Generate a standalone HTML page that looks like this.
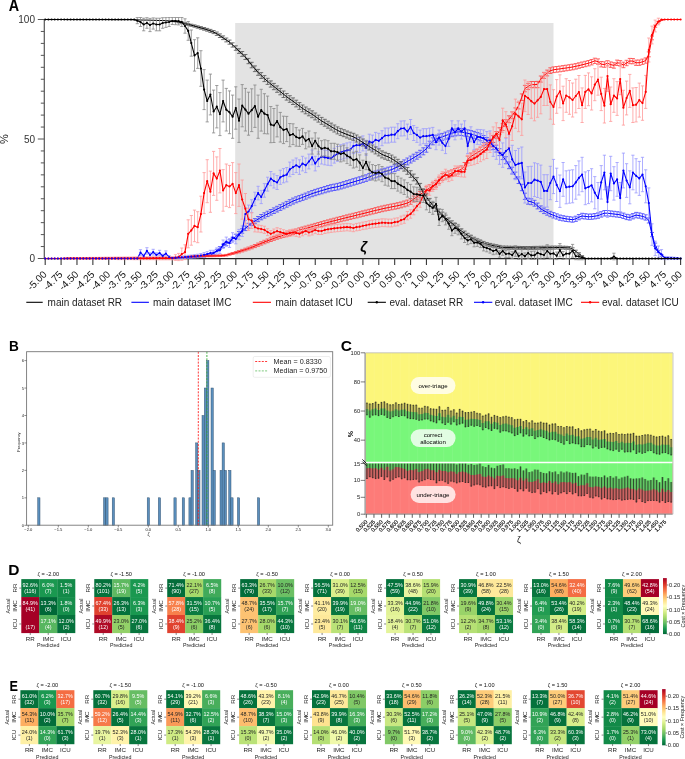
<!DOCTYPE html>
<html><head><meta charset="utf-8"><style>
html,body{margin:0;padding:0;background:#fff;}
svg{display:block;will-change:transform;}
text{font-family:"Liberation Sans",sans-serif;}
</style></head><body>
<svg width="685" height="759" viewBox="0 0 685 759">
<rect width="685" height="759" fill="#fff"/>
<rect x="235.2" y="23" width="318.3" height="235.5" fill="#e3e3e3"/>
<path d="M44.3 19.5V258.5" stroke="#555" stroke-width="1.2" fill="none"/><path d="M44.3 258.6H681" stroke="#222" stroke-width="1.3" fill="none"/>
<path d="M37.8 258.50H44.3M40.8 246.55H44.3M40.8 234.60H44.3M40.8 222.65H44.3M40.8 210.70H44.3M40.8 198.75H44.3M40.8 186.80H44.3M40.8 174.85H44.3M40.8 162.90H44.3M40.8 150.95H44.3M37.8 139.00H44.3M40.8 127.05H44.3M40.8 115.10H44.3M40.8 103.15H44.3M40.8 91.20H44.3M40.8 79.25H44.3M40.8 67.30H44.3M40.8 55.35H44.3M40.8 43.40H44.3M40.8 31.45H44.3M37.8 19.50H44.3" stroke="#555" stroke-width="1" fill="none"/>
<path d="M45.20 258.5V265M61.09 258.5V265M76.97 258.5V265M92.86 258.5V265M108.74 258.5V265M124.62 258.5V265M140.51 258.5V265M156.39 258.5V265M172.28 258.5V265M188.17 258.5V265M204.05 258.5V265M219.94 258.5V265M235.82 258.5V265M251.70 258.5V265M267.59 258.5V265M283.48 258.5V265M299.36 258.5V265M315.25 258.5V265M331.13 258.5V265M347.01 258.5V265M362.90 258.5V265M378.78 258.5V265M394.67 258.5V265M410.56 258.5V265M426.44 258.5V265M442.32 258.5V265M458.21 258.5V265M474.09 258.5V265M489.98 258.5V265M505.87 258.5V265M521.75 258.5V265M537.63 258.5V265M553.52 258.5V265M569.41 258.5V265M585.29 258.5V265M601.18 258.5V265M617.06 258.5V265M632.95 258.5V265M648.83 258.5V265M664.72 258.5V265M680.60 258.5V265" stroke="#3a3a3a" stroke-width="1.1" fill="none"/>
<g font-size="10" fill="#333" text-anchor="end">
<text x="35" y="262.0">0</text>
<text x="35" y="142.5">50</text>
<text x="35" y="23.0">100</text>
</g>
<text transform="translate(7.5 139) rotate(-90)" font-size="11" fill="#222" text-anchor="middle">%</text>
<g font-size="10" fill="#111" text-anchor="end">
<text transform="translate(47.4 275) rotate(-45)">-5.00</text>
<text transform="translate(63.3 275) rotate(-45)">-4.75</text>
<text transform="translate(79.2 275) rotate(-45)">-4.50</text>
<text transform="translate(95.1 275) rotate(-45)">-4.25</text>
<text transform="translate(110.9 275) rotate(-45)">-4.00</text>
<text transform="translate(126.8 275) rotate(-45)">-3.75</text>
<text transform="translate(142.7 275) rotate(-45)">-3.50</text>
<text transform="translate(158.6 275) rotate(-45)">-3.25</text>
<text transform="translate(174.5 275) rotate(-45)">-3.00</text>
<text transform="translate(190.4 275) rotate(-45)">-2.75</text>
<text transform="translate(206.2 275) rotate(-45)">-2.50</text>
<text transform="translate(222.1 275) rotate(-45)">-2.25</text>
<text transform="translate(238.0 275) rotate(-45)">-2.00</text>
<text transform="translate(253.9 275) rotate(-45)">-1.75</text>
<text transform="translate(269.8 275) rotate(-45)">-1.50</text>
<text transform="translate(285.7 275) rotate(-45)">-1.25</text>
<text transform="translate(301.6 275) rotate(-45)">-1.00</text>
<text transform="translate(317.4 275) rotate(-45)">-0.75</text>
<text transform="translate(333.3 275) rotate(-45)">-0.50</text>
<text transform="translate(349.2 275) rotate(-45)">-0.25</text>
<text transform="translate(365.1 275) rotate(-45)">0.00</text>
<text transform="translate(381.0 275) rotate(-45)">0.25</text>
<text transform="translate(396.9 275) rotate(-45)">0.50</text>
<text transform="translate(412.8 275) rotate(-45)">0.75</text>
<text transform="translate(428.6 275) rotate(-45)">1.00</text>
<text transform="translate(444.5 275) rotate(-45)">1.25</text>
<text transform="translate(460.4 275) rotate(-45)">1.50</text>
<text transform="translate(476.3 275) rotate(-45)">1.75</text>
<text transform="translate(492.2 275) rotate(-45)">2.00</text>
<text transform="translate(508.1 275) rotate(-45)">2.25</text>
<text transform="translate(524.0 275) rotate(-45)">2.50</text>
<text transform="translate(539.8 275) rotate(-45)">2.75</text>
<text transform="translate(555.7 275) rotate(-45)">3.00</text>
<text transform="translate(571.6 275) rotate(-45)">3.25</text>
<text transform="translate(587.5 275) rotate(-45)">3.50</text>
<text transform="translate(603.4 275) rotate(-45)">3.75</text>
<text transform="translate(619.3 275) rotate(-45)">4.00</text>
<text transform="translate(635.1 275) rotate(-45)">4.25</text>
<text transform="translate(651.0 275) rotate(-45)">4.50</text>
<text transform="translate(666.9 275) rotate(-45)">4.75</text>
<text transform="translate(682.8 275) rotate(-45)">5.00</text>
</g>
<path d="M204.1 255.6V257M202.1 255.6H206.1M202.1 257H206.1M207.2 254.8V256.4M205.2 254.8H209.2M205.2 256.4H209.2M210.4 254V255.7M208.4 254H212.4M208.4 255.7H212.4M213.6 252.2V254.2M211.6 252.2H215.6M211.6 254.2H215.6M216.8 249.3V251.8M214.8 249.3H218.8M214.8 251.8H218.8M219.9 246.5V249.4M217.9 246.5H221.9M217.9 249.4H221.9M223.1 244.2V247.4M221.1 244.2H225.1M221.1 247.4H225.1M226.3 242V245.4M224.3 242H228.3M224.3 245.4H228.3M229.5 239.8V243.4M227.5 239.8H231.5M227.5 243.4H231.5M232.6 237.2V241M230.6 237.2H234.6M230.6 241H234.6M235.8 234.3V238.4M233.8 234.3H237.8M233.8 238.4H237.8M239 231.5V235.8M237 231.5H241M237 235.8H241M242.2 228.7V233.2M240.2 228.7H244.2M240.2 233.2H244.2M245.4 226V230.6M243.4 226H247.4M243.4 230.6H247.4M248.5 223.3V228.1M246.5 223.3H250.5M246.5 228.1H250.5M251.7 220.6V225.6M249.7 220.6H253.7M249.7 225.6H253.7M254.9 218.6V223.7M252.9 218.6H256.9M252.9 223.7H256.9M258.1 216.5V221.7M256.1 216.5H260.1M256.1 221.7H260.1M261.2 214.5V219.8M259.2 214.5H263.2M259.2 219.8H263.2M264.4 212.8V218.1M262.4 212.8H266.4M262.4 218.1H266.4M267.6 211.2V216.6M265.6 211.2H269.6M265.6 216.6H269.6M270.8 209.5V215.1M268.8 209.5H272.8M268.8 215.1H272.8M273.9 207.9V213.5M271.9 207.9H275.9M271.9 213.5H275.9M277.1 206.3V212M275.1 206.3H279.1M275.1 212H279.1M280.3 204.6V210.4M278.3 204.6H282.3M278.3 210.4H282.3M283.5 203V208.8M281.5 203H285.5M281.5 208.8H285.5M286.7 201.4V207.2M284.7 201.4H288.7M284.7 207.2H288.7M289.8 199.7V205.7M287.8 199.7H291.8M287.8 205.7H291.8M293 198.1V204.1M291 198.1H295M291 204.1H295M296.2 196.8V202.8M294.2 196.8H298.2M294.2 202.8H298.2M299.4 195.6V201.6M297.4 195.6H301.4M297.4 201.6H301.4M302.5 194.3V200.4M300.5 194.3H304.5M300.5 200.4H304.5M305.7 193.1V199.2M303.7 193.1H307.7M303.7 199.2H307.7M308.9 191.8V197.9M306.9 191.8H310.9M306.9 197.9H310.9M312.1 190.5V196.7M310.1 190.5H314.1M310.1 196.7H314.1M315.2 189.4V195.7M313.2 189.4H317.2M313.2 195.7H317.2M318.4 188.4V194.7M316.4 188.4H320.4M316.4 194.7H320.4M321.6 187.5V193.8M319.6 187.5H323.6M319.6 193.8H323.6M324.8 186.5V192.8M322.8 186.5H326.8M322.8 192.8H326.8M328 185.5V191.9M326 185.5H330M326 191.9H330M331.1 184.7V191.1M329.1 184.7H333.1M329.1 191.1H333.1M334.3 184.1V190.5M332.3 184.1H336.3M332.3 190.5H336.3M337.5 183.4V189.9M335.5 183.4H339.5M335.5 189.9H339.5M340.7 182.6V189M338.7 182.6H342.7M338.7 189H342.7M343.8 181.6V188.1M341.8 181.6H345.8M341.8 188.1H345.8M347 180.6V187.1M345 180.6H349M345 187.1H349M350.2 179.7V186.2M348.2 179.7H352.2M348.2 186.2H352.2M353.4 178.7V185.2M351.4 178.7H355.4M351.4 185.2H355.4M356.5 177.8V184.3M354.5 177.8H358.5M354.5 184.3H358.5M359.7 176.8V183.4M357.7 176.8H361.7M357.7 183.4H361.7M362.9 175.9V182.4M360.9 175.9H364.9M360.9 182.4H364.9M366.1 174.8V181.4M364.1 174.8H368.1M364.1 181.4H368.1M369.3 173.5V180.1M367.3 173.5H371.3M367.3 180.1H371.3M372.4 172.2V178.9M370.4 172.2H374.4M370.4 178.9H374.4M375.6 171.1V177.8M373.6 171.1H377.6M373.6 177.8H377.6M378.8 170.1V176.8M376.8 170.1H380.8M376.8 176.8H380.8M382 169.1V175.9M380 169.1H384M380 175.9H384M385.1 168.2V174.9M383.1 168.2H387.1M383.1 174.9H387.1M388.3 167.2V174M386.3 167.2H390.3M386.3 174H390.3M391.5 166.3V173M389.5 166.3H393.5M389.5 173H393.5M394.7 164.8V171.6M392.7 164.8H396.7M392.7 171.6H396.7M397.8 163.4V170.2M395.8 163.4H399.8M395.8 170.2H399.8M401 161.8V168.7M399 161.8H403M399 168.7H403M404.2 159.9V166.8M402.2 159.9H406.2M402.2 166.8H406.2M407.4 158V164.9M405.4 158H409.4M405.4 164.9H409.4M410.6 156.1V163M408.6 156.1H412.6M408.6 163H412.6M413.7 154.2V161.1M411.7 154.2H415.7M411.7 161.1H415.7M416.9 152.3V159.2M414.9 152.3H418.9M414.9 159.2H418.9M420.1 150.3V157.2M418.1 150.3H422.1M418.1 157.2H422.1M423.3 147.8V154.8M421.3 147.8H425.3M421.3 154.8H425.3M426.4 145.3V152.2M424.4 145.3H428.4M424.4 152.2H428.4M429.6 141.2V148.2M427.6 141.2H431.6M427.6 148.2H431.6M432.8 137.8V144.8M430.8 137.8H434.8M430.8 144.8H434.8M436 135.4V142.4M434 135.4H438M434 142.4H438M439.1 134.1V141.1M437.1 134.1H441.1M437.1 141.1H441.1M442.3 133.4V140.4M440.3 133.4H444.3M440.3 140.4H444.3M445.5 132.1V139.1M443.5 132.1H447.5M443.5 139.1H447.5M448.7 130.9V137.9M446.7 130.9H450.7M446.7 137.9H450.7M451.9 129.7V136.7M449.9 129.7H453.9M449.9 136.7H453.9M455 128.9V135.9M453 128.9H457M453 135.9H457M458.2 128.3V135.3M456.2 128.3H460.2M456.2 135.3H460.2M461.4 128.5V135.5M459.4 128.5H463.4M459.4 135.5H463.4M464.6 129.1V136.1M462.6 129.1H466.6M462.6 136.1H466.6M467.7 129.8V136.8M465.7 129.8H469.7M465.7 136.8H469.7M470.9 130.5V137.5M468.9 130.5H472.9M468.9 137.5H472.9M474.1 131.4V138.4M472.1 131.4H476.1M472.1 138.4H476.1M477.3 132.5V139.5M475.3 132.5H479.3M475.3 139.5H479.3M480.4 133.8V140.8M478.4 133.8H482.4M478.4 140.8H482.4M483.6 135.5V142.5M481.6 135.5H485.6M481.6 142.5H485.6M486.8 137.5V144.5M484.8 137.5H488.8M484.8 144.5H488.8M490 140V147M488 140H492M488 147H492M493.2 142.6V149.6M491.2 142.6H495.2M491.2 149.6H495.2M496.3 145.2V152.1M494.3 145.2H498.3M494.3 152.1H498.3M499.5 148.7V155.6M497.5 148.7H501.5M497.5 155.6H501.5M502.7 152.7V159.6M500.7 152.7H504.7M500.7 159.6H504.7M505.9 156.7V163.6M503.9 156.7H507.9M503.9 163.6H507.9M509 161.9V168.7M507 161.9H511M507 168.7H511M512.2 167.2V174M510.2 167.2H514.2M510.2 174H514.2M515.4 172.1V178.8M513.4 172.1H517.4M513.4 178.8H517.4M518.6 176.9V183.5M516.6 176.9H520.6M516.6 183.5H520.6M521.8 184.3V190.7M519.8 184.3H523.8M519.8 190.7H523.8M524.9 193.2V199.4M522.9 193.2H526.9M522.9 199.4H526.9M528.1 198.2V204.2M526.1 198.2H530.1M526.1 204.2H530.1M531.3 198.8V204.7M529.3 198.8H533.3M529.3 204.7H533.3M534.5 200.3V206.2M532.5 200.3H536.5M532.5 206.2H536.5M537.6 203.1V208.9M535.6 203.1H539.6M535.6 208.9H539.6M540.8 205.9V211.6M538.8 205.9H542.8M538.8 211.6H542.8M544 208V213.6M542 208H546M542 213.6H546M547.2 209.7V215.2M545.2 209.7H549.2M545.2 215.2H549.2M550.3 211.3V216.7M548.3 211.3H552.3M548.3 216.7H552.3M553.5 212.6V218M551.5 212.6H555.5M551.5 218H555.5M556.7 213.8V219.1M554.7 213.8H558.7M554.7 219.1H558.7M559.9 215V220.3M557.9 215H561.9M557.9 220.3H561.9M563.1 215.7V220.9M561.1 215.7H565.1M561.1 220.9H565.1M566.2 216.3V221.5M564.2 216.3H568.2M564.2 221.5H568.2M569.4 216.7V221.8M567.4 216.7H571.4M567.4 221.8H571.4M572.6 217.1V222.2M570.6 217.1H574.6M570.6 222.2H574.6M575.8 216.2V221.4M573.8 216.2H577.8M573.8 221.4H577.8M578.9 214.5V219.8M576.9 214.5H580.9M576.9 219.8H580.9M582.1 213.3V218.7M580.1 213.3H584.1M580.1 218.7H584.1M585.3 213.7V219M583.3 213.7H587.3M583.3 219H587.3M588.5 214.1V219.4M586.5 214.1H590.5M586.5 219.4H590.5M591.6 214V219.3M589.6 214H593.6M589.6 219.3H593.6M594.8 213.5V218.9M592.8 213.5H596.8M592.8 218.9H596.8M598 212.9V218.3M596 212.9H600M596 218.3H600M601.2 211.7V217.1M599.2 211.7H603.2M599.2 217.1H603.2M604.4 210.5V216M602.4 210.5H606.4M602.4 216H606.4M607.5 210.5V215.9M605.5 210.5H609.5M605.5 215.9H609.5M610.7 210.9V216.3M608.7 210.9H612.7M608.7 216.3H612.7M613.9 211.3V216.7M611.9 211.3H615.9M611.9 216.7H615.9M617.1 211.7V217.1M615.1 211.7H619.1M615.1 217.1H619.1M620.2 212.1V217.5M618.2 212.1H622.2M618.2 217.5H622.2M623.4 213.1V218.5M621.4 213.1H625.4M621.4 218.5H625.4M626.6 214.3V219.6M624.6 214.3H628.6M624.6 219.6H628.6M629.8 214.8V220.1M627.8 214.8H631.8M627.8 220.1H631.8M632.9 213.6V218.9M630.9 213.6H634.9M630.9 218.9H634.9M636.1 212.4V217.8M634.1 212.4H638.1M634.1 217.8H638.1M639.3 212.9V218.2M637.3 212.9H641.3M637.3 218.2H641.3M642.5 213.7V219M640.5 213.7H644.5M640.5 219H644.5M645.7 214.8V220.1M643.7 214.8H647.7M643.7 220.1H647.7M648.8 217.9V223M646.8 217.9H650.8M646.8 223H650.8M652 232.5V236.7M650 232.5H654M650 236.7H654M655.2 243.1V246.4M653.2 243.1H657.2M653.2 246.4H657.2M658.4 250.4V252.7M656.4 250.4H660.4M656.4 252.7H660.4M661.5 254.6V256.2M659.5 254.6H663.5M659.5 256.2H663.5" stroke="#44f" stroke-width="0.8" fill="none"/>
<path d="M45.2 258.5 48.4 258.5 51.6 258.5 54.7 258.5 57.9 258.5 61.1 258.4 64.3 258.4 67.4 258.4 70.6 258.4 73.8 258.4 77 258.4 80.1 258.4 83.3 258.4 86.5 258.4 89.7 258.3 92.9 258.3 96 258.3 99.2 258.3 102.4 258.3 105.6 258.3 108.7 258.3 111.9 258.3 115.1 258.3 118.3 258.2 121.4 258.2 124.6 258.2 127.8 258.2 131 258.2 134.2 258.2 137.3 258.2 140.5 258.2 143.7 258.1 146.9 258.1 150 258.1 153.2 258.1 156.4 258.1 159.6 258.1 162.7 258.1 165.9 258.1 169.1 258.1 172.3 258 175.5 258 178.6 258 181.8 258 185 258 188.2 257.9 191.3 257.8 194.5 257.7 197.7 257.5 200.9 257 204.1 256.3 207.2 255.6 210.4 254.9 213.6 253.2 216.8 250.5 219.9 247.9 223.1 245.8 226.3 243.7 229.5 241.6 232.6 239.1 235.8 236.4 239 233.6 242.2 230.9 245.4 228.3 248.5 225.7 251.7 223.1 254.9 221.1 258.1 219.1 261.2 217.1 264.4 215.5 267.6 213.9 270.8 212.3 273.9 210.7 277.1 209.1 280.3 207.5 283.5 205.9 286.7 204.3 289.8 202.7 293 201.1 296.2 199.8 299.4 198.6 302.5 197.4 305.7 196.1 308.9 194.9 312.1 193.6 315.2 192.6 318.4 191.6 321.6 190.6 324.8 189.7 328 188.7 331.1 187.9 334.3 187.3 337.5 186.7 340.7 185.8 343.8 184.9 347 183.9 350.2 182.9 353.4 182 356.5 181 359.7 180.1 362.9 179.2 366.1 178.1 369.3 176.8 372.4 175.6 375.6 174.4 378.8 173.5 382 172.5 385.1 171.5 388.3 170.6 391.5 169.7 394.7 168.2 397.8 166.8 401 165.2 404.2 163.3 407.4 161.4 410.6 159.6 413.7 157.7 416.9 155.8 420.1 153.8 423.3 151.3 426.4 148.7 429.6 144.7 432.8 141.3 436 138.9 439.1 137.6 442.3 136.9 445.5 135.6 448.7 134.4 451.9 133.2 455 132.4 458.2 131.8 461.4 132 464.6 132.6 467.7 133.3 470.9 134 474.1 134.9 477.3 136 480.4 137.3 483.6 139 486.8 141 490 143.5 493.2 146.1 496.3 148.6 499.5 152.2 502.7 156.2 505.9 160.2 509 165.3 512.2 170.6 515.4 175.5 518.6 180.2 521.8 187.5 524.9 196.3 528.1 201.2 531.3 201.8 534.5 203.2 537.6 206 540.8 208.8 544 210.8 547.2 212.4 550.3 214 553.5 215.3 556.7 216.5 559.9 217.7 563.1 218.3 566.2 218.9 569.4 219.3 572.6 219.7 575.8 218.8 578.9 217.2 582.1 216 585.3 216.4 588.5 216.8 591.6 216.6 594.8 216.2 598 215.6 601.2 214.4 604.4 213.2 607.5 213.2 610.7 213.6 613.9 214 617.1 214.4 620.2 214.8 623.4 215.8 626.6 217 629.8 217.4 632.9 216.3 636.1 215.1 639.3 215.6 642.5 216.4 645.7 217.4 648.8 220.4 652 234.6 655.2 244.8 658.4 251.6 661.5 255.4 664.7 257.2 667.9 258.4 671.1 258.5 674.2 258.5 677.4 258.5 680.6 258.5" stroke="#00f" stroke-width="1" fill="none" stroke-linejoin="round"/>
<path d="M140.5 249.7V255.3M138.9 249.7H142.1M138.9 255.3H142.1M143.7 254.2V257.8M142.1 254.2H145.3M142.1 257.8H145.3M146.9 247.7V254.1M145.3 247.7H148.5M145.3 254.1H148.5M150 252.8V257.2M148.4 252.8H151.6M148.4 257.2H151.6M153.2 249.3V255.1M151.6 249.3H154.8M151.6 255.1H154.8M156.4 252.8V257.2M154.8 252.8H158M154.8 257.2H158M159.6 250.3V255.7M158 250.3H161.2M158 255.7H161.2M162.7 254.2V257.8M161.1 254.2H164.3M161.1 257.8H164.3M165.9 250.9V256.1M164.3 250.9H167.5M164.3 256.1H167.5M169.1 255.6V258.4M167.5 255.6H170.7M167.5 258.4H170.7M172.3 257.2V258.8M170.7 257.2H173.9M170.7 258.8H173.9M175.5 256.8V258.8M173.9 256.8H177.1M173.9 258.8H177.1M178.6 256.4V258.7M177 256.4H180.2M177 258.7H180.2M181.8 256V258.6M180.2 256H183.4M180.2 258.6H183.4M185 255.7V258.4M183.4 255.7H186.6M183.4 258.4H186.6M188.2 255.3V258.3M186.6 255.3H189.8M186.6 258.3H189.8M191.3 255V258.2M189.7 255H192.9M189.7 258.2H192.9M194.5 254.6V258M192.9 254.6H196.1M192.9 258H196.1M197.7 254.2V257.8M196.1 254.2H199.3M196.1 257.8H199.3M200.9 253.5V257.5M199.3 253.5H202.5M199.3 257.5H202.5M204.1 252.6V257M202.5 252.6H205.7M202.5 257H205.7M207.2 251.7V256.5M205.6 251.7H208.8M205.6 256.5H208.8M210.4 250.3V255.7M208.8 250.3H212M208.8 255.7H212M213.6 250.3V255.7M212 250.3H215.2M212 255.7H215.2M216.8 247.9V254.2M215.2 247.9H218.4M215.2 254.2H218.4M219.9 247V253.6M218.3 247H221.5M218.3 253.6H221.5M223.1 240V248.5M221.5 240H224.7M221.5 248.5H224.7M226.3 237.1V246.3M224.7 237.1H227.9M224.7 246.3H227.9M229.5 238.6V247.4M227.9 238.6H231.1M227.9 247.4H231.1M232.6 232.7V242.7M231 232.7H234.2M231 242.7H234.2M235.8 234.2V243.8M234.2 234.2H237.4M234.2 243.8H237.4M239 229.4V239.7M237.4 229.4H240.6M237.4 239.7H240.6M242.2 225.9V236.5M240.6 225.9H243.8M240.6 236.5H243.8M245.4 207.7V220.5M243.8 207.7H247M243.8 220.5H247M248.5 205.1V217.9M246.9 205.1H250.1M246.9 217.9H250.1M251.7 199.7V212.7M250.1 199.7H253.3M250.1 212.7H253.3M254.9 192.2V205.6M253.3 192.2H256.5M253.3 205.6H256.5M258.1 186.3V199.9M256.5 186.3H259.7M256.5 199.9H259.7M261.2 190.4V203.6M259.6 190.4H262.8M259.6 203.6H262.8M264.4 183.6V197.2M262.8 183.6H266M262.8 197.2H266M267.6 177.2V191.1M266 177.2H269.2M266 191.1H269.2M270.8 171.5V185.7M269.2 171.5H272.4M269.2 185.7H272.4M273.9 173.9V188M272.3 173.9H275.5M272.3 188H275.5M277.1 175.5V189.5M275.5 175.5H278.7M275.5 189.5H278.7M280.3 170.2V184.4M278.7 170.2H281.9M278.7 184.4H281.9M283.5 168.6V182.8M281.9 168.6H285.1M281.9 182.8H285.1M286.7 167.5V181.9M285.1 167.5H288.3M285.1 181.9H288.3M289.8 162.1V176.7M288.2 162.1H291.4M288.2 176.7H291.4M293 160V174.5M291.4 160H294.6M291.4 174.5H294.6M296.2 158V172.6M294.6 158H297.8M294.6 172.6H297.8M299.4 159.8V174.4M297.8 159.8H301M297.8 174.4H301M302.5 156.3V170.9M300.9 156.3H304.1M300.9 170.9H304.1M305.7 158V172.6M304.1 158H307.3M304.1 172.6H307.3M308.9 154.1V168.9M307.3 154.1H310.5M307.3 168.9H310.5M312.1 150V164.8M310.5 150H313.7M310.5 164.8H313.7M315.2 156.3V170.9M313.6 156.3H316.8M313.6 170.9H316.8M318.4 151.8V166.6M316.8 151.8H320M316.8 166.6H320M321.6 149.2V164M320 149.2H323.2M320 164H323.2M324.8 150V164.8M323.2 150H326.4M323.2 164.8H326.4M328 150.5V165.3M326.4 150.5H329.6M326.4 165.3H329.6M331.1 150.9V165.7M329.5 150.9H332.7M329.5 165.7H332.7M334.3 148.3V163.1M332.7 148.3H335.9M332.7 163.1H335.9M337.5 146.5V161.3M335.9 146.5H339.1M335.9 161.3H339.1M340.7 144.7V159.7M339.1 144.7H342.3M339.1 159.7H342.3M343.8 143.8V158.8M342.2 143.8H345.4M342.2 158.8H345.4M347 142.9V157.9M345.4 142.9H348.6M345.4 157.9H348.6M350.2 142.1V157.1M348.6 142.1H351.8M348.6 157.1H351.8M353.4 138.6V153.6M351.8 138.6H355M351.8 153.6H355M356.5 137.7V152.7M354.9 137.7H358.1M354.9 152.7H358.1M359.7 137.7V152.7M358.1 137.7H361.3M358.1 152.7H361.3M362.9 135.9V150.9M361.3 135.9H364.5M361.3 150.9H364.5M366.1 140.3V155.3M364.5 140.3H367.7M364.5 155.3H367.7M369.3 134.2V149.2M367.7 134.2H370.9M367.7 149.2H370.9M372.4 135.1V150.1M370.8 135.1H374M370.8 150.1H374M375.6 132.4V147.4M374 132.4H377.2M374 147.4H377.2M378.8 133.3V148.3M377.2 133.3H380.4M377.2 148.3H380.4M382 130.7V145.7M380.4 130.7H383.6M380.4 145.7H383.6M385.1 128V143M383.5 128H386.7M383.5 143H386.7M388.3 128V143M386.7 128H389.9M386.7 143H389.9M391.5 127.2V142.2M389.9 127.2H393.1M389.9 142.2H393.1M394.7 127.2V142.2M393.1 127.2H396.3M393.1 142.2H396.3M397.8 123.7V138.7M396.2 123.7H399.4M396.2 138.7H399.4M401 121V136M399.4 121H402.6M399.4 136H402.6M404.2 120.8V135.8M402.6 120.8H405.8M402.6 135.8H405.8M407.4 124.1V139.1M405.8 124.1H409M405.8 139.1H409M410.6 119.5V134.5M409 119.5H412.2M409 134.5H412.2M413.7 125.5V140.5M412.1 125.5H415.3M412.1 140.5H415.3M416.9 127.4V142.4M415.3 127.4H418.5M415.3 142.4H418.5M420.1 130.1V145.1M418.5 130.1H421.7M418.5 145.1H421.7M423.3 128.7V143.7M421.7 128.7H424.9M421.7 143.7H424.9M426.4 128.7V143.7M424.8 128.7H428M424.8 143.7H428M429.6 128.1V143.1M428 128.1H431.2M428 143.1H431.2M432.8 127.4V142.4M431.2 127.4H434.4M431.2 142.4H434.4M436 134.7V149.7M434.4 134.7H437.6M434.4 149.7H437.6M439.1 130.1V145.1M437.5 130.1H440.7M437.5 145.1H440.7M442.3 135.3V150.3M440.7 135.3H443.9M440.7 150.3H443.9M445.5 138.6V153.6M443.9 138.6H447.1M443.9 153.6H447.1M448.7 131.4V146.4M447.1 131.4H450.3M447.1 146.4H450.3M451.9 120.8V135.8M450.3 120.8H453.5M450.3 135.8H453.5M455 124.8V139.8M453.4 124.8H456.6M453.4 139.8H456.6M458.2 120.8V135.8M456.6 120.8H459.8M456.6 135.8H459.8M461.4 124.1V139.1M459.8 124.1H463M459.8 139.1H463M464.6 120.8V135.8M463 120.8H466.2M463 135.8H466.2M467.7 138.6V153.6M466.1 138.6H469.3M466.1 153.6H469.3M470.9 126.8V141.8M469.3 126.8H472.5M469.3 141.8H472.5M474.1 134.7V149.7M472.5 134.7H475.7M472.5 149.7H475.7M477.3 129.4V144.4M475.7 129.4H478.9M475.7 144.4H478.9M480.4 129.6V144.8M478.8 129.6H482M478.8 144.8H482M483.6 129.9V146.4M482 129.9H485.2M482 146.4H485.2M486.8 131.6V149.4M485.2 131.6H488.4M485.2 149.4H488.4M490 130.9V150.1M488.4 130.9H491.6M488.4 150.1H491.6M493.2 135.9V156.4M491.6 135.9H494.8M491.6 156.4H494.8M496.3 137.5V159.3M494.7 137.5H497.9M494.7 159.3H497.9M499.5 141.3V164.3M497.9 141.3H501.1M497.9 164.3H501.1M502.7 142.9V167.3M501.1 142.9H504.3M501.1 167.3H504.3M505.9 138.2V164M504.3 138.2H507.5M504.3 164H507.5M509 134.8V162M507.4 134.8H510.6M507.4 162H510.6M512.2 145.3V173.4M510.6 145.3H513.8M510.6 173.4H513.8M515.4 150.5V179.7M513.8 150.5H517M513.8 179.7H517M518.6 148.4V178.9M517 148.4H520.2M517 178.9H520.2M521.8 147V178.8M520.1 147H523.4M520.1 178.8H523.4M524.9 172V203M523.3 172H526.5M523.3 203H526.5M528.1 166.6V199.4M526.5 166.6H529.7M526.5 199.4H529.7M531.3 166.3V199.7M529.7 166.3H532.9M529.7 199.7H532.9M534.5 162.8V196.6M532.9 162.8H536.1M532.9 196.6H536.1M537.6 163.7V197.5M536 163.7H539.2M536 197.5H539.2M540.8 165.1V198.7M539.2 165.1H542.4M539.2 198.7H542.4M544 174.7V207.1M542.4 174.7H545.6M542.4 207.1H545.6M547.2 174.7V207.1M545.6 174.7H548.8M545.6 207.1H548.8M550.3 166.3V199.7M548.7 166.3H551.9M548.7 199.7H551.9M553.5 159.4V193.6M551.9 159.4H555.1M551.9 193.6H555.1M556.7 168.2V201.5M555.1 168.2H558.3M555.1 201.5H558.3M559.9 175V207.4M558.3 175H561.5M558.3 207.4H561.5M563.1 162.5V196.3M561.5 162.5H564.7M561.5 196.3H564.7M566.2 170.8V203.8M564.6 170.8H567.8M564.6 203.8H567.8M569.4 170.2V203.2M567.8 170.2H571M567.8 203.2H571M572.6 169.8V202.8M571 169.8H574.2M571 202.8H574.2M575.8 165.6V199.2M574.2 165.6H577.4M574.2 199.2H577.4M578.9 160.9V195M577.3 160.9H580.5M577.3 195H580.5M582.1 157.3V191.7M580.5 157.3H583.7M580.5 191.7H583.7M585.3 171.9V204.7M583.7 171.9H586.9M583.7 204.7H586.9M588.5 170.6V203.6M586.9 170.6H590.1M586.9 203.6H590.1M591.6 168.7V201.9M590 168.7H593.2M590 201.9H593.2M594.8 176.6V208.8M593.2 176.6H596.4M593.2 208.8H596.4M598 182.5V213.7M596.4 182.5H599.6M596.4 213.7H599.6M601.2 165.6V199.1M599.6 165.6H602.8M599.6 199.1H602.8M604.4 155.2V189.8M602.8 155.2H606M602.8 189.8H606M607.5 186.8V217.4M605.9 186.8H609.1M605.9 217.4H609.1M610.7 156.3V190.7M609.1 156.3H612.3M609.1 190.7H612.3M613.9 166.7V200.1M612.3 166.7H615.5M612.3 200.1H615.5M617.1 162.5V196.3M615.5 162.5H618.7M615.5 196.3H618.7M620.2 182.5V213.7M618.6 182.5H621.8M618.6 213.7H621.8M623.4 153.1V187.9M621.8 153.1H625M621.8 187.9H625M626.6 163.7V197.4M625 163.7H628.2M625 197.4H628.2M629.8 170.8V203.8M628.2 170.8H631.4M628.2 203.8H631.4M632.9 155.2V189.8M631.3 155.2H634.5M631.3 189.8H634.5M636.1 158.7V192.9M634.5 158.7H637.7M634.5 192.9H637.7M639.3 161.4V195.4M637.7 161.4H640.9M637.7 195.4H640.9M642.5 157.3V191.7M640.9 157.3H644.1M640.9 191.7H644.1M645.7 169.8V202.8M644.1 169.8H647.3M644.1 202.8H647.3M648.8 187.9V218.3M647.2 187.9H650.4M647.2 218.3H650.4M652 223.8V245.4M650.4 223.8H653.6M650.4 245.4H653.6M655.2 241.2V255.6M653.6 241.2H656.8M653.6 255.6H656.8M658.4 246V257.8M656.8 246H660M656.8 257.8H660M661.5 249.6V259M659.9 249.6H663.1M659.9 259H663.1M664.7 256.4V259.6M663.1 256.4H666.3M663.1 259.6H666.3M667.9 256.6V259.6M666.3 256.6H669.5M666.3 259.6H669.5M671.1 256.9V259.5M669.5 256.9H672.7M669.5 259.5H672.7M674.2 257.2V259.4M672.6 257.2H675.8M672.6 259.4H675.8M677.4 257.6V259.2M675.8 257.6H679M675.8 259.2H679" stroke="#99f" stroke-width="0.8" fill="none"/>
<path d="M45.2 258.5 48.4 258.5 51.6 258.5 54.7 258.5 57.9 258.5 61.1 258.5 64.3 258.5 67.4 258.5 70.6 258.5 73.8 258.5 77 258.5 80.1 258.5 83.3 258.5 86.5 258.5 89.7 258.5 92.9 258.5 96 258.5 99.2 258.5 102.4 258.5 105.6 258.5 108.7 258.5 111.9 258.5 115.1 258.5 118.3 258.5 121.4 258.5 124.6 258.5 127.8 258.5 131 258.5 134.2 258.5 137.3 258.5 140.5 252.5 143.7 256 146.9 250.9 150 255 153.2 252.2 156.4 255 159.6 253 162.7 256 165.9 253.5 169.1 257 172.3 258 175.5 257.8 178.6 257.5 181.8 257.3 185 257.1 188.2 256.8 191.3 256.6 194.5 256.3 197.7 256 200.9 255.5 204.1 254.8 207.2 254.1 210.4 253 213.6 253 216.8 251 219.9 250.3 223.1 244.3 226.3 241.7 229.5 243 232.6 237.7 235.8 239 239 234.6 242.2 231.2 245.4 214.1 248.5 211.5 251.7 206.2 254.9 198.9 258.1 193.1 261.2 197 264.4 190.4 267.6 184.1 270.8 178.6 273.9 181 277.1 182.5 280.3 177.3 283.5 175.7 286.7 174.7 289.8 169.4 293 167.2 296.2 165.3 299.4 167.1 302.5 163.6 305.7 165.3 308.9 161.5 312.1 157.4 315.2 163.6 318.4 159.2 321.6 156.6 324.8 157.4 328 157.9 331.1 158.3 334.3 155.7 337.5 153.9 340.7 152.2 343.8 151.3 347 150.4 350.2 149.6 353.4 146.1 356.5 145.2 359.7 145.2 362.9 143.4 366.1 147.8 369.3 141.7 372.4 142.6 375.6 139.9 378.8 140.8 382 138.2 385.1 135.5 388.3 135.5 391.5 134.7 394.7 134.7 397.8 131.2 401 128.5 404.2 128.3 407.4 131.6 410.6 127 413.7 133 416.9 134.9 420.1 137.6 423.3 136.2 426.4 136.2 429.6 135.6 432.8 134.9 436 142.2 439.1 137.6 442.3 142.8 445.5 146.1 448.7 138.9 451.9 128.3 455 132.3 458.2 128.3 461.4 131.6 464.6 128.3 467.7 146.1 470.9 134.3 474.1 142.2 477.3 136.9 480.4 137.2 483.6 138.1 486.8 140.5 490 140.5 493.2 146.1 496.3 148.4 499.5 152.8 502.7 155.1 505.9 151.1 509 148.4 512.2 159.4 515.4 165.1 518.6 163.7 521.8 162.9 524.9 187.5 528.1 183 531.3 183 534.5 179.7 537.6 180.6 540.8 181.9 544 190.9 547.2 190.9 550.3 183 553.5 176.5 556.7 184.9 559.9 191.2 563.1 179.4 566.2 187.3 569.4 186.7 572.6 186.3 575.8 182.4 578.9 177.9 582.1 174.5 585.3 188.3 588.5 187.1 591.6 185.3 594.8 192.7 598 198.1 601.2 182.4 604.4 172.5 607.5 202.1 610.7 173.5 613.9 183.4 617.1 179.4 620.2 198.1 623.4 170.5 626.6 180.6 629.8 187.3 632.9 172.5 636.1 175.8 639.3 178.4 642.5 174.5 645.7 186.3 648.8 203.1 652 234.6 655.2 248.4 658.4 251.9 661.5 254.3 664.7 258 667.9 258.1 671.1 258.2 674.2 258.3 677.4 258.4 680.6 258.5" stroke="#00f" stroke-width="1.1" fill="none" stroke-linejoin="round"/>
<path d="M191.3 255.9V257.2M189.3 255.9H193.3M189.3 257.2H193.3M194.5 255.7V257M192.5 255.7H196.5M192.5 257H196.5M197.7 255.4V256.8M195.7 255.4H199.7M195.7 256.8H199.7M200.9 255.3V256.7M198.9 255.3H202.9M198.9 256.7H202.9M204.1 255.3V256.7M202.1 255.3H206.1M202.1 256.7H206.1M207.2 255.3V256.7M205.2 255.3H209.2M205.2 256.7H209.2M210.4 255.3V256.7M208.4 255.3H212.4M208.4 256.7H212.4M213.6 255.2V256.7M211.6 255.2H215.6M211.6 256.7H215.6M216.8 255.1V256.6M214.8 255.1H218.8M214.8 256.6H218.8M219.9 254.9V256.5M217.9 254.9H221.9M217.9 256.5H221.9M223.1 254.8V256.3M221.1 254.8H225.1M221.1 256.3H225.1M226.3 254.4V256M224.3 254.4H228.3M224.3 256H228.3M229.5 253.4V255.2M227.5 253.4H231.5M227.5 255.2H231.5M232.6 252.5V254.5M230.6 252.5H234.6M230.6 254.5H234.6M235.8 251.6V253.7M233.8 251.6H237.8M233.8 253.7H237.8M239 250.6V252.9M237 250.6H241M237 252.9H241M242.2 249.4V251.9M240.2 249.4H244.2M240.2 251.9H244.2M245.4 248.2V250.9M243.4 248.2H247.4M243.4 250.9H247.4M248.5 247.1V249.9M246.5 247.1H250.5M246.5 249.9H250.5M251.7 245.9V248.8M249.7 245.9H253.7M249.7 248.8H253.7M254.9 244.5V247.6M252.9 244.5H256.9M252.9 247.6H256.9M258.1 243.1V246.3M256.1 243.1H260.1M256.1 246.3H260.1M261.2 241.7V245.1M259.2 241.7H263.2M259.2 245.1H263.2M264.4 240.3V243.8M262.4 240.3H266.4M262.4 243.8H266.4M267.6 239V242.7M265.6 239H269.6M265.6 242.7H269.6M270.8 237.7V241.5M268.8 237.7H272.8M268.8 241.5H272.8M273.9 236.5V240.3M271.9 236.5H275.9M271.9 240.3H275.9M277.1 235.2V239.2M275.1 235.2H279.1M275.1 239.2H279.1M280.3 234.1V238.2M278.3 234.1H282.3M278.3 238.2H282.3M283.5 233.1V237.3M281.5 233.1H285.5M281.5 237.3H285.5M286.7 232.1V236.4M284.7 232.1H288.7M284.7 236.4H288.7M289.8 231.1V235.4M287.8 231.1H291.8M287.8 235.4H291.8M293 230.1V234.5M291 230.1H295M291 234.5H295M296.2 229V233.5M294.2 229H298.2M294.2 233.5H298.2M299.4 227.9V232.5M297.4 227.9H301.4M297.4 232.5H301.4M302.5 227V231.6M300.5 227H304.5M300.5 231.6H304.5M305.7 226.1V230.8M303.7 226.1H307.7M303.7 230.8H307.7M308.9 225.2V229.9M306.9 225.2H310.9M306.9 229.9H310.9M312.1 224.3V229.1M310.1 224.3H314.1M310.1 229.1H314.1M315.2 223.4V228.2M313.2 223.4H317.2M313.2 228.2H317.2M318.4 222.5V227.4M316.4 222.5H320.4M316.4 227.4H320.4M321.6 221.6V226.6M319.6 221.6H323.6M319.6 226.6H323.6M324.8 220.7V225.7M322.8 220.7H326.8M322.8 225.7H326.8M328 219.9V224.9M326 219.9H330M326 224.9H330M331.1 219V224M329.1 219H333.1M329.1 224H333.1M334.3 218.2V223.3M332.3 218.2H336.3M332.3 223.3H336.3M337.5 217.3V222.5M335.5 217.3H339.5M335.5 222.5H339.5M340.7 216.5V221.7M338.7 216.5H342.7M338.7 221.7H342.7M343.8 215.7V220.9M341.8 215.7H345.8M341.8 220.9H345.8M347 214.9V220.2M345 214.9H349M345 220.2H349M350.2 214.1V219.4M348.2 214.1H352.2M348.2 219.4H352.2M353.4 213.3V218.6M351.4 213.3H355.4M351.4 218.6H355.4M356.5 212.5V217.9M354.5 212.5H358.5M354.5 217.9H358.5M359.7 211.7V217.1M357.7 211.7H361.7M357.7 217.1H361.7M362.9 210.9V216.3M360.9 210.9H364.9M360.9 216.3H364.9M366.1 210.1V215.6M364.1 210.1H368.1M364.1 215.6H368.1M369.3 209.3V214.8M367.3 209.3H371.3M367.3 214.8H371.3M372.4 208.5V214M370.4 208.5H374.4M370.4 214H374.4M375.6 207.6V213.3M373.6 207.6H377.6M373.6 213.3H377.6M378.8 206.8V212.5M376.8 206.8H380.8M376.8 212.5H380.8M382 206V211.7M380 206H384M380 211.7H384M385.1 205.3V211M383.1 205.3H387.1M383.1 211H387.1M388.3 204.7V210.4M386.3 204.7H390.3M386.3 210.4H390.3M391.5 204V209.8M389.5 204H393.5M389.5 209.8H393.5M394.7 203.4V209.2M392.7 203.4H396.7M392.7 209.2H396.7M397.8 202.7V208.6M395.8 202.7H399.8M395.8 208.6H399.8M401 202V207.8M399 202H403M399 207.8H403M404.2 201V206.9M402.2 201H406.2M402.2 206.9H406.2M407.4 200.1V206M405.4 200.1H409.4M405.4 206H409.4M410.6 198.4V204.3M408.6 198.4H412.6M408.6 204.3H412.6M413.7 196.1V202.1M411.7 196.1H415.7M411.7 202.1H415.7M416.9 193.8V199.9M414.9 193.8H418.9M414.9 199.9H418.9M420.1 191.5V197.7M418.1 191.5H422.1M418.1 197.7H422.1M423.3 189.1V195.4M421.3 189.1H425.3M421.3 195.4H425.3M426.4 186.8V193.1M424.4 186.8H428.4M424.4 193.1H428.4M429.6 184.8V191.2M427.6 184.8H431.6M427.6 191.2H431.6M432.8 182.8V189.3M430.8 182.8H434.8M430.8 189.3H434.8M436 180.6V187.1M434 180.6H438M434 187.1H438M439.1 177.1V183.7M437.1 177.1H441.1M437.1 183.7H441.1M442.3 173.6V180.3M440.3 173.6H444.3M440.3 180.3H444.3M445.5 172.3V179M443.5 172.3H447.5M443.5 179H447.5M448.7 171V177.7M446.7 171H450.7M446.7 177.7H450.7M451.9 169.8V176.5M449.9 169.8H453.9M449.9 176.5H453.9M455 168.5V175.2M453 168.5H457M453 175.2H457M458.2 167.2V174M456.2 167.2H460.2M456.2 174H460.2M461.4 165.9V172.7M459.4 165.9H463.4M459.4 172.7H463.4M464.6 162.5V169.4M462.6 162.5H466.6M462.6 169.4H466.6M467.7 156.1V163M465.7 156.1H469.7M465.7 163H469.7M470.9 153V160M468.9 153H472.9M468.9 160H472.9M474.1 151.1V158M472.1 151.1H476.1M472.1 158H476.1M477.3 149.1V156.1M475.3 149.1H479.3M475.3 156.1H479.3M480.4 147.2V154.2M478.4 147.2H482.4M478.4 154.2H482.4M483.6 145.3V152.3M481.6 145.3H485.6M481.6 152.3H485.6M486.8 143V150M484.8 143H488.8M484.8 150H488.8M490 139.2V146.2M488 139.2H492M488 146.2H492M493.2 135.4V142.4M491.2 135.4H495.2M491.2 142.4H495.2M496.3 131.6V138.6M494.3 131.6H498.3M494.3 138.6H498.3M499.5 127.7V134.6M497.5 127.7H501.5M497.5 134.6H501.5M502.7 123.7V130.6M500.7 123.7H504.7M500.7 130.6H504.7M505.9 119.7V126.6M503.9 119.7H507.9M503.9 126.6H507.9M509 115.8V122.7M507 115.8H511M507 122.7H511M512.2 111.9V118.7M510.2 111.9H514.2M510.2 118.7H514.2M515.4 107.9V114.7M513.4 107.9H517.4M513.4 114.7H517.4M518.6 102.2V108.9M516.6 102.2H520.6M516.6 108.9H520.6M521.8 93.9V100.5M519.8 93.9H523.8M519.8 100.5H523.8M524.9 85.4V91.8M522.9 85.4H526.9M522.9 91.8H526.9M528.1 83.3V89.6M526.1 83.3H530.1M526.1 89.6H530.1M531.3 81.5V87.7M529.3 81.5H533.3M529.3 87.7H533.3M534.5 81.5V87.7M532.5 81.5H536.5M532.5 87.7H536.5M537.6 81.4V87.7M535.6 81.4H539.6M535.6 87.7H539.6M540.8 76V82.1M538.8 76H542.8M538.8 82.1H542.8M544 72.4V78.4M542 72.4H546M542 78.4H546M547.2 70.1V75.9M545.2 70.1H549.2M545.2 75.9H549.2M550.3 67.8V73.5M548.3 67.8H552.3M548.3 73.5H552.3M553.5 66.9V72.6M551.5 66.9H555.5M551.5 72.6H555.5M556.7 66.5V72.2M554.7 66.5H558.7M554.7 72.2H558.7M559.9 66.1V71.8M557.9 66.1H561.9M557.9 71.8H561.9M563.1 65.6V71.3M561.1 65.6H565.1M561.1 71.3H565.1M566.2 65.2V70.8M564.2 65.2H568.2M564.2 70.8H568.2M569.4 64.7V70.3M567.4 64.7H571.4M567.4 70.3H571.4M572.6 64.2V69.8M570.6 64.2H574.6M570.6 69.8H574.6M575.8 63.6V69.1M573.8 63.6H577.8M573.8 69.1H577.8M578.9 62.8V68.3M576.9 62.8H580.9M576.9 68.3H580.9M582.1 62V67.5M580.1 62H584.1M580.1 67.5H584.1M585.3 61.3V66.7M583.3 61.3H587.3M583.3 66.7H587.3M588.5 60.5V65.9M586.5 60.5H590.5M586.5 65.9H590.5M591.6 59.5V64.9M589.6 59.5H593.6M589.6 64.9H593.6M594.8 58.2V63.5M592.8 58.2H596.8M592.8 63.5H596.8M598 58.9V64.3M596 58.9H600M596 64.3H600M601.2 61.5V66.9M599.2 61.5H603.2M599.2 66.9H603.2M604.4 61.8V67.3M602.4 61.8H606.4M602.4 67.3H606.4M607.5 60.5V65.9M605.5 60.5H609.5M605.5 65.9H609.5M610.7 61.9V67.4M608.7 61.9H612.7M608.7 67.4H612.7M613.9 62.7V68.2M611.9 62.7H615.9M611.9 68.2H615.9M617.1 60.1V65.5M615.1 60.1H619.1M615.1 65.5H619.1M620.2 60.6V66M618.2 60.6H622.2M618.2 66H622.2M623.4 62.2V67.7M621.4 62.2H625.4M621.4 67.7H625.4M626.6 60.3V65.7M624.6 60.3H628.6M624.6 65.7H628.6M629.8 58.4V63.7M627.8 58.4H631.8M627.8 63.7H631.8M632.9 58.5V63.8M630.9 58.5H634.9M630.9 63.8H634.9M636.1 60.1V65.4M634.1 60.1H638.1M634.1 65.4H638.1M639.3 60V65.4M637.3 60H641.3M637.3 65.4H641.3M642.5 59.1V64.4M640.5 59.1H644.5M640.5 64.4H644.5M645.7 57.9V63.2M643.7 57.9H647.7M643.7 63.2H647.7M648.8 51.9V56.8M646.8 51.9H650.8M646.8 56.8H650.8M652 36.1V39.8M650 36.1H654M650 39.8H654M655.2 25V27.3M653.2 25H657.2M653.2 27.3H657.2M658.4 21.5V23M656.4 21.5H660.4M656.4 23H660.4" stroke="#f44" stroke-width="0.8" fill="none"/>
<path d="M45.2 258.5 48.4 258.5 51.6 258.5 54.7 258.5 57.9 258.5 61.1 258.5 64.3 258.5 67.4 258.4 70.6 258.4 73.8 258.4 77 258.4 80.1 258.4 83.3 258.4 86.5 258.4 89.7 258.4 92.9 258.4 96 258.4 99.2 258.4 102.4 258.4 105.6 258.4 108.7 258.4 111.9 258.3 115.1 258.3 118.3 258.3 121.4 258.3 124.6 258.3 127.8 258.3 131 258.3 134.2 258.3 137.3 258.3 140.5 258.3 143.7 258.3 146.9 258.3 150 258.3 153.2 258.2 156.4 258.2 159.6 258.2 162.7 258.2 165.9 258.2 169.1 258.2 172.3 258.2 175.5 257.9 178.6 257.6 181.8 257.4 185 257.1 188.2 256.8 191.3 256.6 194.5 256.3 197.7 256.1 200.9 256 204.1 256 207.2 256 210.4 256 213.6 255.9 216.8 255.8 219.9 255.7 223.1 255.6 226.3 255.2 229.5 254.3 232.6 253.5 235.8 252.6 239 251.7 242.2 250.6 245.4 249.6 248.5 248.5 251.7 247.4 254.9 246 258.1 244.7 261.2 243.4 264.4 242 267.6 240.8 270.8 239.6 273.9 238.4 277.1 237.2 280.3 236.2 283.5 235.2 286.7 234.3 289.8 233.3 293 232.3 296.2 231.2 299.4 230.2 302.5 229.3 305.7 228.4 308.9 227.6 312.1 226.7 315.2 225.8 318.4 225 321.6 224.1 324.8 223.2 328 222.4 331.1 221.5 334.3 220.7 337.5 219.9 340.7 219.1 343.8 218.3 347 217.5 350.2 216.7 353.4 216 356.5 215.2 359.7 214.4 362.9 213.6 366.1 212.8 369.3 212 372.4 211.2 375.6 210.4 378.8 209.7 382 208.9 385.1 208.2 388.3 207.6 391.5 206.9 394.7 206.3 397.8 205.7 401 204.9 404.2 204 407.4 203 410.6 201.4 413.7 199.1 416.9 196.9 420.1 194.6 423.3 192.3 426.4 190 429.6 188 432.8 186 436 183.9 439.1 180.4 442.3 176.9 445.5 175.7 448.7 174.4 451.9 173.1 455 171.9 458.2 170.6 461.4 169.3 464.6 165.9 467.7 159.5 470.9 156.5 474.1 154.6 477.3 152.6 480.4 150.7 483.6 148.8 486.8 146.5 490 142.7 493.2 138.9 496.3 135.1 499.5 131.1 502.7 127.1 505.9 123.1 509 119.2 512.2 115.3 515.4 111.3 518.6 105.6 521.8 97.2 524.9 88.6 528.1 86.5 531.3 84.6 534.5 84.6 537.6 84.5 540.8 79 544 75.4 547.2 73 550.3 70.7 553.5 69.8 556.7 69.3 559.9 68.9 563.1 68.4 566.2 68 569.4 67.5 572.6 67 575.8 66.3 578.9 65.6 582.1 64.8 585.3 64 588.5 63.2 591.6 62.2 594.8 60.8 598 61.6 601.2 64.2 604.4 64.5 607.5 63.2 610.7 64.6 613.9 65.4 617.1 62.8 620.2 63.3 623.4 65 626.6 63 629.8 61 632.9 61.1 636.1 62.8 639.3 62.7 642.5 61.8 645.7 60.6 648.8 54.4 652 38 655.2 26.1 658.4 22.3 661.5 20.6 664.7 19.5 667.9 19.5 671.1 19.5 674.2 19.5 677.4 19.5 680.6 19.5" stroke="#f00" stroke-width="1" fill="none" stroke-linejoin="round"/>
<path d="M64.3 257.8V259.1M62.7 257.8H65.9M62.7 259.1H65.9M67.4 257.8V259.1M65.8 257.8H69M65.8 259.1H69M70.6 257.7V259.2M69 257.7H72.2M69 259.2H72.2M73.8 257.7V259.2M72.2 257.7H75.4M72.2 259.2H75.4M77 257.6V259.2M75.4 257.6H78.6M75.4 259.2H78.6M80.1 257.6V259.3M78.5 257.6H81.7M78.5 259.3H81.7M83.3 257.5V259.3M81.7 257.5H84.9M81.7 259.3H84.9M86.5 257.5V259.3M84.9 257.5H88.1M84.9 259.3H88.1M89.7 257.4V259.4M88.1 257.4H91.3M88.1 259.4H91.3M92.9 257.4V259.4M91.3 257.4H94.5M91.3 259.4H94.5M96 257.4V259.4M94.4 257.4H97.6M94.4 259.4H97.6M99.2 257.3V259.4M97.6 257.3H100.8M97.6 259.4H100.8M102.4 257.3V259.5M100.8 257.3H104M100.8 259.5H104M105.6 257.2V259.5M104 257.2H107.2M104 259.5H107.2M108.7 257.2V259.5M107.1 257.2H110.3M107.1 259.5H110.3M111.9 257.2V259.5M110.3 257.2H113.5M110.3 259.5H113.5M115.1 257.1V259.5M113.5 257.1H116.7M113.5 259.5H116.7M118.3 257.1V259.6M116.7 257.1H119.9M116.7 259.6H119.9M121.4 257.1V259.6M119.8 257.1H123M119.8 259.6H123M124.6 257V259.6M123 257H126.2M123 259.6H126.2M127.8 257V259.6M126.2 257H129.4M126.2 259.6H129.4M131 257V259.6M129.4 257H132.6M129.4 259.6H132.6M134.2 256.9V259.7M132.6 256.9H135.8M132.6 259.7H135.8M137.3 256.9V259.7M135.7 256.9H138.9M135.7 259.7H138.9M140.5 256.9V259.7M138.9 256.9H142.1M138.9 259.7H142.1M143.7 256.8V259.7M142.1 256.8H145.3M142.1 259.7H145.3M146.9 256.8V259.7M145.3 256.8H148.5M145.3 259.7H148.5M150 256.8V259.7M148.4 256.8H151.6M148.4 259.7H151.6M153.2 256.7V259.7M151.6 256.7H154.8M151.6 259.7H154.8M156.4 256.7V259.8M154.8 256.7H158M154.8 259.8H158M159.6 256.7V259.8M158 256.7H161.2M158 259.8H161.2M162.7 256.7V259.8M161.1 256.7H164.3M161.1 259.8H164.3M165.9 256.6V259.8M164.3 256.6H167.5M164.3 259.8H167.5M169.1 256.6V259.8M167.5 256.6H170.7M167.5 259.8H170.7M172.3 256.6V259.8M170.7 256.6H173.9M170.7 259.8H173.9M175.5 254.7V260.4M173.9 254.7H177.1M173.9 260.4H177.1M178.6 253.4V260.6M177 253.4H180.2M177 260.6H180.2M181.8 248V260.3M180.2 248H183.4M180.2 260.3H183.4M185 244.8V259.6M183.4 244.8H186.6M183.4 259.6H186.6M188.2 219.8V247.8M186.6 219.8H189.8M186.6 247.8H189.8M191.3 215.5V245.2M189.7 215.5H192.9M189.7 245.2H192.9M194.5 210.1V241.7M192.9 210.1H196.1M192.9 241.7H196.1M197.7 211.7V242.7M196.1 211.7H199.3M196.1 242.7H199.3M200.9 196.2V232M199.3 196.2H202.5M199.3 232H202.5M204.1 172.6V213.6M202.5 172.6H205.7M202.5 213.6H205.7M207.2 159.7V202.7M205.6 159.7H208.8M205.6 202.7H208.8M210.4 171.1V212.3M208.8 171.1H212M208.8 212.3H212M213.6 151.4V195.4M212 151.4H215.2M212 195.4H215.2M216.8 156.9V200.3M215.2 156.9H218.4M215.2 200.3H218.4M219.9 148.5V192.9M218.3 148.5H221.5M218.3 192.9H221.5M223.1 169.6V211.2M221.5 169.6H224.7M221.5 211.2H224.7M226.3 164V206.4M224.7 164H227.9M224.7 206.4H227.9M229.5 165.4V207.6M227.9 165.4H231.1M227.9 207.6H231.1M232.6 162.6V205.2M231 162.6H234.2M231 205.2H234.2M235.8 172.6V213.6M234.2 172.6H237.4M234.2 213.6H237.4M239 164V206.4M237.4 164H240.6M237.4 206.4H240.6M242.2 180V219.2M240.6 180H243.8M240.6 219.2H243.8M245.4 193.5V224.1M243.8 193.5H247M243.8 224.1H247M248.5 208.3V230.3M246.9 208.3H250.1M246.9 230.3H250.1M251.7 212.7V228.5M250.1 212.7H253.3M250.1 228.5H253.3M254.9 222.5V231.9M253.3 222.5H256.5M253.3 231.9H256.5M258.1 224.9V232.1M256.5 224.9H259.7M256.5 232.1H259.7M261.2 225.4V232.6M259.6 225.4H262.8M259.6 232.6H262.8M264.4 226.2V233.4M262.8 226.2H266M262.8 233.4H266M267.6 228.7V235.6M266 228.7H269.2M266 235.6H269.2M270.8 230.5V237.1M269.2 230.5H272.4M269.2 237.1H272.4M273.9 229V235.8M272.3 229H275.5M272.3 235.8H275.5M277.1 227.7V234.7M275.5 227.7H278.7M275.5 234.7H278.7M280.3 228.6V235.5M278.7 228.6H281.9M278.7 235.5H281.9M283.5 229.7V236.5M281.9 229.7H285.1M281.9 236.5H285.1M286.7 230.5V237.1M285.1 230.5H288.3M285.1 237.1H288.3M289.8 229.7V236.5M288.2 229.7H291.4M288.2 236.5H291.4M293 229.1V235.9M291.4 229.1H294.6M291.4 235.9H294.6M296.2 229.7V236.4M294.6 229.7H297.8M294.6 236.4H297.8M299.4 230.5V237.1M297.8 230.5H301M297.8 237.1H301M302.5 228.9V235.8M300.9 228.9H304.1M300.9 235.8H304.1M305.7 227.5V234.5M304.1 227.5H307.3M304.1 234.5H307.3M308.9 229.1V235.9M307.3 229.1H310.5M307.3 235.9H310.5M312.1 228V235M310.5 228H313.7M310.5 235H313.7M315.2 226.4V233.6M313.6 226.4H316.8M313.6 233.6H316.8M318.4 227.5V234.5M316.8 227.5H320M316.8 234.5H320M321.6 227.5V234.5M320 227.5H323.2M320 234.5H323.2M324.8 226.4V233.5M323.2 226.4H326.4M323.2 233.5H326.4M328 225.6V232.9M326.4 225.6H329.6M326.4 232.9H329.6M331.1 225.2V232.4M329.5 225.2H332.7M329.5 232.4H332.7M334.3 224.7V232M332.7 224.7H335.9M332.7 232H335.9M337.5 224.3V231.7M335.9 224.3H339.1M335.9 231.7H339.1M340.7 224.1V231.4M339.1 224.1H342.3M339.1 231.4H342.3M343.8 223.7V231.1M342.2 223.7H345.4M342.2 231.1H345.4M347 223.4V230.8M345.4 223.4H348.6M345.4 230.8H348.6M350.2 223.7V231.1M348.6 223.7H351.8M348.6 231.1H351.8M353.4 224.3V231.7M351.8 224.3H355M351.8 231.7H355M356.5 223.4V230.8M354.9 223.4H358.1M354.9 230.8H358.1M359.7 222.9V230.4M358.1 222.9H361.3M358.1 230.4H361.3M362.9 222.1V229.6M361.3 222.1H364.5M361.3 229.6H364.5M366.1 221.5V229.1M364.5 221.5H367.7M364.5 229.1H367.7M369.3 220.7V228.4M367.7 220.7H370.9M367.7 228.4H370.9M372.4 220.1V227.9M370.8 220.1H374M370.8 227.9H374M375.6 219.7V227.4M374 219.7H377.2M374 227.4H377.2M378.8 219.3V227.1M377.2 219.3H380.4M377.2 227.1H380.4M382 218.8V226.6M380.4 218.8H383.6M380.4 226.6H383.6M385.1 218.9V226.7M383.5 218.9H386.7M383.5 226.7H386.7M388.3 219.1V226.9M386.7 219.1H389.9M386.7 226.9H389.9M391.5 219.1V226.9M389.9 219.1H393.1M389.9 226.9H393.1M394.7 218.2V226.1M393.1 218.2H396.3M393.1 226.1H396.3M397.8 217.8V225.8M396.2 217.8H399.4M396.2 225.8H399.4M401 216.1V224.2M399.4 216.1H402.6M399.4 224.2H402.6M404.2 215.1V223.3M402.6 215.1H405.8M402.6 223.3H405.8M407.4 211.5V219.9M405.8 211.5H409M405.8 219.9H409M410.6 209.7V218.2M409 209.7H412.2M409 218.2H412.2M413.7 206V214.8M412.1 206H415.3M412.1 214.8H415.3M416.9 201.6V210.7M415.3 201.6H418.5M415.3 210.7H418.5M420.1 197.9V207.3M418.5 197.9H421.7M418.5 207.3H421.7M423.3 190.7V200.3M421.7 190.7H424.9M421.7 200.3H424.9M426.4 185.3V195.3M424.8 185.3H428M424.8 195.3H428M429.6 185.3V195.3M428 185.3H431.2M428 195.3H431.2M432.8 181.2V191.3M431.2 181.2H434.4M431.2 191.3H434.4M436 179.1V189.3M434.4 179.1H437.6M434.4 189.3H437.6M439.1 175V185.3M437.5 175H440.7M437.5 185.3H440.7M442.3 171.8V182.2M440.7 171.8H443.9M440.7 182.2H443.9M445.5 169.2V179.8M443.9 169.2H447.1M443.9 179.8H447.1M448.7 171.2V181.6M447.1 171.2H450.3M447.1 181.6H450.3M451.9 169.8V180.3M450.3 169.8H453.5M450.3 180.3H453.5M455 165.9V176.5M453.4 165.9H456.6M453.4 176.5H456.6M458.2 165.9V176.5M456.6 165.9H459.8M456.6 176.5H459.8M461.4 166.3V176.9M459.8 166.3H463M459.8 176.9H463M464.6 166.5V177.1M463 166.5H466.2M463 177.1H466.2M467.7 155.2V166M466.1 155.2H469.3M466.1 166H469.3M470.9 154.2V165.4M469.3 154.2H472.5M469.3 165.4H472.5M474.1 152.1V164.7M472.5 152.1H475.7M472.5 164.7H475.7M477.3 149.7V163.5M475.7 149.7H478.9M475.7 163.5H478.9M480.4 146.5V161.7M478.8 146.5H482M478.8 161.7H482M483.6 143.3V159.8M482 143.3H485.2M482 159.8H485.2M486.8 140.5V158.5M485.2 140.5H488.4M485.2 158.5H488.4M490 133.2V152.5M488.4 133.2H491.6M488.4 152.5H491.6M493.2 126.9V147.6M491.6 126.9H494.8M491.6 147.6H494.8M496.3 122.8V144.8M494.7 122.8H497.9M494.7 144.8H497.9M499.5 128.4V151.6M497.9 128.4H501.1M497.9 151.6H501.1M502.7 108.2V132.6M501.1 108.2H504.3M501.1 132.6H504.3M505.9 111.7V137.5M504.3 111.7H507.5M504.3 137.5H507.5M509 120.2V147.4M507.4 120.2H510.6M507.4 147.4H510.6M512.2 112V140.5M510.6 112H513.8M510.6 140.5H513.8M515.4 99.1V128.3M513.8 99.1H517M513.8 128.3H517M518.6 101.1V131.7M517 101.1H520.2M517 131.7H520.2M521.8 103.2V135.4M520.1 103.2H523.4M520.1 135.4H523.4M524.9 80V111.6M523.3 80H526.5M523.3 111.6H526.5M528.1 81.5V114.5M526.5 81.5H529.7M526.5 114.5H529.7M531.3 84.1V118.3M529.7 84.1H532.9M529.7 118.3H532.9M534.5 86.4V120.8M532.9 86.4H536.1M532.9 120.8H536.1M537.6 83.3V117.3M536 83.3H539.2M536 117.3H539.2M540.8 80.1V113.8M539.2 80.1H542.4M539.2 113.8H542.4M544 72.7V105.5M542.4 72.7H545.6M542.4 105.5H545.6M547.2 72.7V105.5M545.6 72.7H548.8M545.6 105.5H548.8M550.3 84.9V119.2M548.7 84.9H551.9M548.7 119.2H551.9M553.5 89.7V124.3M551.9 89.7H555.1M551.9 124.3H555.1M556.7 79.6V113.3M555.1 79.6H558.3M555.1 113.3H558.3M559.9 74.8V107.8M558.3 74.8H561.5M558.3 107.8H561.5M563.1 86.2V120.6M561.5 86.2H564.7M561.5 120.6H564.7M566.2 78.7V112.3M564.6 78.7H567.8M564.6 112.3H567.8M569.4 80.5V114.3M567.8 80.5H571M567.8 114.3H571M572.6 83V117M571 83H574.2M571 117H574.2M575.8 79.2V112.8M574.2 79.2H577.4M574.2 112.8H577.4M578.9 75.5V108.5M577.3 75.5H580.5M577.3 108.5H580.5M582.1 87.9V122.5M580.5 87.9H583.7M580.5 122.5H583.7M585.3 75.4V108.4M583.7 75.4H586.9M583.7 108.4H586.9M588.5 72.9V105.7M586.9 72.9H590.1M586.9 105.7H590.1M591.6 76.8V110M590 76.8H593.2M590 110H593.2M594.8 68.7V100.7M593.2 68.7H596.4M593.2 100.7H596.4M598 64V95.2M596.4 64H599.6M596.4 95.2H599.6M601.2 77.2V110.6M599.6 77.2H602.8M599.6 110.6H602.8M604.4 88.4V123M602.8 88.4H606M602.8 123H606M607.5 60.8V91.4M605.9 60.8H609.1M605.9 91.4H609.1M610.7 87V121.4M609.1 87H612.3M609.1 121.4H612.3M613.9 78.7V112.3M612.3 78.7H615.5M612.3 112.3H615.5M617.1 81.6V115.4M615.5 81.6H618.7M615.5 115.4H618.7M620.2 63.5V94.7M618.6 63.5H621.8M618.6 94.7H621.8M623.4 90.3V125.1M621.8 90.3H625M621.8 125.1H625M626.6 81.1V114.9M625 81.1H628.2M625 114.9H628.2M629.8 74.4V107.4M628.2 74.4H631.4M628.2 107.4H631.4M632.9 87.9V122.5M631.3 87.9H634.5M631.3 122.5H634.5M636.1 87.5V121.9M634.5 87.5H637.7M634.5 121.9H637.7M639.3 83.1V117.1M637.7 83.1H640.9M637.7 117.1H640.9M642.5 85.9V120.3M640.9 85.9H644.1M640.9 120.3H644.1M645.7 75.4V108.4M644.1 75.4H647.3M644.1 108.4H647.3M648.8 38V62M647.2 38H650.4M647.2 62H650.4M652 26.1V43.9M650.4 26.1H653.6M650.4 43.9H653.6M655.2 20.1V31.9M653.6 20.1H656.8M653.6 31.9H656.8M658.4 18.2V24.8M656.8 18.2H660M656.8 24.8H660" stroke="#f99" stroke-width="0.8" fill="none"/>
<path d="M45.2 258.5 48.4 258.5 51.6 258.5 54.7 258.5 57.9 258.5 61.1 258.5 64.3 258.5 67.4 258.4 70.6 258.4 73.8 258.4 77 258.4 80.1 258.4 83.3 258.4 86.5 258.4 89.7 258.4 92.9 258.4 96 258.4 99.2 258.4 102.4 258.4 105.6 258.4 108.7 258.4 111.9 258.3 115.1 258.3 118.3 258.3 121.4 258.3 124.6 258.3 127.8 258.3 131 258.3 134.2 258.3 137.3 258.3 140.5 258.3 143.7 258.3 146.9 258.3 150 258.3 153.2 258.2 156.4 258.2 159.6 258.2 162.7 258.2 165.9 258.2 169.1 258.2 172.3 258.2 175.5 257.6 178.6 257 181.8 254.1 185 252.2 188.2 233.8 191.3 230.4 194.5 225.9 197.7 227.2 200.9 214.1 204.1 193.1 207.2 181.2 210.4 191.7 213.6 173.4 216.8 178.6 219.9 170.7 223.1 190.4 226.3 185.2 229.5 186.5 232.6 183.9 235.8 193.1 239 185.2 242.2 199.6 245.4 208.8 248.5 219.3 251.7 220.6 254.9 227.2 258.1 228.5 261.2 229 264.4 229.8 267.6 232.1 270.8 233.8 273.9 232.4 277.1 231.2 280.3 232.1 283.5 233.1 286.7 233.8 289.8 233.1 293 232.5 296.2 233 299.4 233.8 302.5 232.4 305.7 231 308.9 232.5 312.1 231.5 315.2 230 318.4 231 321.6 231 324.8 229.9 328 229.3 331.1 228.8 334.3 228.4 337.5 228 340.7 227.7 343.8 227.4 347 227.1 350.2 227.4 353.4 228 356.5 227.1 359.7 226.7 362.9 225.8 366.1 225.3 369.3 224.5 372.4 224 375.6 223.6 378.8 223.2 382 222.7 385.1 222.8 388.3 223 391.5 223 394.7 222.2 397.8 221.8 401 220.2 404.2 219.2 407.4 215.7 410.6 213.9 413.7 210.4 416.9 206.2 420.1 202.6 423.3 195.5 426.4 190.3 429.6 190.3 432.8 186.2 436 184.2 439.1 180.2 442.3 177 445.5 174.5 448.7 176.4 451.9 175 455 171.2 458.2 171.2 461.4 171.6 464.6 171.8 467.7 160.6 470.9 159.8 474.1 158.4 477.3 156.6 480.4 154.1 483.6 151.5 486.8 149.5 490 142.8 493.2 137.2 496.3 133.8 499.5 140 502.7 120.4 505.9 124.6 509 133.8 512.2 126.2 515.4 113.7 518.6 116.4 521.8 119.3 524.9 95.8 528.1 98 531.3 101.2 534.5 103.6 537.6 100.3 540.8 96.9 544 89.1 547.2 89.1 550.3 102 553.5 107 556.7 96.5 559.9 91.3 563.1 103.4 566.2 95.5 569.4 97.4 572.6 100 575.8 96 578.9 92 582.1 105.2 585.3 91.9 588.5 89.3 591.6 93.4 594.8 84.7 598 79.6 601.2 93.9 604.4 105.7 607.5 76.1 610.7 104.2 613.9 95.5 617.1 98.5 620.2 79.1 623.4 107.7 626.6 98 629.8 90.9 632.9 105.2 636.1 104.7 639.3 100.1 642.5 103.1 645.7 91.9 648.8 50 652 35 655.2 26 658.4 21.5 661.5 19.5 664.7 19.5 667.9 19.5 671.1 19.5 674.2 19.5 677.4 19.5 680.6 19.5" stroke="#f00" stroke-width="1.1" fill="none" stroke-linejoin="round"/>
<path d="M45.2 258.5h0M48.4 258.5h0M51.6 258.5h0M54.7 258.5h0M57.9 258.5h0M61.1 258.5h0M64.3 258.5h0M67.4 258.4h0M70.6 258.4h0M73.8 258.4h0M77 258.4h0M80.1 258.4h0M83.3 258.4h0M86.5 258.4h0M89.7 258.4h0M92.9 258.4h0M96 258.4h0M99.2 258.4h0M102.4 258.4h0M105.6 258.4h0M108.7 258.4h0M111.9 258.3h0M115.1 258.3h0M118.3 258.3h0M121.4 258.3h0M124.6 258.3h0M127.8 258.3h0M131 258.3h0M134.2 258.3h0M137.3 258.3h0M140.5 258.3h0M143.7 258.3h0M146.9 258.3h0M150 258.3h0M153.2 258.2h0M156.4 258.2h0M159.6 258.2h0M162.7 258.2h0M165.9 258.2h0M169.1 258.2h0M172.3 258.2h0M175.5 257.6h0M178.6 257h0M181.8 254.1h0M185 252.2h0M188.2 233.8h0M191.3 230.4h0M194.5 225.9h0M197.7 227.2h0M200.9 214.1h0M204.1 193.1h0M207.2 181.2h0M210.4 191.7h0M213.6 173.4h0M216.8 178.6h0M219.9 170.7h0M223.1 190.4h0M226.3 185.2h0M229.5 186.5h0M232.6 183.9h0M235.8 193.1h0M239 185.2h0M242.2 199.6h0M245.4 208.8h0M248.5 219.3h0M251.7 220.6h0M254.9 227.2h0M258.1 228.5h0M261.2 229h0M264.4 229.8h0M267.6 232.1h0M270.8 233.8h0M273.9 232.4h0M277.1 231.2h0M280.3 232.1h0M283.5 233.1h0M286.7 233.8h0M289.8 233.1h0M293 232.5h0M296.2 233h0M299.4 233.8h0M302.5 232.4h0M305.7 231h0M308.9 232.5h0M312.1 231.5h0M315.2 230h0M318.4 231h0M321.6 231h0M324.8 229.9h0M328 229.3h0M331.1 228.8h0M334.3 228.4h0M337.5 228h0M340.7 227.7h0M343.8 227.4h0M347 227.1h0M350.2 227.4h0M353.4 228h0M356.5 227.1h0M359.7 226.7h0M362.9 225.8h0M366.1 225.3h0M369.3 224.5h0M372.4 224h0M375.6 223.6h0M378.8 223.2h0M382 222.7h0M385.1 222.8h0M388.3 223h0M391.5 223h0M394.7 222.2h0M397.8 221.8h0M401 220.2h0M404.2 219.2h0M407.4 215.7h0M410.6 213.9h0M413.7 210.4h0M416.9 206.2h0M420.1 202.6h0M423.3 195.5h0M426.4 190.3h0M429.6 190.3h0M432.8 186.2h0M436 184.2h0M439.1 180.2h0M442.3 177h0M445.5 174.5h0M448.7 176.4h0M451.9 175h0M455 171.2h0M458.2 171.2h0M461.4 171.6h0M464.6 171.8h0M467.7 160.6h0M470.9 159.8h0M474.1 158.4h0M477.3 156.6h0M480.4 154.1h0M483.6 151.5h0M486.8 149.5h0M490 142.8h0M493.2 137.2h0M496.3 133.8h0M499.5 140h0M502.7 120.4h0M505.9 124.6h0M509 133.8h0M512.2 126.2h0M515.4 113.7h0M518.6 116.4h0M521.8 119.3h0M524.9 95.8h0M528.1 98h0M531.3 101.2h0M534.5 103.6h0M537.6 100.3h0M540.8 96.9h0M544 89.1h0M547.2 89.1h0M550.3 102h0M553.5 107h0M556.7 96.5h0M559.9 91.3h0M563.1 103.4h0M566.2 95.5h0M569.4 97.4h0M572.6 100h0M575.8 96h0M578.9 92h0M582.1 105.2h0M585.3 91.9h0M588.5 89.3h0M591.6 93.4h0M594.8 84.7h0M598 79.6h0M601.2 93.9h0M604.4 105.7h0M607.5 76.1h0M610.7 104.2h0M613.9 95.5h0M617.1 98.5h0M620.2 79.1h0M623.4 107.7h0M626.6 98h0M629.8 90.9h0M632.9 105.2h0M636.1 104.7h0M639.3 100.1h0M642.5 103.1h0M645.7 91.9h0M648.8 50h0M652 35h0M655.2 26h0M658.4 21.5h0M661.5 19.5h0M664.7 19.5h0M667.9 19.5h0M671.1 19.5h0M674.2 19.5h0M677.4 19.5h0M680.6 19.5h0" stroke="#f00" stroke-width="2.2" stroke-linecap="round" fill="none"/>
<path d="M45.2 258.5h0M48.4 258.5h0M51.6 258.5h0M54.7 258.5h0M57.9 258.5h0M61.1 258.5h0M64.3 258.5h0M67.4 258.5h0M70.6 258.5h0M73.8 258.5h0M77 258.5h0M80.1 258.5h0M83.3 258.5h0M86.5 258.5h0M89.7 258.5h0M92.9 258.5h0M96 258.5h0M99.2 258.5h0M102.4 258.5h0M105.6 258.5h0M108.7 258.5h0M111.9 258.5h0M115.1 258.5h0M118.3 258.5h0M121.4 258.5h0M124.6 258.5h0M127.8 258.5h0M131 258.5h0M134.2 258.5h0M137.3 258.5h0M140.5 252.5h0M143.7 256h0M146.9 250.9h0M150 255h0M153.2 252.2h0M156.4 255h0M159.6 253h0M162.7 256h0M165.9 253.5h0M169.1 257h0M172.3 258h0M175.5 257.8h0M178.6 257.5h0M181.8 257.3h0M185 257.1h0M188.2 256.8h0M191.3 256.6h0M194.5 256.3h0M197.7 256h0M200.9 255.5h0M204.1 254.8h0M207.2 254.1h0M210.4 253h0M213.6 253h0M216.8 251h0M219.9 250.3h0M223.1 244.3h0M226.3 241.7h0M229.5 243h0M232.6 237.7h0M235.8 239h0M239 234.6h0M242.2 231.2h0M245.4 214.1h0M248.5 211.5h0M251.7 206.2h0M254.9 198.9h0M258.1 193.1h0M261.2 197h0M264.4 190.4h0M267.6 184.1h0M270.8 178.6h0M273.9 181h0M277.1 182.5h0M280.3 177.3h0M283.5 175.7h0M286.7 174.7h0M289.8 169.4h0M293 167.2h0M296.2 165.3h0M299.4 167.1h0M302.5 163.6h0M305.7 165.3h0M308.9 161.5h0M312.1 157.4h0M315.2 163.6h0M318.4 159.2h0M321.6 156.6h0M324.8 157.4h0M328 157.9h0M331.1 158.3h0M334.3 155.7h0M337.5 153.9h0M340.7 152.2h0M343.8 151.3h0M347 150.4h0M350.2 149.6h0M353.4 146.1h0M356.5 145.2h0M359.7 145.2h0M362.9 143.4h0M366.1 147.8h0M369.3 141.7h0M372.4 142.6h0M375.6 139.9h0M378.8 140.8h0M382 138.2h0M385.1 135.5h0M388.3 135.5h0M391.5 134.7h0M394.7 134.7h0M397.8 131.2h0M401 128.5h0M404.2 128.3h0M407.4 131.6h0M410.6 127h0M413.7 133h0M416.9 134.9h0M420.1 137.6h0M423.3 136.2h0M426.4 136.2h0M429.6 135.6h0M432.8 134.9h0M436 142.2h0M439.1 137.6h0M442.3 142.8h0M445.5 146.1h0M448.7 138.9h0M451.9 128.3h0M455 132.3h0M458.2 128.3h0M461.4 131.6h0M464.6 128.3h0M467.7 146.1h0M470.9 134.3h0M474.1 142.2h0M477.3 136.9h0M480.4 137.2h0M483.6 138.1h0M486.8 140.5h0M490 140.5h0M493.2 146.1h0M496.3 148.4h0M499.5 152.8h0M502.7 155.1h0M505.9 151.1h0M509 148.4h0M512.2 159.4h0M515.4 165.1h0M518.6 163.7h0M521.8 162.9h0M524.9 187.5h0M528.1 183h0M531.3 183h0M534.5 179.7h0M537.6 180.6h0M540.8 181.9h0M544 190.9h0M547.2 190.9h0M550.3 183h0M553.5 176.5h0M556.7 184.9h0M559.9 191.2h0M563.1 179.4h0M566.2 187.3h0M569.4 186.7h0M572.6 186.3h0M575.8 182.4h0M578.9 177.9h0M582.1 174.5h0M585.3 188.3h0M588.5 187.1h0M591.6 185.3h0M594.8 192.7h0M598 198.1h0M601.2 182.4h0M604.4 172.5h0M607.5 202.1h0M610.7 173.5h0M613.9 183.4h0M617.1 179.4h0M620.2 198.1h0M623.4 170.5h0M626.6 180.6h0M629.8 187.3h0M632.9 172.5h0M636.1 175.8h0M639.3 178.4h0M642.5 174.5h0M645.7 186.3h0M648.8 203.1h0M652 234.6h0M655.2 248.4h0M658.4 251.9h0M661.5 254.3h0M664.7 258h0M667.9 258.1h0M671.1 258.2h0M674.2 258.3h0M677.4 258.4h0M680.6 258.5h0" stroke="#00f" stroke-width="2.2" stroke-linecap="round" fill="none"/>
<path d="M175.5 20.7V21.9M173.5 20.7H177.5M173.5 21.9H177.5M178.6 21.3V22.8M176.6 21.3H180.6M176.6 22.8H180.6M181.8 22V23.7M179.8 22H183.8M179.8 23.7H183.8M185 22.7V24.5M183 22.7H187M183 24.5H187M188.2 23.4V25.4M186.2 23.4H190.2M186.2 25.4H190.2M191.3 24.2V26.3M189.3 24.2H193.3M189.3 26.3H193.3M194.5 24.9V27.2M192.5 24.9H196.5M192.5 27.2H196.5M197.7 25.8V28.2M195.7 25.8H199.7M195.7 28.2H199.7M200.9 26.6V29.2M198.9 26.6H202.9M198.9 29.2H202.9M204.1 27.5V30.2M202.1 27.5H206.1M202.1 30.2H206.1M207.2 28.4V31.2M205.2 28.4H209.2M205.2 31.2H209.2M210.4 29.4V32.4M208.4 29.4H212.4M208.4 32.4H212.4M213.6 30.5V33.6M211.6 30.5H215.6M211.6 33.6H215.6M216.8 32V35.4M214.8 32H218.8M214.8 35.4H218.8M219.9 33.9V37.5M217.9 33.9H221.9M217.9 37.5H221.9M223.1 35.9V39.6M221.1 35.9H225.1M221.1 39.6H225.1M226.3 38V41.9M224.3 38H228.3M224.3 41.9H228.3M229.5 40.1V44.2M227.5 40.1H231.5M227.5 44.2H231.5M232.6 42.8V47.1M230.6 42.8H234.6M230.6 47.1H234.6M235.8 45.8V50.3M233.8 45.8H237.8M233.8 50.3H237.8M239 48.7V53.4M237 48.7H241M237 53.4H241M242.2 51.5V56.4M240.2 51.5H244.2M240.2 56.4H244.2M245.4 54.5V59.5M243.4 54.5H247.4M243.4 59.5H247.4M248.5 58.4V63.7M246.5 58.4H250.5M246.5 63.7H250.5M251.7 62.3V67.8M249.7 62.3H253.7M249.7 67.8H253.7M254.9 65.9V71.6M252.9 65.9H256.9M252.9 71.6H256.9M258.1 69.4V75.3M256.1 69.4H260.1M256.1 75.3H260.1M261.2 72.6V78.5M259.2 72.6H263.2M259.2 78.5H263.2M264.4 75.6V81.6M262.4 75.6H266.4M262.4 81.6H266.4M267.6 78.3V84.4M265.6 78.3H269.6M265.6 84.4H269.6M270.8 80.9V87.1M268.8 80.9H272.8M268.8 87.1H272.8M273.9 83.4V89.7M271.9 83.4H275.9M271.9 89.7H275.9M277.1 85.9V92.3M275.1 85.9H279.1M275.1 92.3H279.1M280.3 88.4V94.8M278.3 88.4H282.3M278.3 94.8H282.3M283.5 91V97.5M281.5 91H285.5M281.5 97.5H285.5M286.7 93.5V100.1M284.7 93.5H288.7M284.7 100.1H288.7M289.8 95.7V102.3M287.8 95.7H291.8M287.8 102.3H291.8M293 97.9V104.5M291 97.9H295M291 104.5H295M296.2 100.2V106.9M294.2 100.2H298.2M294.2 106.9H298.2M299.4 102.6V109.4M297.4 102.6H301.4M297.4 109.4H301.4M302.5 105V111.8M300.5 105H304.5M300.5 111.8H304.5M305.7 107V113.8M303.7 107H307.7M303.7 113.8H307.7M308.9 108.9V115.8M306.9 108.9H310.9M306.9 115.8H310.9M312.1 110.8V117.7M310.1 110.8H314.1M310.1 117.7H314.1M315.2 113V119.9M313.2 113H317.2M313.2 119.9H317.2M318.4 115.2V122.1M316.4 115.2H320.4M316.4 122.1H320.4M321.6 117.4V124.3M319.6 117.4H323.6M319.6 124.3H323.6M324.8 119.3V126.2M322.8 119.3H326.8M322.8 126.2H326.8M328 121.2V128.2M326 121.2H330M326 128.2H330M331.1 123.1V130.1M329.1 123.1H333.1M329.1 130.1H333.1M334.3 125V132M332.3 125H336.3M332.3 132H336.3M337.5 126.9V133.9M335.5 126.9H339.5M335.5 133.9H339.5M340.7 128.4V135.4M338.7 128.4H342.7M338.7 135.4H342.7M343.8 129.7V136.7M341.8 129.7H345.8M341.8 136.7H345.8M347 131V138M345 131H349M345 138H349M350.2 132.2V139.2M348.2 132.2H352.2M348.2 139.2H352.2M353.4 133.3V140.3M351.4 133.3H355.4M351.4 140.3H355.4M356.5 135V142M354.5 135H358.5M354.5 142H358.5M359.7 137V144M357.7 137H361.7M357.7 144H361.7M362.9 139V146M360.9 139H364.9M360.9 146H364.9M366.1 141V148M364.1 141H368.1M364.1 148H368.1M369.3 143V150M367.3 143H371.3M367.3 150H371.3M372.4 145V151.9M370.4 145H374.4M370.4 151.9H374.4M375.6 146.9V153.9M373.6 146.9H377.6M373.6 153.9H377.6M378.8 148.9V155.9M376.8 148.9H380.8M376.8 155.9H380.8M382 150.9V157.9M380 150.9H384M380 157.9H384M385.1 152.3V159.2M383.1 152.3H387.1M383.1 159.2H387.1M388.3 153.5V160.4M386.3 153.5H390.3M386.3 160.4H390.3M391.5 155.1V162M389.5 155.1H393.5M389.5 162H393.5M394.7 157.1V164M392.7 157.1H396.7M392.7 164H396.7M397.8 159.3V166.2M395.8 159.3H399.8M395.8 166.2H399.8M401 161.7V168.6M399 161.7H403M399 168.6H403M404.2 164.3V171.1M402.2 164.3H406.2M402.2 171.1H406.2M407.4 167.5V174.3M405.4 167.5H409.4M405.4 174.3H409.4M410.6 170.7V177.4M408.6 170.7H412.6M408.6 177.4H412.6M413.7 174.1V180.8M411.7 174.1H415.7M411.7 180.8H415.7M416.9 177.6V184.1M414.9 177.6H418.9M414.9 184.1H418.9M420.1 183.4V189.8M418.1 183.4H422.1M418.1 189.8H422.1M423.3 189.5V195.8M421.3 189.5H425.3M421.3 195.8H425.3M426.4 194V200.1M424.4 194H428.4M424.4 200.1H428.4M429.6 198.4V204.4M427.6 198.4H431.6M427.6 204.4H431.6M432.8 202.4V208.2M430.8 202.4H434.8M430.8 208.2H434.8M436 205.7V211.4M434 205.7H438M434 211.4H438M439.1 209V214.6M437.1 209H441.1M437.1 214.6H441.1M442.3 212.1V217.5M440.3 212.1H444.3M440.3 217.5H444.3M445.5 215.1V220.4M443.5 215.1H447.5M443.5 220.4H447.5M448.7 218.1V223.2M446.7 218.1H450.7M446.7 223.2H450.7M451.9 220.8V225.7M449.9 220.8H453.9M449.9 225.7H453.9M455 223.5V228.3M453 223.5H457M453 228.3H457M458.2 226.1V230.8M456.2 226.1H460.2M456.2 230.8H460.2M461.4 228.8V233.3M459.4 228.8H463.4M459.4 233.3H463.4M464.6 231.1V235.4M462.6 231.1H466.6M462.6 235.4H466.6M467.7 233.3V237.5M465.7 233.3H469.7M465.7 237.5H469.7M470.9 235.4V239.4M468.9 235.4H472.9M468.9 239.4H472.9M474.1 237.2V241M472.1 237.2H476.1M472.1 241H476.1M477.3 238.9V242.5M475.3 238.9H479.3M475.3 242.5H479.3M480.4 240.3V243.8M478.4 240.3H482.4M478.4 243.8H482.4M483.6 241.4V244.9M481.6 241.4H485.6M481.6 244.9H485.6M486.8 242.6V245.9M484.8 242.6H488.8M484.8 245.9H488.8M490 243.4V246.6M488 243.4H492M488 246.6H492M493.2 244.1V247.2M491.2 244.1H495.2M491.2 247.2H495.2M496.3 244.7V247.8M494.3 244.7H498.3M494.3 247.8H498.3M499.5 245.4V248.4M497.5 245.4H501.5M497.5 248.4H501.5M502.7 246V249M500.7 246H504.7M500.7 249H504.7M505.9 246.1V249M503.9 246.1H507.9M503.9 249H507.9M509 246.2V249.1M507 246.2H511M507 249.1H511M512.2 246.3V249.2M510.2 246.3H514.2M510.2 249.2H514.2M515.4 246.3V249.2M513.4 246.3H517.4M513.4 249.2H517.4M518.6 246.4V249.3M516.6 246.4H520.6M516.6 249.3H520.6M521.8 246.5V249.4M519.8 246.5H523.8M519.8 249.4H523.8M524.9 246.5V249.4M522.9 246.5H526.9M522.9 249.4H526.9M528.1 246.5V249.4M526.1 246.5H530.1M526.1 249.4H530.1M531.3 246.5V249.4M529.3 246.5H533.3M529.3 249.4H533.3M534.5 246.4V249.3M532.5 246.4H536.5M532.5 249.3H536.5M537.6 246.4V249.3M535.6 246.4H539.6M535.6 249.3H539.6M540.8 246.3V249.2M538.8 246.3H542.8M538.8 249.2H542.8M544 246.3V249.2M542 246.3H546M542 249.2H546M547.2 246.2V249.1M545.2 246.2H549.2M545.2 249.1H549.2M550.3 246.2V249.1M548.3 246.2H552.3M548.3 249.1H552.3M553.5 246.1V249.1M551.5 246.1H555.5M551.5 249.1H555.5M556.7 246.1V249M554.7 246.1H558.7M554.7 249H558.7M559.9 246V249M557.9 246H561.9M557.9 249H561.9M563.1 246.2V249.1M561.1 246.2H565.1M561.1 249.1H565.1M566.2 246.3V249.2M564.2 246.3H568.2M564.2 249.2H568.2M569.4 246.5V249.4M567.4 246.5H571.4M567.4 249.4H571.4M572.6 247.8V250.5M570.6 247.8H574.6M570.6 250.5H574.6M575.8 250.2V252.6M573.8 250.2H577.8M573.8 252.6H577.8M578.9 252.8V254.7M576.9 252.8H580.9M576.9 254.7H580.9M582.1 255.6V256.9M580.1 255.6H584.1M580.1 256.9H584.1" stroke="#555" stroke-width="0.8" fill="none"/>
<path d="M45.2 19.5 48.4 19.5 51.6 19.5 54.7 19.5 57.9 19.5 61.1 19.5 64.3 19.5 67.4 19.6 70.6 19.6 73.8 19.6 77 19.6 80.1 19.6 83.3 19.6 86.5 19.6 89.7 19.6 92.9 19.6 96 19.6 99.2 19.6 102.4 19.6 105.6 19.6 108.7 19.6 111.9 19.7 115.1 19.7 118.3 19.7 121.4 19.7 124.6 19.7 127.8 19.7 131 19.7 134.2 19.8 137.3 19.9 140.5 20 143.7 20.1 146.9 20.1 150 20.2 153.2 20.3 156.4 20.4 159.6 20.5 162.7 20.5 165.9 20.7 169.1 20.8 172.3 21 175.5 21.3 178.6 22.1 181.8 22.8 185 23.6 188.2 24.4 191.3 25.2 194.5 26.1 197.7 27 200.9 27.9 204.1 28.8 207.2 29.8 210.4 30.9 213.6 32.1 216.8 33.7 219.9 35.7 223.1 37.8 226.3 40 229.5 42.2 232.6 44.9 235.8 48 239 51.1 242.2 53.9 245.4 57 248.5 61 251.7 65.1 254.9 68.7 258.1 72.4 261.2 75.5 264.4 78.6 267.6 81.4 270.8 84 273.9 86.5 277.1 89.1 280.3 91.6 283.5 94.2 286.7 96.8 289.8 99 293 101.2 296.2 103.6 299.4 106 302.5 108.4 305.7 110.4 308.9 112.3 312.1 114.2 315.2 116.4 318.4 118.7 321.6 120.9 324.8 122.8 328 124.7 331.1 126.6 334.3 128.5 337.5 130.4 340.7 131.9 343.8 133.2 347 134.5 350.2 135.7 353.4 136.8 356.5 138.5 359.7 140.5 362.9 142.5 366.1 144.5 369.3 146.5 372.4 148.5 375.6 150.4 378.8 152.4 382 154.4 385.1 155.7 388.3 156.9 391.5 158.6 394.7 160.6 397.8 162.7 401 165.1 404.2 167.7 407.4 170.9 410.6 174.1 413.7 177.5 416.9 180.9 420.1 186.6 423.3 192.6 426.4 197 429.6 201.4 432.8 205.3 436 208.6 439.1 211.8 442.3 214.8 445.5 217.7 448.7 220.6 451.9 223.3 455 225.9 458.2 228.5 461.4 231.1 464.6 233.2 467.7 235.4 470.9 237.4 474.1 239.1 477.3 240.7 480.4 242.1 483.6 243.1 486.8 244.2 490 245 493.2 245.6 496.3 246.3 499.5 246.9 502.7 247.5 505.9 247.6 509 247.6 512.2 247.7 515.4 247.8 518.6 247.8 521.8 247.9 524.9 248 528.1 248 531.3 247.9 534.5 247.9 537.6 247.8 540.8 247.8 544 247.7 547.2 247.7 550.3 247.6 553.5 247.6 556.7 247.5 559.9 247.5 563.1 247.6 566.2 247.8 569.4 247.9 572.6 249.1 575.8 251.4 578.9 253.7 582.1 256.2 585.3 258.5 588.5 258.5 591.6 258.5 594.8 258.5 598 258.5 601.2 258.5 604.4 258.5 607.5 258.5 610.7 258.5 613.9 258.5 617.1 258.5 620.2 258.5 623.4 258.5 626.6 258.5 629.8 258.5 632.9 258.5 636.1 258.5 639.3 258.5 642.5 258.5 645.7 258.5 648.8 258.5 652 258.5 655.2 258.5 658.4 258.5 661.5 258.5 664.7 258.5 667.9 258.5 671.1 258.5 674.2 258.5 677.4 258.5 680.6 258.5" stroke="#000" stroke-width="1" fill="none" stroke-linejoin="round"/>
<path d="M137.3 17.6V23.7M135.7 17.6H138.9M135.7 23.7H138.9M140.5 17.5V26.5M138.9 17.5H142.1M138.9 26.5H142.1M143.7 18.2V30.8M142.1 18.2H145.3M142.1 30.8H145.3M146.9 17.7V28.3M145.3 17.7H148.5M145.3 28.3H148.5M150 18.4V31.6M148.4 18.4H151.6M148.4 31.6H151.6M153.2 17.9V29.1M151.6 17.9H154.8M151.6 29.1H154.8M156.4 18.2V30.8M154.8 18.2H158M154.8 30.8H158M159.6 18.2V30.8M158 18.2H161.2M158 30.8H161.2M162.7 17.7V28.3M161.1 17.7H164.3M161.1 28.3H164.3M165.9 17.6V27.4M164.3 17.6H167.5M164.3 27.4H167.5M169.1 17.5V26.5M167.5 17.5H170.7M167.5 26.5H170.7M172.3 17.5V24.5M170.7 17.5H173.9M170.7 24.5H173.9M175.5 17.5V24.7M173.9 17.5H177.1M173.9 24.7H177.1M178.6 17.5V24.9M177 17.5H180.2M177 24.9H180.2M181.8 17.5V26.5M180.2 17.5H183.4M180.2 26.5H183.4M185 18.8V33.2M183.4 18.8H186.6M183.4 33.2H186.6M188.2 21.5V40.3M186.6 21.5H189.8M186.6 40.3H189.8M191.3 30V56.2M189.7 30H192.9M189.7 56.2H192.9M194.5 39.7V71.1M192.9 39.7H196.1M192.9 71.1H196.1M197.7 37.8V68.4M196.1 37.8H199.3M196.1 68.4H199.3M200.9 50.7V86.3M199.3 50.7H202.5M199.3 86.3H202.5M204.1 69.6V109.6M202.5 69.6H205.7M202.5 109.6H205.7M207.2 80.1V121.9M205.6 80.1H208.8M205.6 121.9H208.8M210.4 74.1V114.9M208.8 74.1H212M208.8 114.9H212M213.6 90.1V132.9M212 90.1H215.2M212 132.9H215.2M216.8 85.5V127.9M215.2 85.5H218.4M215.2 127.9H218.4M219.9 92.6V135.6M218.3 92.6H221.5M218.3 135.6H221.5M223.1 80.1V121.9M221.5 80.1H224.7M221.5 121.9H224.7M226.3 88.4V131M224.7 88.4H227.9M224.7 131H227.9M229.5 90.9V133.7M227.9 90.9H231.1M227.9 133.7H231.1M232.6 95.1V138.3M231 95.1H234.2M231 138.3H234.2M235.8 86.8V129.2M234.2 86.8H237.4M234.2 129.2H237.4M239 99V142.4M237.4 99H240.6M237.4 142.4H240.6M242.2 84.6V126.8M240.6 84.6H243.8M240.6 126.8H243.8M245.4 88.4V131M243.8 88.4H247M243.8 131H247M248.5 92.2V135.2M246.9 92.2H250.1M246.9 135.2H250.1M251.7 88.8V131.6M250.1 88.8H253.3M250.1 131.6H253.3M254.9 85V127.4M253.3 85H256.5M253.3 127.4H256.5M258.1 95.1V138.3M256.5 95.1H259.7M256.5 138.3H259.7M261.2 89.3V131.1M259.6 89.3H262.8M259.6 131.1H262.8M264.4 93.7V133.7M262.8 93.7H266M262.8 133.7H266M267.6 96.1V133.9M266 96.1H269.2M266 133.9H269.2M270.8 106.5V142.7M269.2 106.5H272.4M269.2 142.7H272.4M273.9 108.5V142.5M272.3 108.5H275.5M272.3 142.5H275.5M277.1 105.3V136.9M275.5 105.3H278.7M275.5 136.9H278.7M280.3 112.4V142M278.7 112.4H281.9M278.7 142H281.9M283.5 116.2V143.6M281.9 116.2H285.1M281.9 143.6H285.1M286.7 116.4V141.6M285.1 116.4H288.3M285.1 141.6H288.3M289.8 123.5V146.7M288.2 123.5H291.4M288.2 146.7H291.4M293 123.8V144.6M291.4 123.8H294.6M291.4 144.6H294.6M296.2 127.6V146.2M294.6 127.6H297.8M294.6 146.2H297.8M299.4 130V146.4M297.8 130H301M297.8 146.4H301M302.5 128.4V144.4M300.9 128.4H304.1M300.9 144.4H304.1M305.7 132.8V148.8M304.1 132.8H307.3M304.1 148.8H307.3M308.9 131V147M307.3 131H310.5M307.3 147H310.5M312.1 138.1V154.1M310.5 138.1H313.7M310.5 154.1H313.7M315.2 132.8V148.8M313.6 132.8H316.8M313.6 148.8H316.8M318.4 138.1V154.1M316.8 138.1H320M316.8 154.1H320M321.6 140.7V156.7M320 140.7H323.2M320 156.7H323.2M324.8 139.8V155.8M323.2 139.8H326.4M323.2 155.8H326.4M328 140.7V156.7M326.4 140.7H329.6M326.4 156.7H329.6M331.1 143.3V159.3M329.5 143.3H332.7M329.5 159.3H332.7M334.3 143.3V159.3M332.7 143.3H335.9M332.7 159.3H335.9M337.5 144.2V160.2M335.9 144.2H339.1M335.9 160.2H339.1M340.7 146.1V161.9M339.1 146.1H342.3M339.1 161.9H342.3M343.8 145.2V161M342.2 145.2H345.4M342.2 161H345.4M347 147.8V163.6M345.4 147.8H348.6M345.4 163.6H348.6M350.2 149.5V165.3M348.6 149.5H351.8M348.6 165.3H351.8M353.4 152.2V168M351.8 152.2H355M351.8 168H355M356.5 151.3V167.1M354.9 151.3H358.1M354.9 167.1H358.1M359.7 154.9V170.5M358.1 154.9H361.3M358.1 170.5H361.3M362.9 160.2V175.8M361.3 160.2H364.5M361.3 175.8H364.5M366.1 153.9V169.7M364.5 153.9H367.7M364.5 169.7H367.7M369.3 162V177.4M367.7 162H370.9M367.7 177.4H370.9M372.4 164.6V180M370.8 164.6H374M370.8 180H374M375.6 165.5V180.9M374 165.5H377.2M374 180.9H377.2M378.8 164.6V180M377.2 164.6H380.4M377.2 180H380.4M382 166.5V181.7M380.4 166.5H383.6M380.4 181.7H383.6M385.1 170V185.2M383.5 170H386.7M383.5 185.2H386.7M388.3 170.9V186.1M386.7 170.9H389.9M386.7 186.1H389.9M391.5 173.6V188.6M389.9 173.6H393.1M389.9 188.6H393.1M394.7 173.6V188.6M393.1 173.6H396.3M393.1 188.6H396.3M397.8 176.3V191.1M396.2 176.3H399.4M396.2 191.1H399.4M401 178.1V192.9M399.4 178.1H402.6M399.4 192.9H402.6M404.2 179.9V194.5M402.6 179.9H405.8M402.6 194.5H405.8M407.4 182.7V197.1M405.8 182.7H409M405.8 197.1H409M410.6 184.4V198.8M409 184.4H412.2M409 198.8H412.2M413.7 186.9V201.1M412.1 186.9H415.3M412.1 201.1H415.3M416.9 187.3V201.5M415.3 187.3H418.5M415.3 201.5H418.5M420.1 187.9V202M418.5 187.9H421.7M418.5 202H421.7M423.3 188.5V202.5M421.7 188.5H424.9M421.7 202.5H424.9M426.4 196.2V209.8M424.8 196.2H428M424.8 209.8H428M429.6 199.2V212.4M428 199.2H431.2M428 212.4H431.2M432.8 201.3V214.3M431.2 201.3H434.4M431.2 214.3H434.4M436 197.3V210.7M434.4 197.3H437.6M434.4 210.7H437.6M439.1 213.7V225.5M437.5 213.7H440.7M437.5 225.5H440.7M442.3 209.4V221.7M440.7 209.4H443.9M440.7 221.7H443.9M445.5 213.1V224.9M443.9 213.1H447.1M443.9 224.9H447.1M448.7 217.9V229.3M447.1 217.9H450.3M447.1 229.3H450.3M451.9 225.5V235.7M450.3 225.5H453.5M450.3 235.7H453.5M455 222.7V233.3M453.4 222.7H456.6M453.4 233.3H456.6M458.2 224.4V234.8M456.6 224.4H459.8M456.6 234.8H459.8M461.4 229.3V238.9M459.8 229.3H463M459.8 238.9H463M464.6 233.5V242.5M463 233.5H466.2M463 242.5H466.2M467.7 236.2V244.7M466.1 236.2H469.3M466.1 244.7H469.3M470.9 235V243.6M469.3 235H472.5M469.3 243.6H472.5M474.1 238.9V246.8M472.5 238.9H475.7M472.5 246.8H475.7M477.3 238.4V246.4M475.7 238.4H478.9M475.7 246.4H478.9M480.4 239.8V247.6M478.8 239.8H482M478.8 247.6H482M483.6 243.5V250.9M482 243.5H485.2M482 250.9H485.2M486.8 244.1V251.8M485.2 244.1H488.4M485.2 251.8H488.4M490 245.4V253.1M488.4 245.4H491.6M488.4 253.1H491.6M493.2 247.3V254.7M491.6 247.3H494.8M491.6 254.7H494.8M496.3 245.7V254.1M494.7 245.7H497.9M494.7 254.1H497.9M499.5 250.8V257.2M497.9 250.8H501.1M497.9 257.2H501.1M502.7 246.6V255.3M501.1 246.6H504.3M501.1 255.3H504.3M505.9 250.4V257.6M504.3 250.4H507.5M504.3 257.6H507.5M509 249.6V257.5M507.4 249.6H510.6M507.4 257.5H510.6M512.2 251.7V258.5M510.6 251.7H513.8M510.6 258.5H513.8M515.4 245.8V256.3M513.8 245.8H517M513.8 256.3H517M518.6 253V259.3M517 253H520.2M517 259.3H520.2M521.8 249.6V258.5M520.1 249.6H523.4M520.1 258.5H523.4M524.9 252.9V259.5M523.3 252.9H526.5M523.3 259.5H526.5M528.1 248V258.4M526.5 248H529.7M526.5 258.4H529.7M531.3 251.3V259.5M529.7 251.3H532.9M529.7 259.5H532.9M534.5 251.1V259.4M532.9 251.1H536.1M532.9 259.4H536.1M537.6 247.3V258.3M536 247.3H539.2M536 258.3H539.2M540.8 249.3V259M539.2 249.3H542.4M539.2 259H542.4M544 250.6V259.3M542.4 250.6H545.6M542.4 259.3H545.6M547.2 244.7V257.3M545.6 244.7H548.8M545.6 257.3H548.8M550.3 248.8V258.8M548.7 248.8H551.9M548.7 258.8H551.9M553.5 248.2V258.6M551.9 248.2H555.1M551.9 258.6H555.1M556.7 252V259.6M555.1 252H558.3M555.1 259.6H558.3M559.9 243.6V256.8M558.3 243.6H561.5M558.3 256.8H561.5M563.1 251.4V259.5M561.5 251.4H564.7M561.5 259.5H564.7M566.2 248.6V258.7M564.6 248.6H567.8M564.6 258.7H567.8M569.4 248.7V258.8M567.8 248.7H571M567.8 258.8H571M572.6 244.4V257.2M571 244.4H574.2M571 257.2H574.2M575.8 252.7V259.7M574.2 252.7H577.4M574.2 259.7H577.4M578.9 253V259.8M577.3 253H580.5M577.3 259.8H580.5M582.1 255.5V259.8M580.5 255.5H583.7M580.5 259.8H583.7M613.9 253.2V259.8M612.3 253.2H615.5M612.3 259.8H615.5" stroke="#888" stroke-width="0.8" fill="none"/>
<path d="M45.2 19.5 48.4 19.5 51.6 19.5 54.7 19.5 57.9 19.5 61.1 19.5 64.3 19.5 67.4 19.5 70.6 19.5 73.8 19.5 77 19.5 80.1 19.5 83.3 19.5 86.5 19.5 89.7 19.5 92.9 19.5 96 19.5 99.2 19.5 102.4 19.5 105.6 19.5 108.7 19.5 111.9 19.5 115.1 19.5 118.3 19.5 121.4 19.5 124.6 19.5 127.8 19.5 131 19.5 134.2 19.5 137.3 20.7 140.5 22 143.7 24.5 146.9 23 150 25 153.2 23.5 156.4 24.5 159.6 24.5 162.7 23 165.9 22.5 169.1 22 172.3 21 175.5 21.1 178.6 21.2 181.8 22 185 26 188.2 30.9 191.3 43.1 194.5 55.4 197.7 53.1 200.9 68.5 204.1 89.6 207.2 101 210.4 94.5 213.6 111.5 216.8 106.7 219.9 114.1 223.1 101 226.3 109.7 229.5 112.3 232.6 116.7 235.8 108 239 120.7 242.2 105.7 245.4 109.7 248.5 113.7 251.7 110.2 254.9 106.2 258.1 116.7 261.2 110.2 264.4 113.7 267.6 115 270.8 124.6 273.9 125.5 277.1 121.1 280.3 127.2 283.5 129.9 286.7 129 289.8 135.1 293 134.2 296.2 136.9 299.4 138.2 302.5 136.4 305.7 140.8 308.9 139 312.1 146.1 315.2 140.8 318.4 146.1 321.6 148.7 324.8 147.8 328 148.7 331.1 151.3 334.3 151.3 337.5 152.2 340.7 154 343.8 153.1 347 155.7 350.2 157.4 353.4 160.1 356.5 159.2 359.7 162.7 362.9 168 366.1 161.8 369.3 169.7 372.4 172.3 375.6 173.2 378.8 172.3 382 174.1 385.1 177.6 388.3 178.5 391.5 181.1 394.7 181.1 397.8 183.7 401 185.5 404.2 187.2 407.4 189.9 410.6 191.6 413.7 194 416.9 194.4 420.1 195 423.3 195.5 426.4 203 429.6 205.8 432.8 207.8 436 204 439.1 219.6 442.3 215.5 445.5 219 448.7 223.6 451.9 230.6 455 228 458.2 229.6 461.4 234.1 464.6 238 467.7 240.4 470.9 239.3 474.1 242.8 477.3 242.4 480.4 243.7 483.6 247.2 486.8 248 490 249.3 493.2 251 496.3 249.9 499.5 254 502.7 251 505.9 254 509 253.5 512.2 255.1 515.4 251 518.6 256.1 521.8 254.1 524.9 256.2 528.1 253.2 531.3 255.4 534.5 255.3 537.6 252.8 540.8 254.2 544 255 547.2 251 550.3 253.8 553.5 253.4 556.7 255.8 559.9 250.2 563.1 255.4 566.2 253.6 569.4 253.7 572.6 250.8 575.8 256.2 578.9 256.4 582.1 257.6 585.3 258.5 588.5 258.5 591.6 258.5 594.8 258.5 598 258.5 601.2 258.5 604.4 258.5 607.5 258.5 610.7 258.5 613.9 256.5 617.1 258.5 620.2 258.5 623.4 258.5 626.6 258.5 629.8 258.5 632.9 258.5 636.1 258.5 639.3 258.5 642.5 258.5 645.7 258.5 648.8 258.5 652 258.5 655.2 258.5 658.4 258.5 661.5 258.5 664.7 258.5 667.9 258.5 671.1 258.5 674.2 258.5 677.4 258.5 680.6 258.5" stroke="#000" stroke-width="1.1" fill="none" stroke-linejoin="round"/>
<path d="M45.2 19.5h0M48.4 19.5h0M51.6 19.5h0M54.7 19.5h0M57.9 19.5h0M61.1 19.5h0M64.3 19.5h0M67.4 19.5h0M70.6 19.5h0M73.8 19.5h0M77 19.5h0M80.1 19.5h0M83.3 19.5h0M86.5 19.5h0M89.7 19.5h0M92.9 19.5h0M96 19.5h0M99.2 19.5h0M102.4 19.5h0M105.6 19.5h0M108.7 19.5h0M111.9 19.5h0M115.1 19.5h0M118.3 19.5h0M121.4 19.5h0M124.6 19.5h0M127.8 19.5h0M131 19.5h0M134.2 19.5h0M137.3 20.7h0M140.5 22h0M143.7 24.5h0M146.9 23h0M150 25h0M153.2 23.5h0M156.4 24.5h0M159.6 24.5h0M162.7 23h0M165.9 22.5h0M169.1 22h0M172.3 21h0M175.5 21.1h0M178.6 21.2h0M181.8 22h0M185 26h0M188.2 30.9h0M191.3 43.1h0M194.5 55.4h0M197.7 53.1h0M200.9 68.5h0M204.1 89.6h0M207.2 101h0M210.4 94.5h0M213.6 111.5h0M216.8 106.7h0M219.9 114.1h0M223.1 101h0M226.3 109.7h0M229.5 112.3h0M232.6 116.7h0M235.8 108h0M239 120.7h0M242.2 105.7h0M245.4 109.7h0M248.5 113.7h0M251.7 110.2h0M254.9 106.2h0M258.1 116.7h0M261.2 110.2h0M264.4 113.7h0M267.6 115h0M270.8 124.6h0M273.9 125.5h0M277.1 121.1h0M280.3 127.2h0M283.5 129.9h0M286.7 129h0M289.8 135.1h0M293 134.2h0M296.2 136.9h0M299.4 138.2h0M302.5 136.4h0M305.7 140.8h0M308.9 139h0M312.1 146.1h0M315.2 140.8h0M318.4 146.1h0M321.6 148.7h0M324.8 147.8h0M328 148.7h0M331.1 151.3h0M334.3 151.3h0M337.5 152.2h0M340.7 154h0M343.8 153.1h0M347 155.7h0M350.2 157.4h0M353.4 160.1h0M356.5 159.2h0M359.7 162.7h0M362.9 168h0M366.1 161.8h0M369.3 169.7h0M372.4 172.3h0M375.6 173.2h0M378.8 172.3h0M382 174.1h0M385.1 177.6h0M388.3 178.5h0M391.5 181.1h0M394.7 181.1h0M397.8 183.7h0M401 185.5h0M404.2 187.2h0M407.4 189.9h0M410.6 191.6h0M413.7 194h0M416.9 194.4h0M420.1 195h0M423.3 195.5h0M426.4 203h0M429.6 205.8h0M432.8 207.8h0M436 204h0M439.1 219.6h0M442.3 215.5h0M445.5 219h0M448.7 223.6h0M451.9 230.6h0M455 228h0M458.2 229.6h0M461.4 234.1h0M464.6 238h0M467.7 240.4h0M470.9 239.3h0M474.1 242.8h0M477.3 242.4h0M480.4 243.7h0M483.6 247.2h0M486.8 248h0M490 249.3h0M493.2 251h0M496.3 249.9h0M499.5 254h0M502.7 251h0M505.9 254h0M509 253.5h0M512.2 255.1h0M515.4 251h0M518.6 256.1h0M521.8 254.1h0M524.9 256.2h0M528.1 253.2h0M531.3 255.4h0M534.5 255.3h0M537.6 252.8h0M540.8 254.2h0M544 255h0M547.2 251h0M550.3 253.8h0M553.5 253.4h0M556.7 255.8h0M559.9 250.2h0M563.1 255.4h0M566.2 253.6h0M569.4 253.7h0M572.6 250.8h0M575.8 256.2h0M578.9 256.4h0M582.1 257.6h0M585.3 258.5h0M588.5 258.5h0M591.6 258.5h0M594.8 258.5h0M598 258.5h0M601.2 258.5h0M604.4 258.5h0M607.5 258.5h0M610.7 258.5h0M613.9 256.5h0M617.1 258.5h0M620.2 258.5h0M623.4 258.5h0M626.6 258.5h0M629.8 258.5h0M632.9 258.5h0M636.1 258.5h0M639.3 258.5h0M642.5 258.5h0M645.7 258.5h0M648.8 258.5h0M652 258.5h0M655.2 258.5h0M658.4 258.5h0M661.5 258.5h0M664.7 258.5h0M667.9 258.5h0M671.1 258.5h0M674.2 258.5h0M677.4 258.5h0M680.6 258.5h0" stroke="#000" stroke-width="2.2" stroke-linecap="round" fill="none"/>
<text x="363.6" y="252.3" font-size="14" font-family="Liberation Serif" font-style="italic" font-weight="bold" fill="#000" text-anchor="middle">ζ</text>
<text transform="translate(8.8 11) scale(0.88 1)" font-size="16.3" font-weight="bold" fill="#000">A</text>
<path d="M26.3 302.3H42.7" stroke="#000" stroke-width="1.1"/>
<text x="47.6" y="305.8" font-size="10" fill="#222">main dataset RR</text>
<path d="M131.4 302.3H148.9" stroke="#00f" stroke-width="1.1"/>
<text x="153.0" y="305.8" font-size="10" fill="#222">main dataset IMC</text>
<path d="M252.8 302.3H271.0" stroke="#f00" stroke-width="1.1"/>
<text x="275.5" y="305.8" font-size="10" fill="#222">main dataset ICU</text>
<path d="M367.7 302.3H385.9" stroke="#000" stroke-width="1.1"/>
<circle cx="376.8" cy="302.3" r="1.2" fill="#000"/>
<text x="389.4" y="305.8" font-size="10" fill="#222">eval. dataset RR</text>
<path d="M474.0 302.3H492.3" stroke="#00f" stroke-width="1.1"/>
<circle cx="483.1" cy="302.3" r="1.2" fill="#00f"/>
<text x="494.8" y="305.8" font-size="10" fill="#222">eval. dataset IMC</text>
<path d="M581.0 302.3H599.2" stroke="#f00" stroke-width="1.1"/>
<circle cx="590.1" cy="302.3" r="1.2" fill="#f00"/>
<text x="602.0" y="305.8" font-size="10" fill="#222">eval. dataset ICU</text>
<rect x="37.7" y="497.8" width="2.3" height="27.4" fill="#5b8fbd" stroke="#2d4d6b" stroke-width="0.45"/>
<rect x="103.5" y="497.8" width="2.3" height="27.4" fill="#5b8fbd" stroke="#2d4d6b" stroke-width="0.45"/>
<rect x="105.8" y="497.8" width="2.3" height="27.4" fill="#5b8fbd" stroke="#2d4d6b" stroke-width="0.45"/>
<rect x="112.2" y="497.8" width="2.3" height="27.4" fill="#5b8fbd" stroke="#2d4d6b" stroke-width="0.45"/>
<rect x="147.2" y="497.8" width="2.3" height="27.4" fill="#5b8fbd" stroke="#2d4d6b" stroke-width="0.45"/>
<rect x="158.3" y="497.8" width="2.3" height="27.4" fill="#5b8fbd" stroke="#2d4d6b" stroke-width="0.45"/>
<rect x="173.9" y="497.8" width="2.3" height="27.4" fill="#5b8fbd" stroke="#2d4d6b" stroke-width="0.45"/>
<rect x="182.2" y="497.8" width="2.3" height="27.4" fill="#5b8fbd" stroke="#2d4d6b" stroke-width="0.45"/>
<rect x="188.9" y="497.8" width="2.3" height="27.4" fill="#5b8fbd" stroke="#2d4d6b" stroke-width="0.45"/>
<rect x="191.0" y="470.4" width="2.3" height="54.8" fill="#5b8fbd" stroke="#2d4d6b" stroke-width="0.45"/>
<rect x="195.6" y="442.9" width="2.3" height="82.3" fill="#5b8fbd" stroke="#2d4d6b" stroke-width="0.45"/>
<rect x="197.7" y="470.4" width="2.3" height="54.8" fill="#5b8fbd" stroke="#2d4d6b" stroke-width="0.45"/>
<rect x="202.0" y="415.5" width="2.3" height="109.7" fill="#5b8fbd" stroke="#2d4d6b" stroke-width="0.45"/>
<rect x="204.3" y="388.0" width="2.3" height="137.2" fill="#5b8fbd" stroke="#2d4d6b" stroke-width="0.45"/>
<rect x="206.6" y="360.6" width="2.3" height="164.6" fill="#5b8fbd" stroke="#2d4d6b" stroke-width="0.45"/>
<rect x="211.0" y="388.0" width="2.3" height="137.2" fill="#5b8fbd" stroke="#2d4d6b" stroke-width="0.45"/>
<rect x="213.1" y="470.4" width="2.3" height="54.8" fill="#5b8fbd" stroke="#2d4d6b" stroke-width="0.45"/>
<rect x="220.0" y="470.4" width="2.3" height="54.8" fill="#5b8fbd" stroke="#2d4d6b" stroke-width="0.45"/>
<rect x="222.1" y="442.9" width="2.3" height="82.3" fill="#5b8fbd" stroke="#2d4d6b" stroke-width="0.45"/>
<rect x="224.2" y="470.4" width="2.3" height="54.8" fill="#5b8fbd" stroke="#2d4d6b" stroke-width="0.45"/>
<rect x="228.7" y="470.4" width="2.3" height="54.8" fill="#5b8fbd" stroke="#2d4d6b" stroke-width="0.45"/>
<rect x="230.8" y="497.8" width="2.3" height="27.4" fill="#5b8fbd" stroke="#2d4d6b" stroke-width="0.45"/>
<rect x="237.4" y="497.8" width="2.3" height="27.4" fill="#5b8fbd" stroke="#2d4d6b" stroke-width="0.45"/>
<rect x="257.4" y="497.8" width="2.3" height="27.4" fill="#5b8fbd" stroke="#2d4d6b" stroke-width="0.45"/>
<path d="M198.3 351.7V525.2" stroke="#f22" stroke-width="0.9" stroke-dasharray="2 1.3"/>
<path d="M206.9 351.7V525.2" stroke="#3a3" stroke-width="0.9" stroke-dasharray="2 1.3"/>
<rect x="26.6" y="351.7" width="306.1" height="173.5" fill="none" stroke="#777" stroke-width="0.9"/>
<path d="M24.4 525.30H26.6M24.4 497.85H26.6M24.4 470.40H26.6M24.4 442.95H26.6M24.4 415.50H26.6M24.4 388.05H26.6M24.4 360.60H26.6M28.30 525.2V527.4M58.30 525.2V527.4M88.30 525.2V527.4M118.30 525.2V527.4M148.30 525.2V527.4M178.30 525.2V527.4M208.30 525.2V527.4M238.30 525.2V527.4M268.30 525.2V527.4M298.30 525.2V527.4M328.30 525.2V527.4" stroke="#444" stroke-width="0.6"/>
<g font-size="4.1" fill="#222" text-anchor="end">
<text x="24.0" y="526.9">0</text>
<text x="24.0" y="499.4">1</text>
<text x="24.0" y="472.0">2</text>
<text x="24.0" y="444.5">3</text>
<text x="24.0" y="417.1">4</text>
<text x="24.0" y="389.6">5</text>
<text x="24.0" y="362.2">6</text>
</g>
<g font-size="4.1" fill="#222" text-anchor="middle">
<text x="28.30" y="531.3">−2.0</text>
<text x="58.30" y="531.3">−1.5</text>
<text x="88.30" y="531.3">−1.0</text>
<text x="118.30" y="531.3">−0.5</text>
<text x="148.30" y="531.3">0.0</text>
<text x="178.30" y="531.3">0.5</text>
<text x="208.30" y="531.3">1.0</text>
<text x="238.30" y="531.3">1.5</text>
<text x="268.30" y="531.3">2.0</text>
<text x="298.30" y="531.3">2.5</text>
<text x="328.30" y="531.3">3.0</text>
</g>
<text x="148.7" y="536.4" font-size="5" fill="#222" text-anchor="middle">ζ</text>
<text transform="translate(19.8 442) rotate(-90)" font-size="4.1" fill="#111" text-anchor="middle">Frequency</text>
<rect x="253.2" y="356.5" width="77.2" height="20.8" rx="1.5" fill="#fff" fill-opacity="0.85" stroke="#ddd" stroke-width="0.5"/>
<path d="M255.2 361.5H268.3" stroke="#f22" stroke-width="0.9" stroke-dasharray="2 1.3"/>
<path d="M255.2 370.9H268.3" stroke="#3a3" stroke-width="0.9" stroke-dasharray="2 1.3" stroke-opacity="0.7"/>
<text x="273.6" y="363.6" font-size="7.2" fill="#222">Mean = 0.8330</text>
<text x="273.6" y="373" font-size="7.2" fill="#222">Median = 0.9750</text>
<text transform="translate(9 351.2) scale(0.88 1)" font-size="15.5" font-weight="bold" fill="#000">B</text>
<rect x="365.5" y="352.8" width="307.1" height="109.7" fill="#fcf67a"/>
<rect x="365.5" y="462.5" width="307.1" height="51.7" fill="#fd7b78"/>
<path d="M365.50 462.50V408.93H368.40V410.57H371.29V409.36H374.19V408.45H377.09V410.00H379.99V408.41H382.88V408.52H385.78V410.57H388.68V411.62H391.57V410.69H394.47V409.23H397.37V410.54H400.27V409.70H403.16V409.52H406.06V411.15H408.96V411.73H411.85V412.00H414.75V412.19H417.65V414.24H420.55V414.06H423.44V412.71H426.34V412.95H429.24V414.80H432.13V415.39H435.03V416.07H437.93V413.33H440.83V416.65H443.72V417.31H446.62V414.84H449.52V417.54H452.42V415.76H455.31V419.00H458.21V416.73H461.11V417.11H464.00V419.77H466.90V419.44H469.80V418.70H472.70V418.94H475.59V419.33H478.49V420.07H481.39V422.93H484.28V421.23H487.18V421.37H490.08V423.86H492.98V421.88H495.87V422.68H498.77V424.91H501.67V423.82H504.56V423.59H507.46V424.51H510.36V425.36H513.26V427.67H516.15V426.88H519.05V426.07H521.95V428.90H524.84V427.30H527.74V429.37H530.64V428.14H533.54V430.85H536.43V429.88H539.33V429.16H542.23V430.31H545.12V430.87H548.02V432.47H550.92V431.63H553.82V431.79H556.71V433.87H559.61V434.52H562.51V435.93H565.40V433.48H568.30V435.29H571.20V434.86H574.10V436.56H576.99V436.33H579.89V438.74H582.79V438.25H585.68V436.92H588.58V436.96H591.48V439.58H594.38V437.84H597.27V439.75H600.17V439.56H603.07V439.04H605.97V441.41H608.86V441.66H611.76V442.09H614.66V440.94H617.55V442.95H620.45V441.65H623.35V443.33H626.25V442.82H629.14V442.94H632.04V441.59H634.94V444.76H637.83V444.17H640.73V444.42H643.63V443.71H646.53V442.79H649.42V442.84H652.32V444.51H655.22V445.44H658.11V445.39H661.01V444.47H663.91V444.84H666.81V444.76H669.70V447.23H672.60V462.50Z" fill="#78f77a"/>
<path d="M365.50 462.50V468.29H368.40V468.00H371.29V468.57H374.19V468.35H377.09V469.56H379.99V467.68H382.88V469.79H385.78V466.80H388.68V470.58H391.57V469.26H394.47V466.94H397.37V467.20H400.27V468.05H403.16V469.09H406.06V470.75H408.96V470.08H411.85V470.31H414.75V468.92H417.65V471.94H420.55V470.93H423.44V469.16H426.34V468.67H429.24V470.14H432.13V470.23H435.03V472.21H437.93V469.81H440.83V471.11H443.72V471.11H446.62V472.32H449.52V471.18H452.42V471.72H455.31V473.71H458.21V471.95H461.11V471.50H464.00V472.26H466.90V473.62H469.80V475.05H472.70V474.99H475.59V474.39H478.49V474.07H481.39V476.50H484.28V477.11H487.18V475.44H490.08V476.72H492.98V478.40H495.87V475.77H498.77V476.34H501.67V475.61H504.56V477.93H507.46V478.30H510.36V477.99H513.26V478.41H516.15V480.23H519.05V477.67H521.95V480.61H524.84V478.39H527.74V481.68H530.64V482.01H533.54V480.91H536.43V479.20H539.33V482.93H542.23V482.19H545.12V482.95H548.02V481.12H550.92V483.12H553.82V481.44H556.71V484.23H559.61V482.20H562.51V482.11H565.40V482.59H568.30V481.97H571.20V483.42H574.10V482.69H576.99V485.95H579.89V485.23H582.79V485.16H585.68V483.18H588.58V486.89H591.48V487.32H594.38V486.23H597.27V486.83H600.17V488.12H603.07V486.52H605.97V488.16H608.86V487.59H611.76V488.65H614.66V487.95H617.55V488.91H620.45V488.80H623.35V488.15H626.25V487.61H629.14V488.73H632.04V489.07H634.94V490.25H637.83V488.50H640.73V489.49H643.63V490.75H646.53V490.62H649.42V490.25H652.32V489.00H655.22V490.29H658.11V492.21H661.01V488.80H663.91V491.69H666.81V489.89H669.70V492.07H672.60V462.50Z" fill="#78f77a"/>
<path d="M374.19 352.8V514.2M382.88 352.8V514.2M391.57 352.8V514.2M400.27 352.8V514.2M408.96 352.8V514.2M417.65 352.8V514.2M426.34 352.8V514.2M435.03 352.8V514.2M443.72 352.8V514.2M452.42 352.8V514.2M461.11 352.8V514.2M469.80 352.8V514.2M478.49 352.8V514.2M487.18 352.8V514.2M495.87 352.8V514.2M504.56 352.8V514.2M513.26 352.8V514.2M521.95 352.8V514.2M530.64 352.8V514.2M539.33 352.8V514.2M548.02 352.8V514.2M556.71 352.8V514.2M565.40 352.8V514.2M574.10 352.8V514.2M582.79 352.8V514.2M591.48 352.8V514.2M600.17 352.8V514.2M608.86 352.8V514.2M617.55 352.8V514.2M626.25 352.8V514.2M634.94 352.8V514.2M643.63 352.8V514.2M652.32 352.8V514.2M661.01 352.8V514.2M669.70 352.8V514.2" stroke="#fff" stroke-opacity="0.12" stroke-width="0.6"/>
<path d="M365.50 403.01H368.40V414.85H365.50ZM368.40 403.90H371.29V417.23H368.40ZM371.29 403.57H374.19V415.14H371.29ZM374.19 402.09H377.09V414.80H374.19ZM377.09 404.37H379.99V415.62H377.09ZM379.99 402.38H382.88V414.43H379.99ZM382.88 401.87H385.78V415.17H382.88ZM385.78 403.73H388.68V417.42H385.78ZM388.68 404.81H391.57V418.43H388.68ZM391.57 404.65H394.47V416.74H391.57ZM394.47 402.84H397.37V415.61H394.47ZM397.37 404.56H400.27V416.52H397.37ZM400.27 403.98H403.16V415.42H400.27ZM403.16 403.20H406.06V415.83H403.16ZM406.06 404.27H408.96V418.04H406.06ZM408.96 404.80H411.85V418.66H408.96ZM411.85 405.26H414.75V418.73H411.85ZM414.75 405.05H417.65V419.32H414.75ZM417.65 408.16H420.55V420.32H417.65ZM420.55 408.13H423.44V420.00H420.55ZM423.44 406.30H426.34V419.12H423.44ZM426.34 406.80H429.24V419.10H426.34ZM429.24 408.73H432.13V420.88H429.24ZM432.13 408.97H435.03V421.81H432.13ZM435.03 409.29H437.93V422.85H435.03ZM437.93 406.74H440.83V419.93H437.93ZM440.83 410.32H443.72V422.99H440.83ZM443.72 410.12H446.62V424.51H443.72ZM446.62 407.40H449.52V422.29H446.62ZM449.52 410.91H452.42V424.16H449.52ZM452.42 409.72H455.31V421.80H452.42ZM455.31 413.00H458.21V425.00H455.31ZM458.21 409.36H461.11V424.09H458.21ZM461.11 411.05H464.00V423.17H461.11ZM464.00 412.62H466.90V426.92H464.00ZM466.90 412.49H469.80V426.40H466.90ZM469.80 412.14H472.70V425.26H469.80ZM472.70 411.59H475.59V426.30H472.70ZM475.59 413.19H478.49V425.47H475.59ZM478.49 413.72H481.39V426.43H478.49ZM481.39 416.04H484.28V429.82H481.39ZM484.28 415.01H487.18V427.46H484.28ZM487.18 413.83H490.08V428.90H487.18ZM490.08 417.25H492.98V430.47H490.08ZM492.98 415.41H495.87V428.36H492.98ZM495.87 416.33H498.77V429.03H495.87ZM498.77 417.60H501.67V432.21H498.77ZM501.67 416.78H504.56V430.85H501.67ZM504.56 416.23H507.46V430.95H504.56ZM507.46 417.09H510.36V431.93H507.46ZM510.36 417.67H513.26V433.05H510.36ZM513.26 419.72H516.15V435.63H513.26ZM516.15 419.34H519.05V434.42H516.15ZM519.05 419.29H521.95V432.86H519.05ZM521.95 421.65H524.84V436.15H521.95ZM524.84 420.50H527.74V434.10H524.84ZM527.74 422.82H530.64V435.93H527.74ZM530.64 420.83H533.54V435.46H530.64ZM533.54 423.12H536.43V438.57H533.54ZM536.43 422.98H539.33V436.77H536.43ZM539.33 422.09H542.23V436.23H539.33ZM542.23 423.10H545.12V437.51H542.23ZM545.12 423.08H548.02V438.67H545.12ZM548.02 424.93H550.92V440.00H548.02ZM550.92 423.92H553.82V439.33H550.92ZM553.82 423.83H556.71V439.75H553.82ZM556.71 426.47H559.61V441.27H556.71ZM559.61 426.46H562.51V442.59H559.61ZM562.51 427.66H565.40V444.20H562.51ZM565.40 426.50H568.30V440.46H565.40ZM568.30 426.93H571.20V443.65H568.30ZM571.20 426.81H574.10V442.91H571.20ZM574.10 429.44H576.99V443.69H574.10ZM576.99 428.66H579.89V443.99H576.99ZM579.89 430.78H582.79V446.70H579.89ZM582.79 429.81H585.68V446.69H582.79ZM585.68 429.31H588.58V444.53H585.68ZM588.58 429.02H591.48V444.90H588.58ZM591.48 431.12H594.38V448.05H591.48ZM594.38 429.49H597.27V446.20H594.38ZM597.27 431.14H600.17V448.37H597.27ZM600.17 431.69H603.07V447.43H600.17ZM603.07 430.84H605.97V447.23H603.07ZM605.97 433.91H608.86V448.91H605.97ZM608.86 433.31H611.76V450.01H608.86ZM611.76 433.56H614.66V450.62H611.76ZM614.66 432.66H617.55V449.21H614.66ZM617.55 434.53H620.45V451.36H617.55ZM620.45 434.02H623.35V449.28H620.45ZM623.35 434.58H626.25V452.09H623.35ZM626.25 433.92H629.14V451.73H626.25ZM629.14 434.01H632.04V451.87H629.14ZM632.04 433.34H634.94V449.83H632.04ZM634.94 436.09H637.83V453.44H634.94ZM637.83 436.22H640.73V452.11H637.83ZM640.73 435.51H643.63V453.34H640.73ZM643.63 434.86H646.53V452.56H643.63ZM646.53 434.73H649.42V450.85H646.53ZM649.42 435.18H652.32V450.51H649.42ZM652.32 436.26H655.22V452.77H652.32ZM655.22 436.98H658.11V453.89H655.22ZM658.11 436.57H661.01V454.22H658.11ZM661.01 436.07H663.91V452.88H661.01ZM663.91 437.15H666.81V452.54H663.91ZM666.81 435.79H669.70V453.72H666.81ZM669.70 439.44H672.60V455.03H669.70ZM365.50 463.50H368.40V478.52H365.50ZM368.40 463.50H371.29V476.74H368.40ZM371.29 463.50H374.19V477.71H371.29ZM374.19 463.50H377.09V478.59H374.19ZM377.09 463.50H379.99V478.26H377.09ZM379.99 463.50H382.88V476.42H379.99ZM382.88 463.50H385.78V479.43H382.88ZM385.78 463.50H388.68V476.95H385.78ZM388.68 463.50H391.57V481.02H388.68ZM391.57 463.50H394.47V479.35H391.57ZM394.47 463.50H397.37V477.66H394.47ZM397.37 463.50H400.27V476.85H397.37ZM400.27 463.50H403.16V478.81H400.27ZM403.16 463.50H406.06V477.79H403.16ZM406.06 463.50H408.96V479.78H406.06ZM408.96 463.50H411.85V479.87H408.96ZM411.85 463.50H414.75V479.55H411.85ZM414.75 463.50H417.65V479.22H414.75ZM417.65 463.50H420.55V482.04H417.65ZM420.55 463.50H423.44V480.76H420.55ZM423.44 463.50H426.34V479.78H423.44ZM426.34 463.50H429.24V478.62H426.34ZM429.24 463.50H432.13V479.50H429.24ZM432.13 463.50H435.03V479.78H432.13ZM435.03 463.50H437.93V482.89H435.03ZM437.93 463.50H440.83V480.63H437.93ZM440.83 463.50H443.72V480.28H440.83ZM443.72 463.50H446.62V481.84H443.72ZM446.62 463.50H449.52V483.35H446.62ZM449.52 463.50H452.42V481.15H449.52ZM452.42 463.50H455.31V481.83H452.42ZM455.31 464.48H458.21V482.94H455.31ZM458.21 463.50H461.11V482.00H458.21ZM461.11 463.50H464.00V481.48H461.11ZM464.00 463.50H466.90V482.50H464.00ZM466.90 464.75H469.80V482.50H466.90ZM469.80 463.91H472.70V486.20H469.80ZM472.70 464.92H475.59V485.06H472.70ZM475.59 464.58H478.49V484.20H475.59ZM478.49 463.50H481.39V484.86H478.49ZM481.39 466.27H484.28V486.72H481.39ZM484.28 467.04H487.18V487.18H484.28ZM487.18 464.88H490.08V486.00H487.18ZM490.08 467.64H492.98V485.80H490.08ZM492.98 468.17H495.87V488.62H492.98ZM495.87 465.83H498.77V485.70H495.87ZM498.77 465.08H501.67V487.59H498.77ZM501.67 464.41H504.56V486.80H501.67ZM504.56 468.30H507.46V487.57H504.56ZM507.46 468.16H510.36V488.43H507.46ZM510.36 468.67H513.26V487.32H510.36ZM513.26 468.33H516.15V488.48H513.26ZM516.15 469.22H519.05V491.23H516.15ZM519.05 466.45H521.95V488.89H519.05ZM521.95 470.39H524.84V490.83H521.95ZM524.84 468.54H527.74V488.24H524.84ZM527.74 472.12H530.64V491.24H527.74ZM530.64 471.41H533.54V492.61H530.64ZM533.54 469.56H536.43V492.26H533.54ZM536.43 469.75H539.33V488.66H536.43ZM539.33 471.90H542.23V493.96H539.33ZM542.23 472.96H545.12V491.41H542.23ZM545.12 473.30H548.02V492.61H545.12ZM548.02 471.37H550.92V490.87H548.02ZM550.92 472.25H553.82V493.98H550.92ZM553.82 471.44H556.71V491.44H553.82ZM556.71 474.13H559.61V494.32H556.71ZM559.61 471.45H562.51V492.95H559.61ZM562.51 472.59H565.40V491.64H562.51ZM565.40 471.55H568.30V493.63H565.40ZM568.30 472.38H571.20V491.57H568.30ZM571.20 472.88H574.10V493.96H571.20ZM574.10 472.76H576.99V492.62H574.10ZM576.99 476.13H579.89V495.76H576.99ZM579.89 474.60H582.79V495.86H579.89ZM582.79 474.74H585.68V495.57H582.79ZM585.68 472.89H588.58V493.46H585.68ZM588.58 476.50H591.48V497.28H588.58ZM591.48 476.64H594.38V498.00H591.48ZM594.38 476.42H597.27V496.04H594.38ZM597.27 476.89H600.17V496.76H597.27ZM600.17 477.15H603.07V499.09H600.17ZM603.07 475.52H605.97V497.53H603.07ZM605.97 477.40H608.86V498.91H605.97ZM608.86 476.05H611.76V499.13H608.86ZM611.76 477.67H614.66V499.63H611.76ZM614.66 476.37H617.55V499.53H614.66ZM617.55 478.81H620.45V499.01H617.55ZM620.45 477.47H623.35V500.14H620.45ZM623.35 476.64H626.25V499.67H623.35ZM626.25 475.86H629.14V499.36H626.25ZM629.14 478.37H632.04V499.09H629.14ZM632.04 478.70H634.94V499.44H632.04ZM634.94 478.41H637.83V502.09H634.94ZM637.83 478.34H640.73V498.66H637.83ZM640.73 477.44H643.63V501.54H640.73ZM643.63 478.95H646.53V502.55H643.63ZM646.53 480.62H649.42V500.63H646.53ZM649.42 479.98H652.32V500.53H649.42ZM652.32 477.54H655.22V500.45H652.32ZM655.22 479.94H658.11V500.64H655.22ZM658.11 482.24H661.01V502.18H658.11ZM661.01 477.05H663.91V500.55H661.01ZM663.91 480.91H666.81V502.47H663.91ZM666.81 478.21H669.70V501.56H666.81ZM669.70 481.98H672.60V502.17H669.70Z" fill="#000" fill-opacity="0.2"/>
<path d="M366.95 403.01V414.85M366.25 403.01h1.4M366.25 414.85h1.4M369.85 403.90V417.23M369.15 403.90h1.4M369.15 417.23h1.4M372.74 403.57V415.14M372.04 403.57h1.4M372.04 415.14h1.4M375.64 402.09V414.80M374.94 402.09h1.4M374.94 414.80h1.4M378.54 404.37V415.62M377.84 404.37h1.4M377.84 415.62h1.4M381.43 402.38V414.43M380.73 402.38h1.4M380.73 414.43h1.4M384.33 401.87V415.17M383.63 401.87h1.4M383.63 415.17h1.4M387.23 403.73V417.42M386.53 403.73h1.4M386.53 417.42h1.4M390.13 404.81V418.43M389.43 404.81h1.4M389.43 418.43h1.4M393.02 404.65V416.74M392.32 404.65h1.4M392.32 416.74h1.4M395.92 402.84V415.61M395.22 402.84h1.4M395.22 415.61h1.4M398.82 404.56V416.52M398.12 404.56h1.4M398.12 416.52h1.4M401.71 403.98V415.42M401.01 403.98h1.4M401.01 415.42h1.4M404.61 403.20V415.83M403.91 403.20h1.4M403.91 415.83h1.4M407.51 404.27V418.04M406.81 404.27h1.4M406.81 418.04h1.4M410.41 404.80V418.66M409.71 404.80h1.4M409.71 418.66h1.4M413.30 405.26V418.73M412.60 405.26h1.4M412.60 418.73h1.4M416.20 405.05V419.32M415.50 405.05h1.4M415.50 419.32h1.4M419.10 408.16V420.32M418.40 408.16h1.4M418.40 420.32h1.4M421.99 408.13V420.00M421.29 408.13h1.4M421.29 420.00h1.4M424.89 406.30V419.12M424.19 406.30h1.4M424.19 419.12h1.4M427.79 406.80V419.10M427.09 406.80h1.4M427.09 419.10h1.4M430.69 408.73V420.88M429.99 408.73h1.4M429.99 420.88h1.4M433.58 408.97V421.81M432.88 408.97h1.4M432.88 421.81h1.4M436.48 409.29V422.85M435.78 409.29h1.4M435.78 422.85h1.4M439.38 406.74V419.93M438.68 406.74h1.4M438.68 419.93h1.4M442.27 410.32V422.99M441.57 410.32h1.4M441.57 422.99h1.4M445.17 410.12V424.51M444.47 410.12h1.4M444.47 424.51h1.4M448.07 407.40V422.29M447.37 407.40h1.4M447.37 422.29h1.4M450.97 410.91V424.16M450.27 410.91h1.4M450.27 424.16h1.4M453.86 409.72V421.80M453.16 409.72h1.4M453.16 421.80h1.4M456.76 413.00V425.00M456.06 413.00h1.4M456.06 425.00h1.4M459.66 409.36V424.09M458.96 409.36h1.4M458.96 424.09h1.4M462.56 411.05V423.17M461.86 411.05h1.4M461.86 423.17h1.4M465.45 412.62V426.92M464.75 412.62h1.4M464.75 426.92h1.4M468.35 412.49V426.40M467.65 412.49h1.4M467.65 426.40h1.4M471.25 412.14V425.26M470.55 412.14h1.4M470.55 425.26h1.4M474.14 411.59V426.30M473.44 411.59h1.4M473.44 426.30h1.4M477.04 413.19V425.47M476.34 413.19h1.4M476.34 425.47h1.4M479.94 413.72V426.43M479.24 413.72h1.4M479.24 426.43h1.4M482.84 416.04V429.82M482.14 416.04h1.4M482.14 429.82h1.4M485.73 415.01V427.46M485.03 415.01h1.4M485.03 427.46h1.4M488.63 413.83V428.90M487.93 413.83h1.4M487.93 428.90h1.4M491.53 417.25V430.47M490.83 417.25h1.4M490.83 430.47h1.4M494.42 415.41V428.36M493.72 415.41h1.4M493.72 428.36h1.4M497.32 416.33V429.03M496.62 416.33h1.4M496.62 429.03h1.4M500.22 417.60V432.21M499.52 417.60h1.4M499.52 432.21h1.4M503.12 416.78V430.85M502.42 416.78h1.4M502.42 430.85h1.4M506.01 416.23V430.95M505.31 416.23h1.4M505.31 430.95h1.4M508.91 417.09V431.93M508.21 417.09h1.4M508.21 431.93h1.4M511.81 417.67V433.05M511.11 417.67h1.4M511.11 433.05h1.4M514.70 419.72V435.63M514.00 419.72h1.4M514.00 435.63h1.4M517.60 419.34V434.42M516.90 419.34h1.4M516.90 434.42h1.4M520.50 419.29V432.86M519.80 419.29h1.4M519.80 432.86h1.4M523.40 421.65V436.15M522.70 421.65h1.4M522.70 436.15h1.4M526.29 420.50V434.10M525.59 420.50h1.4M525.59 434.10h1.4M529.19 422.82V435.93M528.49 422.82h1.4M528.49 435.93h1.4M532.09 420.83V435.46M531.39 420.83h1.4M531.39 435.46h1.4M534.98 423.12V438.57M534.28 423.12h1.4M534.28 438.57h1.4M537.88 422.98V436.77M537.18 422.98h1.4M537.18 436.77h1.4M540.78 422.09V436.23M540.08 422.09h1.4M540.08 436.23h1.4M543.68 423.10V437.51M542.98 423.10h1.4M542.98 437.51h1.4M546.57 423.08V438.67M545.87 423.08h1.4M545.87 438.67h1.4M549.47 424.93V440.00M548.77 424.93h1.4M548.77 440.00h1.4M552.37 423.92V439.33M551.67 423.92h1.4M551.67 439.33h1.4M555.26 423.83V439.75M554.56 423.83h1.4M554.56 439.75h1.4M558.16 426.47V441.27M557.46 426.47h1.4M557.46 441.27h1.4M561.06 426.46V442.59M560.36 426.46h1.4M560.36 442.59h1.4M563.96 427.66V444.20M563.26 427.66h1.4M563.26 444.20h1.4M566.85 426.50V440.46M566.15 426.50h1.4M566.15 440.46h1.4M569.75 426.93V443.65M569.05 426.93h1.4M569.05 443.65h1.4M572.65 426.81V442.91M571.95 426.81h1.4M571.95 442.91h1.4M575.54 429.44V443.69M574.84 429.44h1.4M574.84 443.69h1.4M578.44 428.66V443.99M577.74 428.66h1.4M577.74 443.99h1.4M581.34 430.78V446.70M580.64 430.78h1.4M580.64 446.70h1.4M584.24 429.81V446.69M583.54 429.81h1.4M583.54 446.69h1.4M587.13 429.31V444.53M586.43 429.31h1.4M586.43 444.53h1.4M590.03 429.02V444.90M589.33 429.02h1.4M589.33 444.90h1.4M592.93 431.12V448.05M592.23 431.12h1.4M592.23 448.05h1.4M595.83 429.49V446.20M595.12 429.49h1.4M595.12 446.20h1.4M598.72 431.14V448.37M598.02 431.14h1.4M598.02 448.37h1.4M601.62 431.69V447.43M600.92 431.69h1.4M600.92 447.43h1.4M604.52 430.84V447.23M603.82 430.84h1.4M603.82 447.23h1.4M607.41 433.91V448.91M606.71 433.91h1.4M606.71 448.91h1.4M610.31 433.31V450.01M609.61 433.31h1.4M609.61 450.01h1.4M613.21 433.56V450.62M612.51 433.56h1.4M612.51 450.62h1.4M616.11 432.66V449.21M615.41 432.66h1.4M615.41 449.21h1.4M619.00 434.53V451.36M618.30 434.53h1.4M618.30 451.36h1.4M621.90 434.02V449.28M621.20 434.02h1.4M621.20 449.28h1.4M624.80 434.58V452.09M624.10 434.58h1.4M624.10 452.09h1.4M627.69 433.92V451.73M626.99 433.92h1.4M626.99 451.73h1.4M630.59 434.01V451.87M629.89 434.01h1.4M629.89 451.87h1.4M633.49 433.34V449.83M632.79 433.34h1.4M632.79 449.83h1.4M636.39 436.09V453.44M635.69 436.09h1.4M635.69 453.44h1.4M639.28 436.22V452.11M638.58 436.22h1.4M638.58 452.11h1.4M642.18 435.51V453.34M641.48 435.51h1.4M641.48 453.34h1.4M645.08 434.86V452.56M644.38 434.86h1.4M644.38 452.56h1.4M647.97 434.73V450.85M647.27 434.73h1.4M647.27 450.85h1.4M650.87 435.18V450.51M650.17 435.18h1.4M650.17 450.51h1.4M653.77 436.26V452.77M653.07 436.26h1.4M653.07 452.77h1.4M656.67 436.98V453.89M655.97 436.98h1.4M655.97 453.89h1.4M659.56 436.57V454.22M658.86 436.57h1.4M658.86 454.22h1.4M662.46 436.07V452.88M661.76 436.07h1.4M661.76 452.88h1.4M665.36 437.15V452.54M664.66 437.15h1.4M664.66 452.54h1.4M668.25 435.79V453.72M667.55 435.79h1.4M667.55 453.72h1.4M671.15 439.44V455.03M670.45 439.44h1.4M670.45 455.03h1.4M366.95 463.50V478.52M366.25 478.52h1.4M369.85 463.50V476.74M369.15 476.74h1.4M372.74 463.50V477.71M372.04 477.71h1.4M375.64 463.50V478.59M374.94 478.59h1.4M378.54 463.50V478.26M377.84 478.26h1.4M381.43 463.50V476.42M380.73 476.42h1.4M384.33 463.50V479.43M383.63 479.43h1.4M387.23 463.50V476.95M386.53 476.95h1.4M390.13 463.50V481.02M389.43 481.02h1.4M393.02 463.50V479.35M392.32 479.35h1.4M395.92 463.50V477.66M395.22 477.66h1.4M398.82 463.50V476.85M398.12 476.85h1.4M401.71 463.50V478.81M401.01 478.81h1.4M404.61 463.50V477.79M403.91 477.79h1.4M407.51 463.50V479.78M406.81 479.78h1.4M410.41 463.50V479.87M409.71 479.87h1.4M413.30 463.50V479.55M412.60 479.55h1.4M416.20 463.50V479.22M415.50 479.22h1.4M419.10 463.50V482.04M418.40 482.04h1.4M421.99 463.50V480.76M421.29 480.76h1.4M424.89 463.50V479.78M424.19 479.78h1.4M427.79 463.50V478.62M427.09 478.62h1.4M430.69 463.50V479.50M429.99 479.50h1.4M433.58 463.50V479.78M432.88 479.78h1.4M436.48 463.50V482.89M435.78 482.89h1.4M439.38 463.50V480.63M438.68 480.63h1.4M442.27 463.50V480.28M441.57 480.28h1.4M445.17 463.50V481.84M444.47 481.84h1.4M448.07 463.50V483.35M447.37 483.35h1.4M450.97 463.50V481.15M450.27 481.15h1.4M453.86 463.50V481.83M453.16 481.83h1.4M456.76 464.48V482.94M456.06 482.94h1.4M459.66 463.50V482.00M458.96 482.00h1.4M462.56 463.50V481.48M461.86 481.48h1.4M465.45 463.50V482.50M464.75 482.50h1.4M468.35 464.75V482.50M467.65 482.50h1.4M471.25 463.91V486.20M470.55 486.20h1.4M474.14 464.92V485.06M473.44 485.06h1.4M477.04 464.58V484.20M476.34 484.20h1.4M479.94 463.50V484.86M479.24 484.86h1.4M482.84 466.27V486.72M482.14 486.72h1.4M485.73 467.04V487.18M485.03 487.18h1.4M488.63 464.88V486.00M487.93 486.00h1.4M491.53 467.64V485.80M490.83 485.80h1.4M494.42 468.17V488.62M493.72 488.62h1.4M497.32 465.83V485.70M496.62 485.70h1.4M500.22 465.08V487.59M499.52 487.59h1.4M503.12 464.41V486.80M502.42 486.80h1.4M506.01 468.30V487.57M505.31 487.57h1.4M508.91 468.16V488.43M508.21 488.43h1.4M511.81 468.67V487.32M511.11 487.32h1.4M514.70 468.33V488.48M514.00 488.48h1.4M517.60 469.22V491.23M516.90 491.23h1.4M520.50 466.45V488.89M519.80 488.89h1.4M523.40 470.39V490.83M522.70 490.83h1.4M526.29 468.54V488.24M525.59 488.24h1.4M529.19 472.12V491.24M528.49 491.24h1.4M532.09 471.41V492.61M531.39 492.61h1.4M534.98 469.56V492.26M534.28 492.26h1.4M537.88 469.75V488.66M537.18 488.66h1.4M540.78 471.90V493.96M540.08 493.96h1.4M543.68 472.96V491.41M542.98 491.41h1.4M546.57 473.30V492.61M545.87 492.61h1.4M549.47 471.37V490.87M548.77 490.87h1.4M552.37 472.25V493.98M551.67 493.98h1.4M555.26 471.44V491.44M554.56 491.44h1.4M558.16 474.13V494.32M557.46 494.32h1.4M561.06 471.45V492.95M560.36 492.95h1.4M563.96 472.59V491.64M563.26 491.64h1.4M566.85 471.55V493.63M566.15 493.63h1.4M569.75 472.38V491.57M569.05 491.57h1.4M572.65 472.88V493.96M571.95 493.96h1.4M575.54 472.76V492.62M574.84 492.62h1.4M578.44 476.13V495.76M577.74 495.76h1.4M581.34 474.60V495.86M580.64 495.86h1.4M584.24 474.74V495.57M583.54 495.57h1.4M587.13 472.89V493.46M586.43 493.46h1.4M590.03 476.50V497.28M589.33 497.28h1.4M592.93 476.64V498.00M592.23 498.00h1.4M595.83 476.42V496.04M595.12 496.04h1.4M598.72 476.89V496.76M598.02 496.76h1.4M601.62 477.15V499.09M600.92 499.09h1.4M604.52 475.52V497.53M603.82 497.53h1.4M607.41 477.40V498.91M606.71 498.91h1.4M610.31 476.05V499.13M609.61 499.13h1.4M613.21 477.67V499.63M612.51 499.63h1.4M616.11 476.37V499.53M615.41 499.53h1.4M619.00 478.81V499.01M618.30 499.01h1.4M621.90 477.47V500.14M621.20 500.14h1.4M624.80 476.64V499.67M624.10 499.67h1.4M627.69 475.86V499.36M626.99 499.36h1.4M630.59 478.37V499.09M629.89 499.09h1.4M633.49 478.70V499.44M632.79 499.44h1.4M636.39 478.41V502.09M635.69 502.09h1.4M639.28 478.34V498.66M638.58 498.66h1.4M642.18 477.44V501.54M641.48 501.54h1.4M645.08 478.95V502.55M644.38 502.55h1.4M647.97 480.62V500.63M647.27 500.63h1.4M650.87 479.98V500.53M650.17 500.53h1.4M653.77 477.54V500.45M653.07 500.45h1.4M656.67 479.94V500.64M655.97 500.64h1.4M659.56 482.24V502.18M658.86 502.18h1.4M662.46 477.05V500.55M661.76 500.55h1.4M665.36 480.91V502.47M664.66 502.47h1.4M668.25 478.21V501.56M667.55 501.56h1.4M671.15 481.98V502.17M670.45 502.17h1.4" stroke="#1a1a1a" stroke-width="0.9" stroke-opacity="0.8" fill="none"/>
<path d="M365.5 462.5H672.6" stroke="#fff" stroke-width="1.6"/>
<path d="M365.5 352.8H673.0V514.2" stroke="#bbb" stroke-width="0.8" fill="none"/>
<path d="M365.1 352.8V514.2H672.6" stroke="#999" stroke-width="1.3" fill="none"/>
<path d="M362.4 459.4l4.2 4.2M362.4 461.6l4.2 4.2" stroke="#111" stroke-width="0.9"/>
<path d="M360.7 440.16H365M360.7 411.04H365M360.7 381.92H365M360.7 352.80H365M360.7 514.20H365M360.7 497.30H365M360.7 480.40H365M360.7 463.50H365" stroke="#444" stroke-width="0.7"/>
<g font-size="5.8" fill="#222" text-anchor="end">
<text x="360.2" y="442.16">40</text>
<text x="360.2" y="413.04">60</text>
<text x="360.2" y="383.92">80</text>
<text x="360.2" y="354.80">100</text>
<text x="360.2" y="516.20">0</text>
<text x="360.2" y="499.30">5</text>
<text x="360.2" y="482.40">10</text>
<text x="360.2" y="465.50">15</text>
</g>
<path d="M366.30 514.2V517.8M373.96 514.2V517.8M381.62 514.2V517.8M389.28 514.2V517.8M396.94 514.2V517.8M404.60 514.2V517.8M412.26 514.2V517.8M419.92 514.2V517.8M427.58 514.2V517.8M435.24 514.2V517.8M442.90 514.2V517.8M450.56 514.2V517.8M458.22 514.2V517.8M465.88 514.2V517.8M473.54 514.2V517.8M481.20 514.2V517.8M488.86 514.2V517.8M496.52 514.2V517.8M504.18 514.2V517.8M511.84 514.2V517.8M519.50 514.2V517.8M527.16 514.2V517.8M534.82 514.2V517.8M542.48 514.2V517.8M550.14 514.2V517.8M557.80 514.2V517.8M565.46 514.2V517.8M573.12 514.2V517.8M580.78 514.2V517.8M588.44 514.2V517.8M596.10 514.2V517.8M603.76 514.2V517.8M611.42 514.2V517.8M619.08 514.2V517.8M626.74 514.2V517.8M634.40 514.2V517.8M642.06 514.2V517.8M649.72 514.2V517.8M657.38 514.2V517.8M665.04 514.2V517.8" stroke="#333" stroke-width="0.8"/>
<g font-size="5.6" fill="#000" stroke="#000" stroke-width="0.12" text-anchor="end">
<text transform="translate(367.90 522.3) rotate(-45)">0.500</text>
<text transform="translate(375.56 522.3) rotate(-45)">0.525</text>
<text transform="translate(383.22 522.3) rotate(-45)">0.550</text>
<text transform="translate(390.88 522.3) rotate(-45)">0.575</text>
<text transform="translate(398.54 522.3) rotate(-45)">0.600</text>
<text transform="translate(406.20 522.3) rotate(-45)">0.625</text>
<text transform="translate(413.86 522.3) rotate(-45)">0.650</text>
<text transform="translate(421.52 522.3) rotate(-45)">0.675</text>
<text transform="translate(429.18 522.3) rotate(-45)">0.700</text>
<text transform="translate(436.84 522.3) rotate(-45)">0.725</text>
<text transform="translate(444.50 522.3) rotate(-45)">0.750</text>
<text transform="translate(452.16 522.3) rotate(-45)">0.775</text>
<text transform="translate(459.82 522.3) rotate(-45)">0.800</text>
<text transform="translate(467.48 522.3) rotate(-45)">0.825</text>
<text transform="translate(475.14 522.3) rotate(-45)">0.850</text>
<text transform="translate(482.80 522.3) rotate(-45)">0.875</text>
<text transform="translate(490.46 522.3) rotate(-45)">0.900</text>
<text transform="translate(498.12 522.3) rotate(-45)">0.925</text>
<text transform="translate(505.78 522.3) rotate(-45)">0.950</text>
<text transform="translate(513.44 522.3) rotate(-45)">0.975</text>
<text transform="translate(521.10 522.3) rotate(-45)">1.000</text>
<text transform="translate(528.76 522.3) rotate(-45)">1.025</text>
<text transform="translate(536.42 522.3) rotate(-45)">1.050</text>
<text transform="translate(544.08 522.3) rotate(-45)">1.075</text>
<text transform="translate(551.74 522.3) rotate(-45)">1.100</text>
<text transform="translate(559.40 522.3) rotate(-45)">1.125</text>
<text transform="translate(567.06 522.3) rotate(-45)">1.150</text>
<text transform="translate(574.72 522.3) rotate(-45)">1.175</text>
<text transform="translate(582.38 522.3) rotate(-45)">1.200</text>
<text transform="translate(590.04 522.3) rotate(-45)">1.225</text>
<text transform="translate(597.70 522.3) rotate(-45)">1.250</text>
<text transform="translate(605.36 522.3) rotate(-45)">1.275</text>
<text transform="translate(613.02 522.3) rotate(-45)">1.300</text>
<text transform="translate(620.68 522.3) rotate(-45)">1.325</text>
<text transform="translate(628.34 522.3) rotate(-45)">1.350</text>
<text transform="translate(636.00 522.3) rotate(-45)">1.375</text>
<text transform="translate(643.66 522.3) rotate(-45)">1.400</text>
<text transform="translate(651.32 522.3) rotate(-45)">1.425</text>
<text transform="translate(658.98 522.3) rotate(-45)">1.450</text>
<text transform="translate(666.64 522.3) rotate(-45)">1.475</text>
</g>
<text x="519" y="543" font-size="8.6" fill="#111" text-anchor="middle">ζ</text>
<text transform="translate(353 434.2) rotate(-90)" font-size="7" font-weight="bold" fill="#000" text-anchor="middle">%</text>
<rect x="410.7" y="377.1" width="44.8" height="16.8" rx="8.4" fill="#fff" fill-opacity="0.78"/>
<text x="433" y="387.6" font-size="6.1" fill="#000" text-anchor="middle">over-triage</text>
<rect x="410.6" y="429.2" width="45" height="17.8" rx="8.9" fill="#fff" fill-opacity="0.78"/>
<text x="433" y="436.6" font-size="6.1" fill="#000" text-anchor="middle">correct</text>
<text x="433" y="443.6" font-size="6.1" fill="#000" text-anchor="middle">allocation</text>
<rect x="410.6" y="486.1" width="45" height="17" rx="8.5" fill="#fff" fill-opacity="0.78"/>
<text x="433" y="496.6" font-size="6.1" fill="#000" text-anchor="middle">under-triage</text>
<text x="340.8" y="350.6" font-size="15.5" font-weight="bold" fill="#000">C</text>
<g font-family="Liberation Sans, sans-serif">
<g font-size="5.4" text-anchor="middle">
<text x="48.22" y="575.80" font-size="5.6" fill="#111" text-anchor="middle">ζ = -2.00</text>
<rect x="21.30" y="579.10" width="18.10" height="18.10" fill="#0a7b41"/>
<rect x="39.25" y="579.10" width="18.10" height="18.10" fill="#1a9850"/>
<rect x="57.20" y="579.10" width="18.10" height="18.10" fill="#128a48"/>
<rect x="21.30" y="597.05" width="18.10" height="18.10" fill="#a50026"/>
<rect x="39.25" y="597.05" width="18.10" height="18.10" fill="#006837"/>
<rect x="57.20" y="597.05" width="18.10" height="18.10" fill="#158e4b"/>
<rect x="21.30" y="615.00" width="18.10" height="18.10" fill="#a50026"/>
<rect x="39.25" y="615.00" width="18.10" height="18.10" fill="#57b65f"/>
<rect x="57.20" y="615.00" width="18.10" height="18.10" fill="#05723c"/>
<text x="30.27" y="586.60" fill="#fff">92.6%</text>
<text x="30.27" y="592.80" fill="#fff">(116)</text>
<text x="48.23" y="586.60" fill="#fff">6.0%</text>
<text x="48.23" y="592.80" fill="#fff">(7)</text>
<text x="66.17" y="586.60" fill="#fff">1.5%</text>
<text x="66.17" y="592.80" fill="#fff">(1)</text>
<text x="30.27" y="604.55" fill="#fff">84.9%</text>
<text x="30.27" y="610.75" fill="#fff">(41)</text>
<text x="48.23" y="604.55" fill="#fff">13.3%</text>
<text x="48.23" y="610.75" fill="#fff">(6)</text>
<text x="66.17" y="604.55" fill="#fff">1.8%</text>
<text x="66.17" y="610.75" fill="#fff">(0)</text>
<text x="30.27" y="628.70" fill="#fff">(17)</text>
<text x="48.23" y="622.50" fill="#fff">17.1%</text>
<text x="48.23" y="628.70" fill="#fff">(4)</text>
<text x="66.17" y="622.50" fill="#fff">12.0%</text>
<text x="66.17" y="628.70" fill="#fff">(2)</text>
<path d="M21.30 588.08h-2M30.27 632.95v2M21.30 606.03h-2M48.23 632.95v2M21.30 623.98h-2M66.17 632.95v2" stroke="#333" stroke-width="0.6"/>
<text x="30.27" y="641.15" font-size="6.2" fill="#222" text-anchor="middle">RR</text>
<text transform="translate(17.10 588.08) rotate(-90)" font-size="6.2" fill="#222" text-anchor="middle">RR</text>
<text x="48.23" y="641.15" font-size="6.2" fill="#222" text-anchor="middle">IMC</text>
<text transform="translate(17.10 606.03) rotate(-90)" font-size="6.2" fill="#222" text-anchor="middle">IMC</text>
<text x="66.17" y="641.15" font-size="6.2" fill="#222" text-anchor="middle">ICU</text>
<text transform="translate(17.10 623.98) rotate(-90)" font-size="6.2" fill="#222" text-anchor="middle">ICU</text>
<text x="48.22" y="647.45" font-size="5.3" fill="#222" text-anchor="middle">Predicted</text>
<text transform="translate(9.90 606.02) rotate(-90)" font-size="5.3" fill="#222" text-anchor="middle">Actual</text>
<text x="121.18" y="575.80" font-size="5.6" fill="#111" text-anchor="middle">ζ = -1.50</text>
<rect x="94.26" y="579.10" width="18.10" height="18.10" fill="#05723c"/>
<rect x="112.21" y="579.10" width="18.10" height="18.10" fill="#5eb961"/>
<rect x="130.16" y="579.10" width="18.10" height="18.10" fill="#1a9850"/>
<rect x="94.26" y="597.05" width="18.10" height="18.10" fill="#e0422f"/>
<rect x="112.21" y="597.05" width="18.10" height="18.10" fill="#05723c"/>
<rect x="130.16" y="597.05" width="18.10" height="18.10" fill="#1a9850"/>
<rect x="94.26" y="615.00" width="18.10" height="18.10" fill="#af0a26"/>
<rect x="112.21" y="615.00" width="18.10" height="18.10" fill="#93d168"/>
<rect x="130.16" y="615.00" width="18.10" height="18.10" fill="#08763e"/>
<text x="103.23" y="586.60" fill="#fff">80.2%</text>
<text x="103.23" y="592.80" fill="#fff">(101)</text>
<text x="121.18" y="586.60" fill="#fff">15.7%</text>
<text x="121.18" y="592.80" fill="#fff">(19)</text>
<text x="139.13" y="586.60" fill="#fff">4.2%</text>
<text x="139.13" y="592.80" fill="#fff">(5)</text>
<text x="103.23" y="604.55" fill="#fff">67.4%</text>
<text x="103.23" y="610.75" fill="#fff">(33)</text>
<text x="121.18" y="604.55" fill="#fff">26.3%</text>
<text x="121.18" y="610.75" fill="#fff">(13)</text>
<text x="139.13" y="604.55" fill="#fff">6.3%</text>
<text x="139.13" y="610.75" fill="#fff">(3)</text>
<text x="103.23" y="622.50" fill="#fff">49.9%</text>
<text x="103.23" y="628.70" fill="#fff">(12)</text>
<text x="121.18" y="622.50" fill="#222">23.0%</text>
<text x="121.18" y="628.70" fill="#222">(5)</text>
<text x="139.13" y="622.50" fill="#fff">27.0%</text>
<text x="139.13" y="628.70" fill="#fff">(6)</text>
<path d="M94.26 588.08h-2M103.23 632.95v2M94.26 606.03h-2M121.18 632.95v2M94.26 623.98h-2M139.13 632.95v2" stroke="#333" stroke-width="0.6"/>
<text x="103.23" y="641.15" font-size="6.2" fill="#222" text-anchor="middle">RR</text>
<text transform="translate(90.06 588.08) rotate(-90)" font-size="6.2" fill="#222" text-anchor="middle">RR</text>
<text x="121.18" y="641.15" font-size="6.2" fill="#222" text-anchor="middle">IMC</text>
<text transform="translate(90.06 606.03) rotate(-90)" font-size="6.2" fill="#222" text-anchor="middle">IMC</text>
<text x="139.13" y="641.15" font-size="6.2" fill="#222" text-anchor="middle">ICU</text>
<text transform="translate(90.06 623.98) rotate(-90)" font-size="6.2" fill="#222" text-anchor="middle">ICU</text>
<text x="121.18" y="647.45" font-size="5.3" fill="#222" text-anchor="middle">Predicted</text>
<text transform="translate(82.86 606.02) rotate(-90)" font-size="5.3" fill="#222" text-anchor="middle">Actual</text>
<text x="194.14" y="575.80" font-size="5.6" fill="#111" text-anchor="middle">ζ = -1.00</text>
<rect x="167.22" y="579.10" width="18.10" height="18.10" fill="#036d3a"/>
<rect x="185.17" y="579.10" width="18.10" height="18.10" fill="#a6d96a"/>
<rect x="203.12" y="579.10" width="18.10" height="18.10" fill="#40aa5a"/>
<rect x="167.22" y="597.05" width="18.10" height="18.10" fill="#f7804c"/>
<rect x="185.17" y="597.05" width="18.10" height="18.10" fill="#0a7b41"/>
<rect x="203.12" y="597.05" width="18.10" height="18.10" fill="#299f54"/>
<rect x="167.22" y="615.00" width="18.10" height="18.10" fill="#e0422f"/>
<rect x="185.17" y="615.00" width="18.10" height="18.10" fill="#8cce67"/>
<rect x="203.12" y="615.00" width="18.10" height="18.10" fill="#08763e"/>
<text x="176.19" y="586.60" fill="#fff">71.4%</text>
<text x="176.19" y="592.80" fill="#fff">(90)</text>
<text x="194.14" y="586.60" fill="#222">22.1%</text>
<text x="194.14" y="592.80" fill="#222">(27)</text>
<text x="212.09" y="586.60" fill="#fff">6.5%</text>
<text x="212.09" y="592.80" fill="#fff">(8)</text>
<text x="176.19" y="604.55" fill="#fff">57.8%</text>
<text x="176.19" y="610.75" fill="#fff">(28)</text>
<text x="194.14" y="604.55" fill="#fff">31.5%</text>
<text x="194.14" y="610.75" fill="#fff">(15)</text>
<text x="212.09" y="604.55" fill="#fff">10.7%</text>
<text x="212.09" y="610.75" fill="#fff">(5)</text>
<text x="176.19" y="622.50" fill="#fff">38.4%</text>
<text x="176.19" y="628.70" fill="#fff">(9)</text>
<text x="194.14" y="622.50" fill="#222">25.2%</text>
<text x="194.14" y="628.70" fill="#222">(6)</text>
<text x="212.09" y="622.50" fill="#fff">36.4%</text>
<text x="212.09" y="628.70" fill="#fff">(8)</text>
<path d="M167.22 588.08h-2M176.19 632.95v2M167.22 606.03h-2M194.14 632.95v2M167.22 623.98h-2M212.09 632.95v2" stroke="#333" stroke-width="0.6"/>
<text x="176.19" y="641.15" font-size="6.2" fill="#222" text-anchor="middle">RR</text>
<text transform="translate(163.02 588.08) rotate(-90)" font-size="6.2" fill="#222" text-anchor="middle">RR</text>
<text x="194.14" y="641.15" font-size="6.2" fill="#222" text-anchor="middle">IMC</text>
<text transform="translate(163.02 606.03) rotate(-90)" font-size="6.2" fill="#222" text-anchor="middle">IMC</text>
<text x="212.09" y="641.15" font-size="6.2" fill="#222" text-anchor="middle">ICU</text>
<text transform="translate(163.02 623.98) rotate(-90)" font-size="6.2" fill="#222" text-anchor="middle">ICU</text>
<text x="194.14" y="647.45" font-size="5.3" fill="#222" text-anchor="middle">Predicted</text>
<text transform="translate(155.82 606.02) rotate(-90)" font-size="5.3" fill="#222" text-anchor="middle">Actual</text>
<text x="267.11" y="575.80" font-size="5.6" fill="#111" text-anchor="middle">ζ = -0.50</text>
<rect x="240.18" y="579.10" width="18.10" height="18.10" fill="#036d3a"/>
<rect x="258.13" y="579.10" width="18.10" height="18.10" fill="#a6d96a"/>
<rect x="276.08" y="579.10" width="18.10" height="18.10" fill="#6cc064"/>
<rect x="240.18" y="597.05" width="18.10" height="18.10" fill="#fdc272"/>
<rect x="258.13" y="597.05" width="18.10" height="18.10" fill="#08763e"/>
<rect x="276.08" y="597.05" width="18.10" height="18.10" fill="#31a356"/>
<rect x="240.18" y="615.00" width="18.10" height="18.10" fill="#fdc272"/>
<rect x="258.13" y="615.00" width="18.10" height="18.10" fill="#a6d96a"/>
<rect x="276.08" y="615.00" width="18.10" height="18.10" fill="#08763e"/>
<text x="249.16" y="586.60" fill="#fff">63.3%</text>
<text x="249.16" y="592.80" fill="#fff">(79)</text>
<text x="267.11" y="586.60" fill="#222">26.7%</text>
<text x="267.11" y="592.80" fill="#222">(33)</text>
<text x="285.06" y="586.60" fill="#222">10.0%</text>
<text x="285.06" y="592.80" fill="#222">(12)</text>
<text x="249.16" y="604.55" fill="#222">48.7%</text>
<text x="249.16" y="610.75" fill="#222">(24)</text>
<text x="267.11" y="604.55" fill="#fff">35.5%</text>
<text x="267.11" y="610.75" fill="#fff">(17)</text>
<text x="285.06" y="604.55" fill="#fff">15.7%</text>
<text x="285.06" y="610.75" fill="#fff">(7)</text>
<text x="249.16" y="622.50" fill="#222">27.7%</text>
<text x="249.16" y="628.70" fill="#222">(6)</text>
<text x="267.11" y="622.50" fill="#222">28.0%</text>
<text x="267.11" y="628.70" fill="#222">(6)</text>
<text x="285.06" y="622.50" fill="#fff">44.3%</text>
<text x="285.06" y="628.70" fill="#fff">(10)</text>
<path d="M240.18 588.08h-2M249.16 632.95v2M240.18 606.03h-2M267.11 632.95v2M240.18 623.98h-2M285.06 632.95v2" stroke="#333" stroke-width="0.6"/>
<text x="249.16" y="641.15" font-size="6.2" fill="#222" text-anchor="middle">RR</text>
<text transform="translate(235.98 588.08) rotate(-90)" font-size="6.2" fill="#222" text-anchor="middle">RR</text>
<text x="267.11" y="641.15" font-size="6.2" fill="#222" text-anchor="middle">IMC</text>
<text transform="translate(235.98 606.03) rotate(-90)" font-size="6.2" fill="#222" text-anchor="middle">IMC</text>
<text x="285.06" y="641.15" font-size="6.2" fill="#222" text-anchor="middle">ICU</text>
<text transform="translate(235.98 623.98) rotate(-90)" font-size="6.2" fill="#222" text-anchor="middle">ICU</text>
<text x="267.11" y="647.45" font-size="5.3" fill="#222" text-anchor="middle">Predicted</text>
<text transform="translate(228.78 606.02) rotate(-90)" font-size="5.3" fill="#222" text-anchor="middle">Actual</text>
<text x="340.06" y="575.80" font-size="5.6" fill="#111" text-anchor="middle">ζ = 0.00</text>
<rect x="313.14" y="579.10" width="18.10" height="18.10" fill="#05723c"/>
<rect x="331.09" y="579.10" width="18.10" height="18.10" fill="#d9ef8b"/>
<rect x="349.04" y="579.10" width="18.10" height="18.10" fill="#a6d96a"/>
<rect x="313.14" y="597.05" width="18.10" height="18.10" fill="#feeca0"/>
<rect x="331.09" y="597.05" width="18.10" height="18.10" fill="#08763e"/>
<rect x="349.04" y="597.05" width="18.10" height="18.10" fill="#66bd63"/>
<rect x="313.14" y="615.00" width="18.10" height="18.10" fill="#fee99b"/>
<rect x="331.09" y="615.00" width="18.10" height="18.10" fill="#bae277"/>
<rect x="349.04" y="615.00" width="18.10" height="18.10" fill="#108546"/>
<text x="322.12" y="586.60" fill="#fff">56.5%</text>
<text x="322.12" y="592.80" fill="#fff">(71)</text>
<text x="340.06" y="586.60" fill="#222">31.0%</text>
<text x="340.06" y="592.80" fill="#222">(39)</text>
<text x="358.01" y="586.60" fill="#222">12.5%</text>
<text x="358.01" y="592.80" fill="#222">(15)</text>
<text x="322.12" y="604.55" fill="#222">41.1%</text>
<text x="322.12" y="610.75" fill="#222">(20)</text>
<text x="340.06" y="604.55" fill="#fff">39.9%</text>
<text x="340.06" y="610.75" fill="#fff">(19)</text>
<text x="358.01" y="604.55" fill="#fff">19.0%</text>
<text x="358.01" y="610.75" fill="#fff">(9)</text>
<text x="322.12" y="622.50" fill="#222">23.4%</text>
<text x="322.12" y="628.70" fill="#222">(5)</text>
<text x="340.06" y="622.50" fill="#222">30.1%</text>
<text x="340.06" y="628.70" fill="#222">(7)</text>
<text x="358.01" y="622.50" fill="#fff">46.6%</text>
<text x="358.01" y="628.70" fill="#fff">(11)</text>
<path d="M313.14 588.08h-2M322.12 632.95v2M313.14 606.03h-2M340.06 632.95v2M313.14 623.98h-2M358.01 632.95v2" stroke="#333" stroke-width="0.6"/>
<text x="322.12" y="641.15" font-size="6.2" fill="#222" text-anchor="middle">RR</text>
<text transform="translate(308.94 588.08) rotate(-90)" font-size="6.2" fill="#222" text-anchor="middle">RR</text>
<text x="340.06" y="641.15" font-size="6.2" fill="#222" text-anchor="middle">IMC</text>
<text transform="translate(308.94 606.03) rotate(-90)" font-size="6.2" fill="#222" text-anchor="middle">IMC</text>
<text x="358.01" y="641.15" font-size="6.2" fill="#222" text-anchor="middle">ICU</text>
<text transform="translate(308.94 623.98) rotate(-90)" font-size="6.2" fill="#222" text-anchor="middle">ICU</text>
<text x="340.06" y="647.45" font-size="5.3" fill="#222" text-anchor="middle">Predicted</text>
<text transform="translate(301.74 606.02) rotate(-90)" font-size="5.3" fill="#222" text-anchor="middle">Actual</text>
<text x="413.02" y="575.80" font-size="5.6" fill="#111" text-anchor="middle">ζ = 0.50</text>
<rect x="386.10" y="579.10" width="18.10" height="18.10" fill="#05723c"/>
<rect x="404.05" y="579.10" width="18.10" height="18.10" fill="#e8f5a0"/>
<rect x="422.00" y="579.10" width="18.10" height="18.10" fill="#b5e074"/>
<rect x="386.10" y="597.05" width="18.10" height="18.10" fill="#e1f295"/>
<rect x="404.05" y="597.05" width="18.10" height="18.10" fill="#08763e"/>
<rect x="422.00" y="597.05" width="18.10" height="18.10" fill="#80c866"/>
<rect x="386.10" y="615.00" width="18.10" height="18.10" fill="#e4f49b"/>
<rect x="404.05" y="615.00" width="18.10" height="18.10" fill="#bae277"/>
<rect x="422.00" y="615.00" width="18.10" height="18.10" fill="#0a7b41"/>
<text x="395.07" y="586.60" fill="#fff">47.5%</text>
<text x="395.07" y="592.80" fill="#fff">(59)</text>
<text x="413.02" y="586.60" fill="#222">38.6%</text>
<text x="413.02" y="592.80" fill="#222">(48)</text>
<text x="430.97" y="586.60" fill="#222">15.9%</text>
<text x="430.97" y="592.80" fill="#222">(20)</text>
<text x="395.07" y="604.55" fill="#222">33.3%</text>
<text x="395.07" y="610.75" fill="#222">(16)</text>
<text x="413.02" y="604.55" fill="#fff">44.9%</text>
<text x="413.02" y="610.75" fill="#fff">(22)</text>
<text x="430.97" y="604.55" fill="#222">21.8%</text>
<text x="430.97" y="610.75" fill="#222">(10)</text>
<text x="395.07" y="622.50" fill="#222">18.4%</text>
<text x="395.07" y="628.70" fill="#222">(4)</text>
<text x="413.02" y="622.50" fill="#222">30.7%</text>
<text x="413.02" y="628.70" fill="#222">(7)</text>
<text x="430.97" y="622.50" fill="#fff">51.0%</text>
<text x="430.97" y="628.70" fill="#fff">(12)</text>
<path d="M386.10 588.08h-2M395.07 632.95v2M386.10 606.03h-2M413.02 632.95v2M386.10 623.98h-2M430.97 632.95v2" stroke="#333" stroke-width="0.6"/>
<text x="395.07" y="641.15" font-size="6.2" fill="#222" text-anchor="middle">RR</text>
<text transform="translate(381.90 588.08) rotate(-90)" font-size="6.2" fill="#222" text-anchor="middle">RR</text>
<text x="413.02" y="641.15" font-size="6.2" fill="#222" text-anchor="middle">IMC</text>
<text transform="translate(381.90 606.03) rotate(-90)" font-size="6.2" fill="#222" text-anchor="middle">IMC</text>
<text x="430.97" y="641.15" font-size="6.2" fill="#222" text-anchor="middle">ICU</text>
<text transform="translate(381.90 623.98) rotate(-90)" font-size="6.2" fill="#222" text-anchor="middle">ICU</text>
<text x="413.02" y="647.45" font-size="5.3" fill="#222" text-anchor="middle">Predicted</text>
<text transform="translate(374.70 606.02) rotate(-90)" font-size="5.3" fill="#222" text-anchor="middle">Actual</text>
<text x="485.99" y="575.80" font-size="5.6" fill="#111" text-anchor="middle">ζ = 1.00</text>
<rect x="459.06" y="579.10" width="18.10" height="18.10" fill="#08763e"/>
<rect x="477.01" y="579.10" width="18.10" height="18.10" fill="#fee99b"/>
<rect x="494.96" y="579.10" width="18.10" height="18.10" fill="#fee99b"/>
<rect x="459.06" y="597.05" width="18.10" height="18.10" fill="#99d369"/>
<rect x="477.01" y="597.05" width="18.10" height="18.10" fill="#05723c"/>
<rect x="494.96" y="597.05" width="18.10" height="18.10" fill="#99d369"/>
<rect x="459.06" y="615.00" width="18.10" height="18.10" fill="#b5e074"/>
<rect x="477.01" y="615.00" width="18.10" height="18.10" fill="#a6d96a"/>
<rect x="494.96" y="615.00" width="18.10" height="18.10" fill="#0a7b41"/>
<text x="468.04" y="586.60" fill="#fff">30.9%</text>
<text x="468.04" y="592.80" fill="#fff">(39)</text>
<text x="485.99" y="586.60" fill="#222">46.8%</text>
<text x="485.99" y="592.80" fill="#222">(58)</text>
<text x="503.94" y="586.60" fill="#222">22.5%</text>
<text x="503.94" y="592.80" fill="#222">(28)</text>
<text x="468.04" y="604.55" fill="#222">19.6%</text>
<text x="468.04" y="610.75" fill="#222">(9)</text>
<text x="485.99" y="604.55" fill="#fff">49.8%</text>
<text x="485.99" y="610.75" fill="#fff">(24)</text>
<text x="503.94" y="604.55" fill="#222">30.4%</text>
<text x="503.94" y="610.75" fill="#222">(15)</text>
<text x="468.04" y="622.50" fill="#222">12.2%</text>
<text x="468.04" y="628.70" fill="#222">(2)</text>
<text x="485.99" y="622.50" fill="#222">34.7%</text>
<text x="485.99" y="628.70" fill="#222">(8)</text>
<text x="503.94" y="622.50" fill="#fff">53.1%</text>
<text x="503.94" y="628.70" fill="#fff">(12)</text>
<path d="M459.06 588.08h-2M468.04 632.95v2M459.06 606.03h-2M485.99 632.95v2M459.06 623.98h-2M503.94 632.95v2" stroke="#333" stroke-width="0.6"/>
<text x="468.04" y="641.15" font-size="6.2" fill="#222" text-anchor="middle">RR</text>
<text transform="translate(454.86 588.08) rotate(-90)" font-size="6.2" fill="#222" text-anchor="middle">RR</text>
<text x="485.99" y="641.15" font-size="6.2" fill="#222" text-anchor="middle">IMC</text>
<text transform="translate(454.86 606.03) rotate(-90)" font-size="6.2" fill="#222" text-anchor="middle">IMC</text>
<text x="503.94" y="641.15" font-size="6.2" fill="#222" text-anchor="middle">ICU</text>
<text transform="translate(454.86 623.98) rotate(-90)" font-size="6.2" fill="#222" text-anchor="middle">ICU</text>
<text x="485.99" y="647.45" font-size="5.3" fill="#222" text-anchor="middle">Predicted</text>
<text transform="translate(447.66 606.02) rotate(-90)" font-size="5.3" fill="#222" text-anchor="middle">Actual</text>
<text x="558.94" y="575.80" font-size="5.6" fill="#111" text-anchor="middle">ζ = 1.50</text>
<rect x="532.02" y="579.10" width="18.10" height="18.10" fill="#08763e"/>
<rect x="549.97" y="579.10" width="18.10" height="18.10" fill="#fdae61"/>
<rect x="567.92" y="579.10" width="18.10" height="18.10" fill="#f46d43"/>
<rect x="532.02" y="597.05" width="18.10" height="18.10" fill="#229c52"/>
<rect x="549.97" y="597.05" width="18.10" height="18.10" fill="#05723c"/>
<rect x="567.92" y="597.05" width="18.10" height="18.10" fill="#d4ed88"/>
<rect x="532.02" y="615.00" width="18.10" height="18.10" fill="#31a356"/>
<rect x="549.97" y="615.00" width="18.10" height="18.10" fill="#d4ed88"/>
<rect x="567.92" y="615.00" width="18.10" height="18.10" fill="#05723c"/>
<text x="541.00" y="586.60" fill="#fff">13.0%</text>
<text x="541.00" y="592.80" fill="#fff">(16)</text>
<text x="558.95" y="586.60" fill="#222">54.6%</text>
<text x="558.95" y="592.80" fill="#222">(68)</text>
<text x="576.89" y="586.60" fill="#fff">32.4%</text>
<text x="576.89" y="592.80" fill="#fff">(40)</text>
<text x="541.00" y="604.55" fill="#fff">6.4%</text>
<text x="541.00" y="610.75" fill="#fff">(3)</text>
<text x="558.95" y="604.55" fill="#fff">53.4%</text>
<text x="558.95" y="610.75" fill="#fff">(26)</text>
<text x="576.89" y="604.55" fill="#222">40.2%</text>
<text x="576.89" y="610.75" fill="#222">(19)</text>
<text x="541.00" y="622.50" fill="#fff">3.4%</text>
<text x="541.00" y="628.70" fill="#fff">(0)</text>
<text x="558.95" y="622.50" fill="#222">38.4%</text>
<text x="558.95" y="628.70" fill="#222">(9)</text>
<text x="576.89" y="622.50" fill="#fff">58.3%</text>
<text x="576.89" y="628.70" fill="#fff">(14)</text>
<path d="M532.02 588.08h-2M541.00 632.95v2M532.02 606.03h-2M558.95 632.95v2M532.02 623.98h-2M576.89 632.95v2" stroke="#333" stroke-width="0.6"/>
<text x="541.00" y="641.15" font-size="6.2" fill="#222" text-anchor="middle">RR</text>
<text transform="translate(527.82 588.08) rotate(-90)" font-size="6.2" fill="#222" text-anchor="middle">RR</text>
<text x="558.95" y="641.15" font-size="6.2" fill="#222" text-anchor="middle">IMC</text>
<text transform="translate(527.82 606.03) rotate(-90)" font-size="6.2" fill="#222" text-anchor="middle">IMC</text>
<text x="576.89" y="641.15" font-size="6.2" fill="#222" text-anchor="middle">ICU</text>
<text transform="translate(527.82 623.98) rotate(-90)" font-size="6.2" fill="#222" text-anchor="middle">ICU</text>
<text x="558.94" y="647.45" font-size="5.3" fill="#222" text-anchor="middle">Predicted</text>
<text transform="translate(520.62 606.02) rotate(-90)" font-size="5.3" fill="#222" text-anchor="middle">Actual</text>
<text x="631.90" y="575.80" font-size="5.6" fill="#111" text-anchor="middle">ζ = 2.00</text>
<rect x="604.98" y="579.10" width="18.10" height="18.10" fill="#128a48"/>
<rect x="622.93" y="579.10" width="18.10" height="18.10" fill="#fecc7a"/>
<rect x="640.88" y="579.10" width="18.10" height="18.10" fill="#a50026"/>
<rect x="604.98" y="597.05" width="18.10" height="18.10" fill="#128a48"/>
<rect x="622.93" y="597.05" width="18.10" height="18.10" fill="#036d3a"/>
<rect x="640.88" y="597.05" width="18.10" height="18.10" fill="#fff9b5"/>
<rect x="604.98" y="615.00" width="18.10" height="18.10" fill="#128a48"/>
<rect x="622.93" y="615.00" width="18.10" height="18.10" fill="#b5e074"/>
<rect x="640.88" y="615.00" width="18.10" height="18.10" fill="#036d3a"/>
<text x="613.95" y="586.60" fill="#fff">7.6%</text>
<text x="613.95" y="592.80" fill="#fff">(9)</text>
<text x="631.90" y="586.60" fill="#222">49.6%</text>
<text x="631.90" y="592.80" fill="#222">(62)</text>
<text x="649.85" y="586.60" fill="#fff">42.8%</text>
<text x="649.85" y="592.80" fill="#fff">(54)</text>
<text x="613.95" y="604.55" fill="#fff">2.3%</text>
<text x="613.95" y="610.75" fill="#fff">(1)</text>
<text x="631.90" y="604.55" fill="#fff">48.4%</text>
<text x="631.90" y="610.75" fill="#fff">(23)</text>
<text x="649.85" y="604.55" fill="#222">49.3%</text>
<text x="649.85" y="610.75" fill="#222">(24)</text>
<text x="613.95" y="622.50" fill="#fff">0.7%</text>
<text x="613.95" y="628.70" fill="#fff">(0)</text>
<text x="631.90" y="622.50" fill="#222">30.7%</text>
<text x="631.90" y="628.70" fill="#222">(7)</text>
<text x="649.85" y="622.50" fill="#fff">68.6%</text>
<text x="649.85" y="628.70" fill="#fff">(16)</text>
<path d="M604.98 588.08h-2M613.95 632.95v2M604.98 606.03h-2M631.90 632.95v2M604.98 623.98h-2M649.85 632.95v2" stroke="#333" stroke-width="0.6"/>
<text x="613.95" y="641.15" font-size="6.2" fill="#222" text-anchor="middle">RR</text>
<text transform="translate(600.78 588.08) rotate(-90)" font-size="6.2" fill="#222" text-anchor="middle">RR</text>
<text x="631.90" y="641.15" font-size="6.2" fill="#222" text-anchor="middle">IMC</text>
<text transform="translate(600.78 606.03) rotate(-90)" font-size="6.2" fill="#222" text-anchor="middle">IMC</text>
<text x="649.85" y="641.15" font-size="6.2" fill="#222" text-anchor="middle">ICU</text>
<text transform="translate(600.78 623.98) rotate(-90)" font-size="6.2" fill="#222" text-anchor="middle">ICU</text>
<text x="631.90" y="647.45" font-size="5.3" fill="#222" text-anchor="middle">Predicted</text>
<text transform="translate(593.58 606.02) rotate(-90)" font-size="5.3" fill="#222" text-anchor="middle">Actual</text>
<text x="47.32" y="686.90" font-size="5.6" fill="#111" text-anchor="middle">ζ = -2.00</text>
<rect x="20.40" y="690.20" width="18.10" height="18.10" fill="#05723c"/>
<rect x="38.35" y="690.20" width="18.10" height="18.10" fill="#1a9850"/>
<rect x="56.30" y="690.20" width="18.10" height="18.10" fill="#f46d43"/>
<rect x="20.40" y="708.15" width="18.10" height="18.10" fill="#fdae61"/>
<rect x="38.35" y="708.15" width="18.10" height="18.10" fill="#036d3a"/>
<rect x="56.30" y="708.15" width="18.10" height="18.10" fill="#a6d96a"/>
<rect x="20.40" y="726.10" width="18.10" height="18.10" fill="#fef0a5"/>
<rect x="38.35" y="726.10" width="18.10" height="18.10" fill="#31a356"/>
<rect x="56.30" y="726.10" width="18.10" height="18.10" fill="#05723c"/>
<text x="29.38" y="697.70" fill="#fff">61.0%</text>
<text x="29.38" y="703.90" fill="#fff">(32)</text>
<text x="47.32" y="697.70" fill="#fff">6.2%</text>
<text x="47.32" y="703.90" fill="#fff">(3)</text>
<text x="65.27" y="697.70" fill="#fff">32.7%</text>
<text x="65.27" y="703.90" fill="#fff">(17)</text>
<text x="29.38" y="715.65" fill="#222">54.3%</text>
<text x="29.38" y="721.85" fill="#222">(11)</text>
<text x="47.32" y="715.65" fill="#fff">10.0%</text>
<text x="47.32" y="721.85" fill="#fff">(2)</text>
<text x="65.27" y="715.65" fill="#222">35.7%</text>
<text x="65.27" y="721.85" fill="#222">(7)</text>
<text x="29.38" y="733.60" fill="#222">24.0%</text>
<text x="29.38" y="739.80" fill="#222">(1)</text>
<text x="47.32" y="733.60" fill="#fff">14.3%</text>
<text x="47.32" y="739.80" fill="#fff">(0)</text>
<text x="65.27" y="733.60" fill="#fff">61.7%</text>
<text x="65.27" y="739.80" fill="#fff">(3)</text>
<path d="M20.40 699.18h-2M29.38 744.05v2M20.40 717.13h-2M47.32 744.05v2M20.40 735.08h-2M65.27 744.05v2" stroke="#333" stroke-width="0.6"/>
<text x="29.38" y="752.25" font-size="6.2" fill="#222" text-anchor="middle">RR</text>
<text transform="translate(16.20 699.18) rotate(-90)" font-size="6.2" fill="#222" text-anchor="middle">RR</text>
<text x="47.32" y="752.25" font-size="6.2" fill="#222" text-anchor="middle">IMC</text>
<text transform="translate(16.20 717.13) rotate(-90)" font-size="6.2" fill="#222" text-anchor="middle">IMC</text>
<text x="65.27" y="752.25" font-size="6.2" fill="#222" text-anchor="middle">ICU</text>
<text transform="translate(16.20 735.08) rotate(-90)" font-size="6.2" fill="#222" text-anchor="middle">ICU</text>
<text x="47.32" y="758.55" font-size="5.3" fill="#222" text-anchor="middle">Predicted</text>
<text transform="translate(9.00 717.12) rotate(-90)" font-size="5.3" fill="#222" text-anchor="middle">Actual</text>
<text x="120.23" y="686.90" font-size="5.6" fill="#111" text-anchor="middle">ζ = -1.50</text>
<rect x="93.30" y="690.20" width="18.10" height="18.10" fill="#05723c"/>
<rect x="111.25" y="690.20" width="18.10" height="18.10" fill="#d9ef8b"/>
<rect x="129.20" y="690.20" width="18.10" height="18.10" fill="#66bd63"/>
<rect x="93.30" y="708.15" width="18.10" height="18.10" fill="#f67a49"/>
<rect x="111.25" y="708.15" width="18.10" height="18.10" fill="#05723c"/>
<rect x="129.20" y="708.15" width="18.10" height="18.10" fill="#31a356"/>
<rect x="93.30" y="726.10" width="18.10" height="18.10" fill="#e8f5a0"/>
<rect x="111.25" y="726.10" width="18.10" height="18.10" fill="#fff3aa"/>
<rect x="129.20" y="726.10" width="18.10" height="18.10" fill="#08763e"/>
<text x="102.28" y="697.70" fill="#fff">60.7%</text>
<text x="102.28" y="703.90" fill="#fff">(32)</text>
<text x="120.23" y="697.70" fill="#222">29.8%</text>
<text x="120.23" y="703.90" fill="#222">(16)</text>
<text x="138.18" y="697.70" fill="#fff">9.5%</text>
<text x="138.18" y="703.90" fill="#fff">(5)</text>
<text x="102.28" y="715.65" fill="#fff">59.2%</text>
<text x="102.28" y="721.85" fill="#fff">(12)</text>
<text x="120.23" y="715.65" fill="#fff">26.4%</text>
<text x="120.23" y="721.85" fill="#fff">(5)</text>
<text x="138.18" y="715.65" fill="#fff">14.4%</text>
<text x="138.18" y="721.85" fill="#fff">(3)</text>
<text x="102.28" y="733.60" fill="#222">19.7%</text>
<text x="102.28" y="739.80" fill="#222">(1)</text>
<text x="120.23" y="733.60" fill="#222">52.3%</text>
<text x="120.23" y="739.80" fill="#222">(3)</text>
<text x="138.18" y="733.60" fill="#fff">28.0%</text>
<text x="138.18" y="739.80" fill="#fff">(1)</text>
<path d="M93.30 699.18h-2M102.28 744.05v2M93.30 717.13h-2M120.23 744.05v2M93.30 735.08h-2M138.18 744.05v2" stroke="#333" stroke-width="0.6"/>
<text x="102.28" y="752.25" font-size="6.2" fill="#222" text-anchor="middle">RR</text>
<text transform="translate(89.10 699.18) rotate(-90)" font-size="6.2" fill="#222" text-anchor="middle">RR</text>
<text x="120.23" y="752.25" font-size="6.2" fill="#222" text-anchor="middle">IMC</text>
<text transform="translate(89.10 717.13) rotate(-90)" font-size="6.2" fill="#222" text-anchor="middle">IMC</text>
<text x="138.18" y="752.25" font-size="6.2" fill="#222" text-anchor="middle">ICU</text>
<text transform="translate(89.10 735.08) rotate(-90)" font-size="6.2" fill="#222" text-anchor="middle">ICU</text>
<text x="120.23" y="758.55" font-size="5.3" fill="#222" text-anchor="middle">Predicted</text>
<text transform="translate(81.90 717.12) rotate(-90)" font-size="5.3" fill="#222" text-anchor="middle">Actual</text>
<text x="193.12" y="686.90" font-size="5.6" fill="#111" text-anchor="middle">ζ = -1.00</text>
<rect x="166.20" y="690.20" width="18.10" height="18.10" fill="#05723c"/>
<rect x="184.15" y="690.20" width="18.10" height="18.10" fill="#fff9b5"/>
<rect x="202.10" y="690.20" width="18.10" height="18.10" fill="#48ae5b"/>
<rect x="166.20" y="708.15" width="18.10" height="18.10" fill="#fa9a58"/>
<rect x="184.15" y="708.15" width="18.10" height="18.10" fill="#08763e"/>
<rect x="202.10" y="708.15" width="18.10" height="18.10" fill="#31a356"/>
<rect x="166.20" y="726.10" width="18.10" height="18.10" fill="#cfeb84"/>
<rect x="184.15" y="726.10" width="18.10" height="18.10" fill="#fff3aa"/>
<rect x="202.10" y="726.10" width="18.10" height="18.10" fill="#08763e"/>
<text x="175.18" y="697.70" fill="#fff">54.1%</text>
<text x="175.18" y="703.90" fill="#fff">(29)</text>
<text x="193.12" y="697.70" fill="#222">39.2%</text>
<text x="193.12" y="703.90" fill="#222">(21)</text>
<text x="211.08" y="697.70" fill="#fff">6.6%</text>
<text x="211.08" y="703.90" fill="#fff">(3)</text>
<text x="175.18" y="715.65" fill="#222">54.9%</text>
<text x="175.18" y="721.85" fill="#222">(11)</text>
<text x="193.12" y="715.65" fill="#fff">32.7%</text>
<text x="193.12" y="721.85" fill="#fff">(6)</text>
<text x="211.08" y="715.65" fill="#fff">12.5%</text>
<text x="211.08" y="721.85" fill="#fff">(2)</text>
<text x="175.18" y="733.60" fill="#222">17.3%</text>
<text x="175.18" y="739.80" fill="#222">(1)</text>
<text x="193.12" y="733.60" fill="#222">54.3%</text>
<text x="193.12" y="739.80" fill="#222">(3)</text>
<text x="211.08" y="733.60" fill="#fff">28.3%</text>
<text x="211.08" y="739.80" fill="#fff">(1)</text>
<path d="M166.20 699.18h-2M175.18 744.05v2M166.20 717.13h-2M193.12 744.05v2M166.20 735.08h-2M211.08 744.05v2" stroke="#333" stroke-width="0.6"/>
<text x="175.18" y="752.25" font-size="6.2" fill="#222" text-anchor="middle">RR</text>
<text transform="translate(162.00 699.18) rotate(-90)" font-size="6.2" fill="#222" text-anchor="middle">RR</text>
<text x="193.12" y="752.25" font-size="6.2" fill="#222" text-anchor="middle">IMC</text>
<text transform="translate(162.00 717.13) rotate(-90)" font-size="6.2" fill="#222" text-anchor="middle">IMC</text>
<text x="211.08" y="752.25" font-size="6.2" fill="#222" text-anchor="middle">ICU</text>
<text transform="translate(162.00 735.08) rotate(-90)" font-size="6.2" fill="#222" text-anchor="middle">ICU</text>
<text x="193.12" y="758.55" font-size="5.3" fill="#222" text-anchor="middle">Predicted</text>
<text transform="translate(154.80 717.12) rotate(-90)" font-size="5.3" fill="#222" text-anchor="middle">Actual</text>
<text x="266.03" y="686.90" font-size="5.6" fill="#111" text-anchor="middle">ζ = -0.50</text>
<rect x="239.10" y="690.20" width="18.10" height="18.10" fill="#05723c"/>
<rect x="257.05" y="690.20" width="18.10" height="18.10" fill="#fff3aa"/>
<rect x="275.00" y="690.20" width="18.10" height="18.10" fill="#48ae5b"/>
<rect x="239.10" y="708.15" width="18.10" height="18.10" fill="#fdbd6e"/>
<rect x="257.05" y="708.15" width="18.10" height="18.10" fill="#08763e"/>
<rect x="275.00" y="708.15" width="18.10" height="18.10" fill="#31a356"/>
<rect x="239.10" y="726.10" width="18.10" height="18.10" fill="#bae277"/>
<rect x="257.05" y="726.10" width="18.10" height="18.10" fill="#f4faaf"/>
<rect x="275.00" y="726.10" width="18.10" height="18.10" fill="#08763e"/>
<text x="248.08" y="697.70" fill="#fff">48.6%</text>
<text x="248.08" y="703.90" fill="#fff">(26)</text>
<text x="266.03" y="697.70" fill="#222">43.3%</text>
<text x="266.03" y="703.90" fill="#222">(23)</text>
<text x="283.98" y="697.70" fill="#fff">8.1%</text>
<text x="283.98" y="703.90" fill="#fff">(4)</text>
<text x="248.08" y="715.65" fill="#222">48.7%</text>
<text x="248.08" y="721.85" fill="#222">(10)</text>
<text x="266.03" y="715.65" fill="#fff">38.3%</text>
<text x="266.03" y="721.85" fill="#fff">(7)</text>
<text x="283.98" y="715.65" fill="#fff">15.0%</text>
<text x="283.98" y="721.85" fill="#fff">(3)</text>
<text x="248.08" y="733.60" fill="#222">15.3%</text>
<text x="248.08" y="739.80" fill="#222">(0)</text>
<text x="266.03" y="733.60" fill="#222">49.7%</text>
<text x="266.03" y="739.80" fill="#222">(2)</text>
<text x="283.98" y="733.60" fill="#fff">35.0%</text>
<text x="283.98" y="739.80" fill="#fff">(2)</text>
<path d="M239.10 699.18h-2M248.08 744.05v2M239.10 717.13h-2M266.03 744.05v2M239.10 735.08h-2M283.98 744.05v2" stroke="#333" stroke-width="0.6"/>
<text x="248.08" y="752.25" font-size="6.2" fill="#222" text-anchor="middle">RR</text>
<text transform="translate(234.90 699.18) rotate(-90)" font-size="6.2" fill="#222" text-anchor="middle">RR</text>
<text x="266.03" y="752.25" font-size="6.2" fill="#222" text-anchor="middle">IMC</text>
<text transform="translate(234.90 717.13) rotate(-90)" font-size="6.2" fill="#222" text-anchor="middle">IMC</text>
<text x="283.98" y="752.25" font-size="6.2" fill="#222" text-anchor="middle">ICU</text>
<text transform="translate(234.90 735.08) rotate(-90)" font-size="6.2" fill="#222" text-anchor="middle">ICU</text>
<text x="266.03" y="758.55" font-size="5.3" fill="#222" text-anchor="middle">Predicted</text>
<text transform="translate(227.70 717.12) rotate(-90)" font-size="5.3" fill="#222" text-anchor="middle">Actual</text>
<text x="338.93" y="686.90" font-size="5.6" fill="#111" text-anchor="middle">ζ = 0.00</text>
<rect x="312.00" y="690.20" width="18.10" height="18.10" fill="#05723c"/>
<rect x="329.95" y="690.20" width="18.10" height="18.10" fill="#fee99b"/>
<rect x="347.90" y="690.20" width="18.10" height="18.10" fill="#80c866"/>
<rect x="312.00" y="708.15" width="18.10" height="18.10" fill="#fee390"/>
<rect x="329.95" y="708.15" width="18.10" height="18.10" fill="#08763e"/>
<rect x="347.90" y="708.15" width="18.10" height="18.10" fill="#48ae5b"/>
<rect x="312.00" y="726.10" width="18.10" height="18.10" fill="#b5e074"/>
<rect x="329.95" y="726.10" width="18.10" height="18.10" fill="#f0f9aa"/>
<rect x="347.90" y="726.10" width="18.10" height="18.10" fill="#08763e"/>
<text x="320.98" y="697.70" fill="#fff">42.9%</text>
<text x="320.98" y="703.90" fill="#fff">(23)</text>
<text x="338.93" y="697.70" fill="#222">46.7%</text>
<text x="338.93" y="703.90" fill="#222">(25)</text>
<text x="356.88" y="697.70" fill="#222">10.4%</text>
<text x="356.88" y="703.90" fill="#222">(5)</text>
<text x="320.98" y="715.65" fill="#222">43.8%</text>
<text x="320.98" y="721.85" fill="#222">(9)</text>
<text x="338.93" y="715.65" fill="#fff">39.9%</text>
<text x="338.93" y="721.85" fill="#fff">(8)</text>
<text x="356.88" y="715.65" fill="#fff">16.3%</text>
<text x="356.88" y="721.85" fill="#fff">(3)</text>
<text x="320.98" y="733.60" fill="#222">14.0%</text>
<text x="320.98" y="739.80" fill="#222">(0)</text>
<text x="338.93" y="733.60" fill="#222">46.0%</text>
<text x="338.93" y="739.80" fill="#222">(2)</text>
<text x="356.88" y="733.60" fill="#fff">40.0%</text>
<text x="356.88" y="739.80" fill="#fff">(2)</text>
<path d="M312.00 699.18h-2M320.98 744.05v2M312.00 717.13h-2M338.93 744.05v2M312.00 735.08h-2M356.88 744.05v2" stroke="#333" stroke-width="0.6"/>
<text x="320.98" y="752.25" font-size="6.2" fill="#222" text-anchor="middle">RR</text>
<text transform="translate(307.80 699.18) rotate(-90)" font-size="6.2" fill="#222" text-anchor="middle">RR</text>
<text x="338.93" y="752.25" font-size="6.2" fill="#222" text-anchor="middle">IMC</text>
<text transform="translate(307.80 717.13) rotate(-90)" font-size="6.2" fill="#222" text-anchor="middle">IMC</text>
<text x="356.88" y="752.25" font-size="6.2" fill="#222" text-anchor="middle">ICU</text>
<text transform="translate(307.80 735.08) rotate(-90)" font-size="6.2" fill="#222" text-anchor="middle">ICU</text>
<text x="338.93" y="758.55" font-size="5.3" fill="#222" text-anchor="middle">Predicted</text>
<text transform="translate(300.60 717.12) rotate(-90)" font-size="5.3" fill="#222" text-anchor="middle">Actual</text>
<text x="411.82" y="686.90" font-size="5.6" fill="#111" text-anchor="middle">ζ = 0.50</text>
<rect x="384.90" y="690.20" width="18.10" height="18.10" fill="#05723c"/>
<rect x="402.85" y="690.20" width="18.10" height="18.10" fill="#fdbd6e"/>
<rect x="420.80" y="690.20" width="18.10" height="18.10" fill="#8cce67"/>
<rect x="384.90" y="708.15" width="18.10" height="18.10" fill="#cae881"/>
<rect x="402.85" y="708.15" width="18.10" height="18.10" fill="#05723c"/>
<rect x="420.80" y="708.15" width="18.10" height="18.10" fill="#48ae5b"/>
<rect x="384.90" y="726.10" width="18.10" height="18.10" fill="#80c866"/>
<rect x="402.85" y="726.10" width="18.10" height="18.10" fill="#fff9b5"/>
<rect x="420.80" y="726.10" width="18.10" height="18.10" fill="#08763e"/>
<text x="393.88" y="697.70" fill="#fff">33.6%</text>
<text x="393.88" y="703.90" fill="#fff">(18)</text>
<text x="411.82" y="697.70" fill="#222">54.6%</text>
<text x="411.82" y="703.90" fill="#222">(29)</text>
<text x="429.77" y="697.70" fill="#222">11.8%</text>
<text x="429.77" y="703.90" fill="#222">(6)</text>
<text x="393.88" y="715.65" fill="#222">30.3%</text>
<text x="393.88" y="721.85" fill="#222">(6)</text>
<text x="411.82" y="715.65" fill="#fff">52.5%</text>
<text x="411.82" y="721.85" fill="#fff">(11)</text>
<text x="429.77" y="715.65" fill="#fff">17.2%</text>
<text x="429.77" y="721.85" fill="#fff">(3)</text>
<text x="393.88" y="733.60" fill="#222">9.7%</text>
<text x="393.88" y="739.80" fill="#222">(0)</text>
<text x="411.82" y="733.60" fill="#222">51.7%</text>
<text x="411.82" y="739.80" fill="#222">(3)</text>
<text x="429.77" y="733.60" fill="#fff">38.7%</text>
<text x="429.77" y="739.80" fill="#fff">(2)</text>
<path d="M384.90 699.18h-2M393.88 744.05v2M384.90 717.13h-2M411.82 744.05v2M384.90 735.08h-2M429.77 744.05v2" stroke="#333" stroke-width="0.6"/>
<text x="393.88" y="752.25" font-size="6.2" fill="#222" text-anchor="middle">RR</text>
<text transform="translate(380.70 699.18) rotate(-90)" font-size="6.2" fill="#222" text-anchor="middle">RR</text>
<text x="411.82" y="752.25" font-size="6.2" fill="#222" text-anchor="middle">IMC</text>
<text transform="translate(380.70 717.13) rotate(-90)" font-size="6.2" fill="#222" text-anchor="middle">IMC</text>
<text x="429.77" y="752.25" font-size="6.2" fill="#222" text-anchor="middle">ICU</text>
<text transform="translate(380.70 735.08) rotate(-90)" font-size="6.2" fill="#222" text-anchor="middle">ICU</text>
<text x="411.82" y="758.55" font-size="5.3" fill="#222" text-anchor="middle">Predicted</text>
<text transform="translate(373.50 717.12) rotate(-90)" font-size="5.3" fill="#222" text-anchor="middle">Actual</text>
<text x="484.73" y="686.90" font-size="5.6" fill="#111" text-anchor="middle">ζ = 1.00</text>
<rect x="457.80" y="690.20" width="18.10" height="18.10" fill="#05723c"/>
<rect x="475.75" y="690.20" width="18.10" height="18.10" fill="#fecc7a"/>
<rect x="493.70" y="690.20" width="18.10" height="18.10" fill="#fef0a5"/>
<rect x="457.80" y="708.15" width="18.10" height="18.10" fill="#c5e67e"/>
<rect x="475.75" y="708.15" width="18.10" height="18.10" fill="#05723c"/>
<rect x="493.70" y="708.15" width="18.10" height="18.10" fill="#8cce67"/>
<rect x="457.80" y="726.10" width="18.10" height="18.10" fill="#5eb961"/>
<rect x="475.75" y="726.10" width="18.10" height="18.10" fill="#e1f295"/>
<rect x="493.70" y="726.10" width="18.10" height="18.10" fill="#08763e"/>
<text x="466.78" y="697.70" fill="#fff">26.2%</text>
<text x="466.78" y="703.90" fill="#fff">(14)</text>
<text x="484.73" y="697.70" fill="#222">52.3%</text>
<text x="484.73" y="703.90" fill="#222">(28)</text>
<text x="502.68" y="697.70" fill="#222">21.5%</text>
<text x="502.68" y="703.90" fill="#222">(11)</text>
<text x="466.78" y="715.65" fill="#222">25.1%</text>
<text x="466.78" y="721.85" fill="#222">(5)</text>
<text x="484.73" y="715.65" fill="#fff">47.0%</text>
<text x="484.73" y="721.85" fill="#fff">(9)</text>
<text x="502.68" y="715.65" fill="#222">27.8%</text>
<text x="502.68" y="721.85" fill="#222">(5)</text>
<text x="466.78" y="733.60" fill="#fff">9.0%</text>
<text x="466.78" y="739.80" fill="#fff">(0)</text>
<text x="484.73" y="733.60" fill="#222">42.3%</text>
<text x="484.73" y="739.80" fill="#222">(2)</text>
<text x="502.68" y="733.60" fill="#fff">48.7%</text>
<text x="502.68" y="739.80" fill="#fff">(2)</text>
<path d="M457.80 699.18h-2M466.78 744.05v2M457.80 717.13h-2M484.73 744.05v2M457.80 735.08h-2M502.68 744.05v2" stroke="#333" stroke-width="0.6"/>
<text x="466.78" y="752.25" font-size="6.2" fill="#222" text-anchor="middle">RR</text>
<text transform="translate(453.60 699.18) rotate(-90)" font-size="6.2" fill="#222" text-anchor="middle">RR</text>
<text x="484.73" y="752.25" font-size="6.2" fill="#222" text-anchor="middle">IMC</text>
<text transform="translate(453.60 717.13) rotate(-90)" font-size="6.2" fill="#222" text-anchor="middle">IMC</text>
<text x="502.68" y="752.25" font-size="6.2" fill="#222" text-anchor="middle">ICU</text>
<text transform="translate(453.60 735.08) rotate(-90)" font-size="6.2" fill="#222" text-anchor="middle">ICU</text>
<text x="484.73" y="758.55" font-size="5.3" fill="#222" text-anchor="middle">Predicted</text>
<text transform="translate(446.40 717.12) rotate(-90)" font-size="5.3" fill="#222" text-anchor="middle">Actual</text>
<text x="557.62" y="686.90" font-size="5.6" fill="#111" text-anchor="middle">ζ = 1.50</text>
<rect x="530.70" y="690.20" width="18.10" height="18.10" fill="#05723c"/>
<rect x="548.65" y="690.20" width="18.10" height="18.10" fill="#fecc7a"/>
<rect x="566.60" y="690.20" width="18.10" height="18.10" fill="#e34832"/>
<rect x="530.70" y="708.15" width="18.10" height="18.10" fill="#31a356"/>
<rect x="548.65" y="708.15" width="18.10" height="18.10" fill="#05723c"/>
<rect x="566.60" y="708.15" width="18.10" height="18.10" fill="#d9ef8b"/>
<rect x="530.70" y="726.10" width="18.10" height="18.10" fill="#31a356"/>
<rect x="548.65" y="726.10" width="18.10" height="18.10" fill="#c5e67e"/>
<rect x="566.60" y="726.10" width="18.10" height="18.10" fill="#08763e"/>
<text x="539.68" y="697.70" fill="#fff">13.3%</text>
<text x="539.68" y="703.90" fill="#fff">(7)</text>
<text x="557.63" y="697.70" fill="#222">50.0%</text>
<text x="557.63" y="703.90" fill="#222">(27)</text>
<text x="575.58" y="697.70" fill="#fff">36.7%</text>
<text x="575.58" y="703.90" fill="#fff">(10)</text>
<text x="539.68" y="715.65" fill="#fff">10.9%</text>
<text x="539.68" y="721.85" fill="#fff">(2)</text>
<text x="557.63" y="715.65" fill="#fff">46.8%</text>
<text x="557.63" y="721.85" fill="#fff">(9)</text>
<text x="575.58" y="715.65" fill="#222">42.4%</text>
<text x="575.58" y="721.85" fill="#222">(8)</text>
<text x="539.68" y="733.60" fill="#fff">6.3%</text>
<text x="539.68" y="739.80" fill="#fff">(0)</text>
<text x="557.63" y="733.60" fill="#222">33.3%</text>
<text x="557.63" y="739.80" fill="#222">(2)</text>
<text x="575.58" y="733.60" fill="#fff">60.3%</text>
<text x="575.58" y="739.80" fill="#fff">(3)</text>
<path d="M530.70 699.18h-2M539.68 744.05v2M530.70 717.13h-2M557.63 744.05v2M530.70 735.08h-2M575.58 744.05v2" stroke="#333" stroke-width="0.6"/>
<text x="539.68" y="752.25" font-size="6.2" fill="#222" text-anchor="middle">RR</text>
<text transform="translate(526.50 699.18) rotate(-90)" font-size="6.2" fill="#222" text-anchor="middle">RR</text>
<text x="557.63" y="752.25" font-size="6.2" fill="#222" text-anchor="middle">IMC</text>
<text transform="translate(526.50 717.13) rotate(-90)" font-size="6.2" fill="#222" text-anchor="middle">IMC</text>
<text x="575.58" y="752.25" font-size="6.2" fill="#222" text-anchor="middle">ICU</text>
<text transform="translate(526.50 735.08) rotate(-90)" font-size="6.2" fill="#222" text-anchor="middle">ICU</text>
<text x="557.62" y="758.55" font-size="5.3" fill="#222" text-anchor="middle">Predicted</text>
<text transform="translate(519.30 717.12) rotate(-90)" font-size="5.3" fill="#222" text-anchor="middle">Actual</text>
<text x="630.52" y="686.90" font-size="5.6" fill="#111" text-anchor="middle">ζ = 2.00</text>
<rect x="603.60" y="690.20" width="18.10" height="18.10" fill="#128a48"/>
<rect x="621.55" y="690.20" width="18.10" height="18.10" fill="#fecc7a"/>
<rect x="639.50" y="690.20" width="18.10" height="18.10" fill="#a50026"/>
<rect x="603.60" y="708.15" width="18.10" height="18.10" fill="#128a48"/>
<rect x="621.55" y="708.15" width="18.10" height="18.10" fill="#05723c"/>
<rect x="639.50" y="708.15" width="18.10" height="18.10" fill="#fffcba"/>
<rect x="603.60" y="726.10" width="18.10" height="18.10" fill="#128a48"/>
<rect x="621.55" y="726.10" width="18.10" height="18.10" fill="#93d168"/>
<rect x="639.50" y="726.10" width="18.10" height="18.10" fill="#05723c"/>
<text x="612.58" y="697.70" fill="#fff">4.1%</text>
<text x="612.58" y="703.90" fill="#fff">(2)</text>
<text x="630.53" y="697.70" fill="#222">51.4%</text>
<text x="630.53" y="703.90" fill="#222">(27)</text>
<text x="648.48" y="697.70" fill="#fff">44.6%</text>
<text x="648.48" y="703.90" fill="#fff">(24)</text>
<text x="612.58" y="715.65" fill="#fff">2.8%</text>
<text x="612.58" y="721.85" fill="#fff">(0)</text>
<text x="630.53" y="715.65" fill="#fff">46.2%</text>
<text x="630.53" y="721.85" fill="#fff">(9)</text>
<text x="648.48" y="715.65" fill="#222">51.0%</text>
<text x="648.48" y="721.85" fill="#222">(10)</text>
<text x="612.58" y="733.60" fill="#fff">1.7%</text>
<text x="612.58" y="739.80" fill="#fff">(0)</text>
<text x="630.53" y="733.60" fill="#222">25.3%</text>
<text x="630.53" y="739.80" fill="#222">(1)</text>
<text x="648.48" y="733.60" fill="#fff">73.0%</text>
<text x="648.48" y="739.80" fill="#fff">(4)</text>
<path d="M603.60 699.18h-2M612.58 744.05v2M603.60 717.13h-2M630.53 744.05v2M603.60 735.08h-2M648.48 744.05v2" stroke="#333" stroke-width="0.6"/>
<text x="612.58" y="752.25" font-size="6.2" fill="#222" text-anchor="middle">RR</text>
<text transform="translate(599.40 699.18) rotate(-90)" font-size="6.2" fill="#222" text-anchor="middle">RR</text>
<text x="630.53" y="752.25" font-size="6.2" fill="#222" text-anchor="middle">IMC</text>
<text transform="translate(599.40 717.13) rotate(-90)" font-size="6.2" fill="#222" text-anchor="middle">IMC</text>
<text x="648.48" y="752.25" font-size="6.2" fill="#222" text-anchor="middle">ICU</text>
<text transform="translate(599.40 735.08) rotate(-90)" font-size="6.2" fill="#222" text-anchor="middle">ICU</text>
<text x="630.52" y="758.55" font-size="5.3" fill="#222" text-anchor="middle">Predicted</text>
<text transform="translate(592.20 717.12) rotate(-90)" font-size="5.3" fill="#222" text-anchor="middle">Actual</text>
</g>
<defs><linearGradient id="cbD" x1="0" y1="1" x2="0" y2="0"><stop offset="0.000" stop-color="#006837"/><stop offset="0.100" stop-color="#1a9850"/><stop offset="0.200" stop-color="#66bd63"/><stop offset="0.300" stop-color="#a6d96a"/><stop offset="0.400" stop-color="#d9ef8b"/><stop offset="0.500" stop-color="#ffffbf"/><stop offset="0.600" stop-color="#fee08b"/><stop offset="0.700" stop-color="#fdae61"/><stop offset="0.800" stop-color="#f46d43"/><stop offset="0.900" stop-color="#d73027"/><stop offset="1.000" stop-color="#a50026"/></linearGradient></defs>
<rect x="663.00" y="578.10" width="3.80" height="56.00" fill="url(#cbD)"/>
<text x="669.00" y="636.10" font-size="5.8" fill="#222">0.00</text>
<text x="669.00" y="623.83" font-size="5.8" fill="#222">0.05</text>
<text x="669.00" y="611.55" font-size="5.8" fill="#222">0.10</text>
<text x="669.00" y="599.27" font-size="5.8" fill="#222">0.15</text>
<text x="669.00" y="587.00" font-size="5.8" fill="#222">0.20</text>
<path d="M666.80 634.10h1.6M666.80 621.83h1.6M666.80 609.55h1.6M666.80 597.27h1.6M666.80 585.00h1.6" stroke="#333" stroke-width="0.6"/>
<text transform="translate(684.70 606.10) rotate(-90)" font-size="5.4" fill="#222" text-anchor="middle">Cost × Frequency</text>
<defs><linearGradient id="cbE" x1="0" y1="1" x2="0" y2="0"><stop offset="0.000" stop-color="#006837"/><stop offset="0.100" stop-color="#1a9850"/><stop offset="0.200" stop-color="#66bd63"/><stop offset="0.300" stop-color="#a6d96a"/><stop offset="0.400" stop-color="#d9ef8b"/><stop offset="0.500" stop-color="#ffffbf"/><stop offset="0.600" stop-color="#fee08b"/><stop offset="0.700" stop-color="#fdae61"/><stop offset="0.800" stop-color="#f46d43"/><stop offset="0.900" stop-color="#d73027"/><stop offset="1.000" stop-color="#a50026"/></linearGradient></defs>
<rect x="662.10" y="689.10" width="3.50" height="56.20" fill="url(#cbE)"/>
<text x="667.80" y="747.30" font-size="5.8" fill="#222">0.00</text>
<text x="667.80" y="735.02" font-size="5.8" fill="#222">0.05</text>
<text x="667.80" y="722.75" font-size="5.8" fill="#222">0.10</text>
<text x="667.80" y="710.48" font-size="5.8" fill="#222">0.15</text>
<text x="667.80" y="698.20" font-size="5.8" fill="#222">0.20</text>
<path d="M665.60 745.30h1.6M665.60 733.02h1.6M665.60 720.75h1.6M665.60 708.48h1.6M665.60 696.20h1.6" stroke="#333" stroke-width="0.6"/>
<text transform="translate(683.50 717.20) rotate(-90)" font-size="5.4" fill="#222" text-anchor="middle">Cost × Frequency</text>
<text x="8.2" y="574.8" font-size="15.5" font-weight="bold" fill="#000">D</text>
<text transform="translate(9.6 690.8) scale(0.82 1)" font-size="15.5" font-weight="bold" fill="#000">E</text>
</g>
</svg>
</body></html>
